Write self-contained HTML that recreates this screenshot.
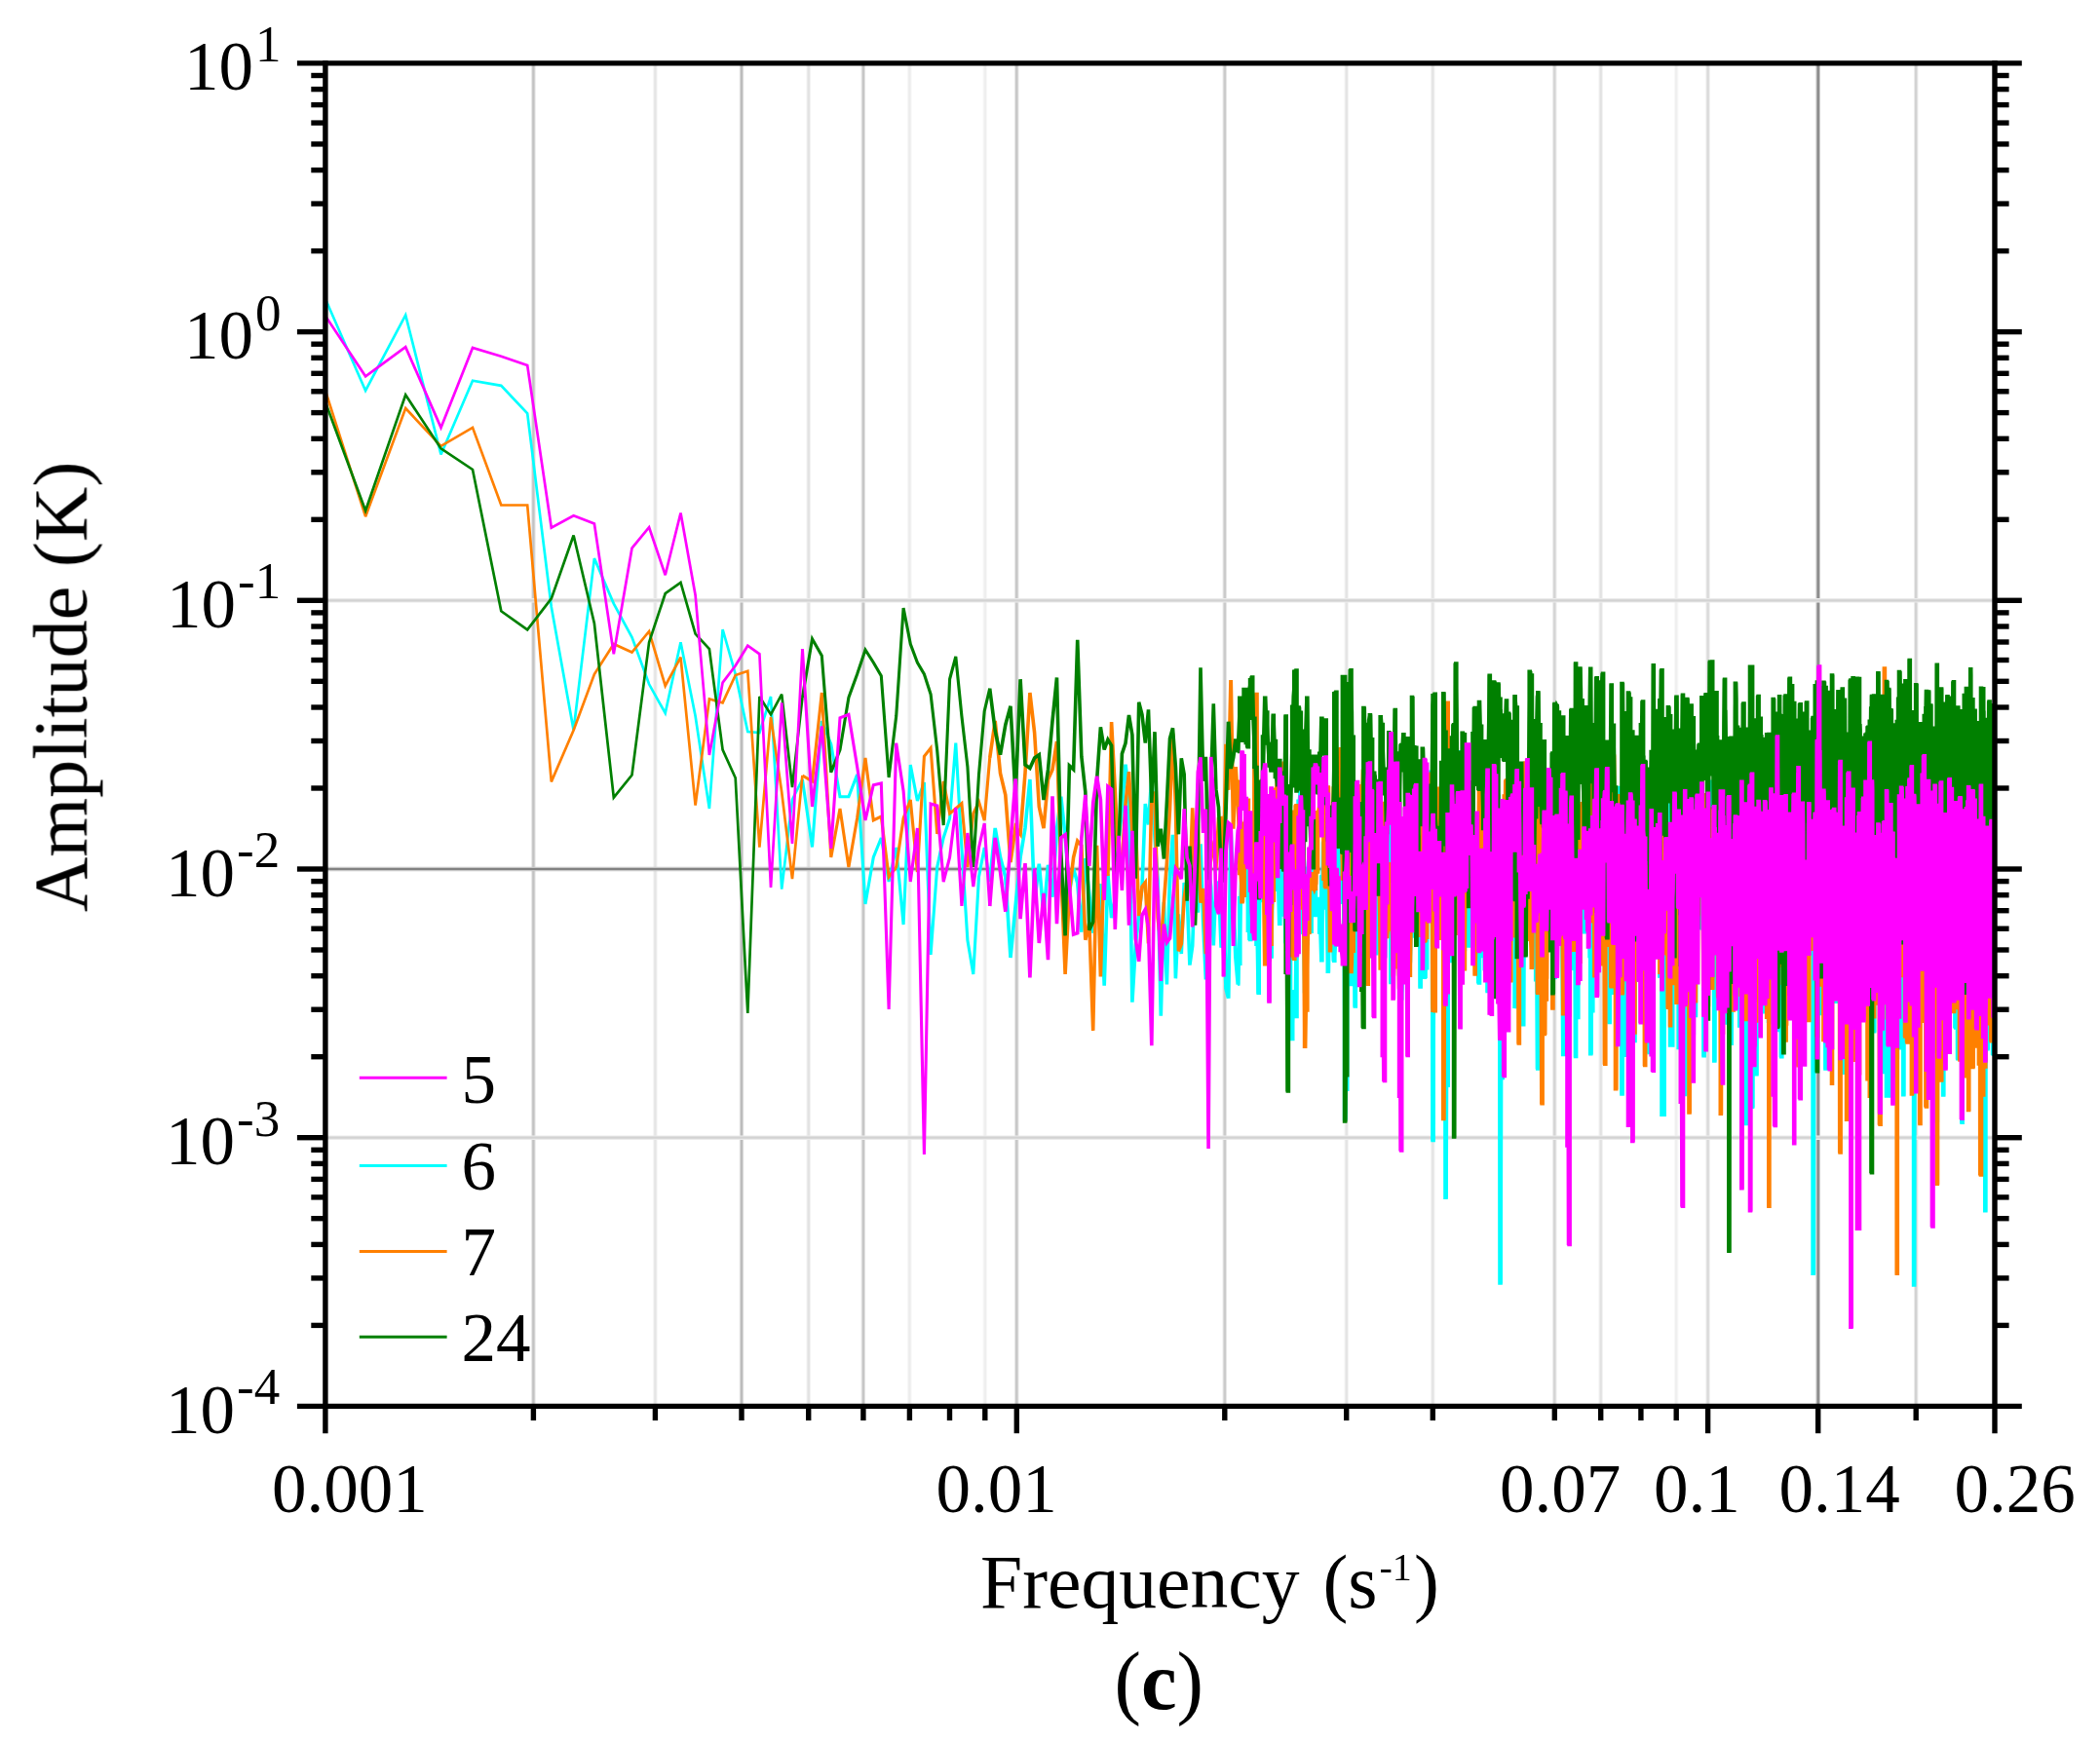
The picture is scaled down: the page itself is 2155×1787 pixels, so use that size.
<!DOCTYPE html>
<html lang="en">
<head>
<meta charset="utf-8">
<title>Amplitude spectrum (c)</title>
<style>
html,body{margin:0;padding:0;background:#ffffff;}
body{width:2155px;height:1787px;overflow:hidden;}
svg{display:block;}
</style>
</head>
<body>
<svg width="2155" height="1787" viewBox="0 0 2155 1787">
<rect x="0" y="0" width="2155" height="1787" fill="#ffffff"/>
<defs><filter id="soft" x="-2%" y="-2%" width="104%" height="104%"><feGaussianBlur stdDeviation="0.75"/></filter><clipPath id="plotclip"><rect x="333.9" y="64.9" width="1713.1" height="1378.5"/></clipPath></defs>
<g filter="url(#soft)">
<g fill="none">
<line x1="547.4" y1="64.9" x2="547.4" y2="1443.4" stroke="#e4e4e4" stroke-width="4.4"/>
<line x1="547.4" y1="64.9" x2="547.4" y2="1443.4" stroke="#c2c2c2" stroke-width="2.3"/>
<line x1="672.4" y1="64.9" x2="672.4" y2="1443.4" stroke="#f3f3f3" stroke-width="4.4"/>
<line x1="672.4" y1="64.9" x2="672.4" y2="1443.4" stroke="#e4e4e4" stroke-width="2.3"/>
<line x1="761.0" y1="64.9" x2="761.0" y2="1443.4" stroke="#e1e1e1" stroke-width="4.4"/>
<line x1="761.0" y1="64.9" x2="761.0" y2="1443.4" stroke="#bcbcbc" stroke-width="2.3"/>
<line x1="829.7" y1="64.9" x2="829.7" y2="1443.4" stroke="#f2f2f2" stroke-width="4.4"/>
<line x1="829.7" y1="64.9" x2="829.7" y2="1443.4" stroke="#e2e2e2" stroke-width="2.3"/>
<line x1="885.9" y1="64.9" x2="885.9" y2="1443.4" stroke="#e5e5e5" stroke-width="4.4"/>
<line x1="885.9" y1="64.9" x2="885.9" y2="1443.4" stroke="#c6c6c6" stroke-width="2.3"/>
<line x1="933.4" y1="64.9" x2="933.4" y2="1443.4" stroke="#f6f6f6" stroke-width="4.4"/>
<line x1="933.4" y1="64.9" x2="933.4" y2="1443.4" stroke="#ececec" stroke-width="2.3"/>
<line x1="1010.8" y1="64.9" x2="1010.8" y2="1443.4" stroke="#f8f8f8" stroke-width="4.4"/>
<line x1="1010.8" y1="64.9" x2="1010.8" y2="1443.4" stroke="#efefef" stroke-width="2.3"/>
<line x1="1043.3" y1="64.9" x2="1043.3" y2="1443.4" stroke="#e5e5e5" stroke-width="4.4"/>
<line x1="1043.3" y1="64.9" x2="1043.3" y2="1443.4" stroke="#c6c6c6" stroke-width="2.3"/>
<line x1="1256.8" y1="64.9" x2="1256.8" y2="1443.4" stroke="#e7e7e7" stroke-width="4.4"/>
<line x1="1256.8" y1="64.9" x2="1256.8" y2="1443.4" stroke="#cacaca" stroke-width="2.3"/>
<line x1="1381.7" y1="64.9" x2="1381.7" y2="1443.4" stroke="#f3f3f3" stroke-width="4.4"/>
<line x1="1381.7" y1="64.9" x2="1381.7" y2="1443.4" stroke="#e4e4e4" stroke-width="2.3"/>
<line x1="1470.3" y1="64.9" x2="1470.3" y2="1443.4" stroke="#f3f3f3" stroke-width="4.4"/>
<line x1="1470.3" y1="64.9" x2="1470.3" y2="1443.4" stroke="#e4e4e4" stroke-width="2.3"/>
<line x1="1595.3" y1="64.9" x2="1595.3" y2="1443.4" stroke="#ececec" stroke-width="4.4"/>
<line x1="1595.3" y1="64.9" x2="1595.3" y2="1443.4" stroke="#d4d4d4" stroke-width="2.3"/>
<line x1="1642.7" y1="64.9" x2="1642.7" y2="1443.4" stroke="#f2f2f2" stroke-width="4.4"/>
<line x1="1642.7" y1="64.9" x2="1642.7" y2="1443.4" stroke="#e2e2e2" stroke-width="2.3"/>
<line x1="1720.2" y1="64.9" x2="1720.2" y2="1443.4" stroke="#f8f8f8" stroke-width="4.4"/>
<line x1="1720.2" y1="64.9" x2="1720.2" y2="1443.4" stroke="#efefef" stroke-width="2.3"/>
<line x1="1752.6" y1="64.9" x2="1752.6" y2="1443.4" stroke="#eeeeee" stroke-width="4.4"/>
<line x1="1752.6" y1="64.9" x2="1752.6" y2="1443.4" stroke="#dadada" stroke-width="2.3"/>
<line x1="1966.2" y1="64.9" x2="1966.2" y2="1443.4" stroke="#ebebeb" stroke-width="4.4"/>
<line x1="1966.2" y1="64.9" x2="1966.2" y2="1443.4" stroke="#d2d2d2" stroke-width="2.3"/>
<line x1="1865.7" y1="64.9" x2="1865.7" y2="1443.4" stroke="#c9c9c9" stroke-width="4.6"/>
<line x1="1865.7" y1="64.9" x2="1865.7" y2="1443.4" stroke="#868686" stroke-width="2.2"/>
<line x1="333.9" y1="616.3" x2="2047.0" y2="616.3" stroke="#ebebeb" stroke-width="4.6"/>
<line x1="333.9" y1="616.3" x2="2047.0" y2="616.3" stroke="#d2d2d2" stroke-width="2.2"/>
<line x1="333.9" y1="892.0" x2="2047.0" y2="892.0" stroke="#c7c7c7" stroke-width="4.6"/>
<line x1="333.9" y1="892.0" x2="2047.0" y2="892.0" stroke="#828282" stroke-width="2.2"/>
<line x1="333.9" y1="1167.7" x2="2047.0" y2="1167.7" stroke="#ebebeb" stroke-width="4.6"/>
<line x1="333.9" y1="1167.7" x2="2047.0" y2="1167.7" stroke="#d2d2d2" stroke-width="2.2"/>
</g>
<g clip-path="url(#plotclip)" stroke-linejoin="miter" stroke-miterlimit="3">
<path stroke="#00ffff" stroke-width="2.7" fill="none" d="M327.6 292.4L375.1 401.0L416.2 323.4L452.5 466.5L485.0 390.7L514.3 395.8L541.2 424.3L565.8 623.0L588.6 749.5L609.9 573.1L629.8 619.6L648.5 654.0L666.1 702.3L682.7 732.0L698.5 659.2L713.6 735.0L727.9 830.0L741.6 646.0L754.7 692.0L767.3 751.0L779.4 752.0L791.0 715.0L802.2 912.6L813.0 821.0L823.4 800.0"/>
<path stroke="#00ffff" stroke-width="3.1" fill="none" d="M823.4 800.0L833.5 869.5L843.3 740.0L852.8 764.0L862.0 817.8L870.9 817.8L879.6 795.0L888.0 928.0L896.3 880.0L904.3 860.0L912.1 905.0L919.7 870.0L927.1 949.0L934.3 785.0L941.4 822.0L948.4 803.0L955.1 980.0L961.7 890.0L968.2 860.0L974.6 840.0L980.8 762.7L986.9 870.0L992.9 965.0L998.8 1000.0L1004.5 900.0L1010.2 870.0L1015.7 905.0"/>
<path stroke="#00ffff" stroke-width="3.6" fill="none" d="M1015.7 905.0L1021.2 850.0L1026.5 880.0L1031.8 900.0L1037.0 983.0L1042.1 930.0L1047.1 880.0L1052.0 850.0L1056.9 800.0L1061.6 925.4L1066.3 886.7L1071.0 938.3L1075.5 887.8L1080.0 920.7L1084.5 851.0L1088.8 817.8L1093.1 857.3L1097.4 915.4L1101.6 891.5L1105.7 906.2L1109.8 956.7L1113.8 881.0L1117.8 917.8L1121.7 957.6L1125.6 919.6L1129.4 907.2L1133.2 1011.8L1136.9 897.2L1140.6 942.1L1144.3 922.2L1147.9 862.7L1151.4 831.2L1155.0 784.7L1158.5 815.2L1161.9 1028.7L1165.3 971.0L1168.7 939.1L1172.0 910.3L1175.3 825.1L1178.5 846.5L1181.8 797.4L1185.0 859.9L1188.1 903.7L1191.3 1042.6L1194.4 925.9L1197.4 1010.5L1200.5 898.3L1203.5 856.8L1206.4 1004.3L1209.4 938.4L1212.3 979.0L1215.2 906.1L1218.1 915.1L1220.9 990.6L1223.7 970.8L1226.5 895.1L1229.3 936.7L1232.0 866.2L1234.7 947.3L1237.4 1005.4L1240.1 887.4L1242.7 910.1L1245.3 970.5L1247.9 905.0L1250.5 909.2L1253.1 972.8L1255.6 927.1"/>
<path stroke="#00ffff" stroke-width="3.9" fill="none" d="M1255.6 927.1L1258.1 1014.5L1260.6 1024.6L1263.1 853.1L1265.6 920.3L1268.0 982.5L1270.4 1010.5L1272.8 935.0L1275.2 862.7L1277.5 868.9L1279.9 899.5L1282.2 965.0L1284.5 920.3L1286.8 853.3L1289.1 885.4L1291.3 1019.7L1293.6 828.2L1295.8 925.1L1298.0 895.7L1300.2 857.0L1302.4 897.8L1304.5 982.5L1306.7 856.2L1308.8 846.8L1310.9 874.9L1313.0 948.9L1315.1 894.8L1317.2 891.2L1319.3 967.4L1321.3 928.7L1323.3 986.6L1325.4 1067.0L1327.4 1017.2L1329.4 1044.1L1331.3 857.3L1333.3 825.2L1335.3 801.0L1337.2 924.3L1339.1 1018.1L1341.1 908.0L1343.0 879.8L1344.9 956.8L1346.8 854.2L1348.6 845.5L1350.5 940.1L1352.3 921.9L1354.2 925.3L1356.0 986.2L1357.8 864.4L1359.6 913.0L1361.4 925.2L1363.2 997.8L1365.0 853.7L1366.8 935.0L1368.5 986.8L1370.3 969.6L1372.0 807.7L1373.7 847.6L1375.4 926.7L1377.1 879.5L1378.8 831.5L1380.5 1149.0L1382.2 1032.8L1383.9 947.7L1385.5 1011.0L1387.2 897.7L1388.8 891.8L1390.5 1033.6L1392.1 900.8L1393.7 968.3L1395.3 889.6L1396.9 824.6L1398.5 802.4L1400.1 876.9L1401.7 933.1L1403.2 964.7L1404.8 907.0L1406.3 898.9L1407.9 874.4L1409.4 877.3L1411.0 866.7L1412.5 979.2L1414.0 924.7L1415.5 953.6L1417.0 942.9L1418.5 849.7L1420.0 929.6L1421.5 982.7L1422.9 841.1L1424.4 871.5L1425.8 828.1L1427.3 1009.0L1428.7 911.5L1430.2 940.5L1431.6 889.7L1433.0 868.6L1434.4 974.7L1435.9 866.8L1437.3 1025.3L1438.7 1013.6L1440.0 890.6L1441.4 892.5L1442.8 829.0L1444.2 858.1L1445.5 934.5L1446.9 986.9L1448.3 947.1L1449.6 948.5L1450.9 905.4L1452.3 807.3L1453.6 891.8L1454.9 936.5L1456.3 886.0L1457.6 1013.5L1458.9 888.4L1460.2 935.1L1461.5 936.0L1462.8 1003.9L1464.1 842.4L1465.3 813.5L1466.6 863.7L1467.9 791.8L1469.2 831.4L1470.4 1171.0L1471.7 944.8L1472.9 985.9L1474.2 881.9L1475.4 857.0L1476.6 887.0L1477.9 877.3L1479.1 867.3L1480.3 914.5L1481.5 994.4L1482.7 865.6L1483.9 1229.8L1485.1 927.6L1486.3 957.6L1487.5 878.0L1488.7 987.1L1489.9 838.3L1491.1 827.5L1492.3 934.8L1493.4 843.7L1494.6 823.9L1495.7 918.5L1496.9 879.4L1498.1 771.2L1499.2 789.1L1500.3 870.0L1501.5 990.2L1502.6 879.6L1503.8 812.7L1504.9 850.4L1506.0 971.5L1507.1 875.6L1508.2 856.8L1509.3 892.7L1510.4 917.0L1511.5 896.8L1512.6 871.1L1513.7 870.2L1514.8 879.7L1515.9 885.6L1517.0 1009.5L1518.1 984.2L1519.2 980.8L1520.2 856.9L1521.3 910.6L1522.4 907.4L1523.4 996.3L1524.5 911.5L1525.5 902.9L1526.6 1018.0L1527.6 921.4L1528.7 930.4L1529.7 877.8L1530.7 930.7L1531.8 1015.7L1532.8 913.9L1533.8 852.4L1534.9 907.1L1535.9 805.8L1536.9 849.9L1537.9 976.8L1538.9 940.6L1539.9 1317.5L1540.9 911.5L1541.9 1017.2L1542.9 875.5L1543.9 965.6L1544.9 986.2L1545.9 960.5L1546.9 886.2L1547.8 951.5L1548.8 920.1L1549.8 928.2L1550.8 875.3L1551.7 874.5L1552.7 810.3L1553.6 872.6L1554.6 955.7L1555.6 1034.0L1556.5 902.0L1557.5 821.3L1558.4 881.3L1559.4 877.1L1560.3 873.3L1561.2 906.3L1562.2 851.5L1563.1 1052.3L1564.0 938.9L1565.0 893.6L1565.9 893.5L1566.8 895.5L1567.7 825.7L1568.6 834.9L1569.5 893.3L1570.5 827.9L1571.4 958.5L1572.3 938.7L1573.2 886.5L1574.1 969.5L1575.0 892.8L1575.9 879.8L1576.8 944.9L1577.6 1097.6L1578.5 970.0L1579.4 944.6L1580.3 864.1L1581.2 895.8L1582.0 854.5L1582.9 911.3L1583.8 926.3L1584.7 889.6L1585.5 977.7L1586.4 902.2L1587.3 915.5L1588.1 933.2L1589.0 934.8L1589.8 873.6L1590.7 849.3L1591.5 904.3L1592.4 859.8L1593.2 877.3L1594.1 1006.2L1594.9 949.6L1595.7 1003.7L1596.6 974.3L1597.4 889.1L1598.2 822.4L1599.1 855.1L1599.9 833.7L1600.7 841.6L1601.5 899.9L1602.4 912.0L1603.2 972.0L1604.0 1083.0L1604.8 1044.4L1605.6 872.3L1606.4 882.6L1607.2 912.7L1608.1 912.6L1608.9 980.1L1609.7 1015.6L1610.5 953.3L1611.3 991.0L1612.0 994.7L1612.8 940.4L1613.6 868.0L1614.4 936.7L1615.2 845.3L1616.0 900.4L1616.8 1085.0L1617.6 933.8L1618.3 1045.0L1619.1 914.7L1619.9 858.1L1620.7 857.4L1621.4 842.0L1622.2 913.8L1623.0 928.1L1623.7 893.2L1624.5 886.2L1625.3 957.3L1626.0 946.4L1626.8 822.3L1627.5 889.3L1628.3 898.3L1629.0 878.9L1629.8 897.9L1630.5 874.9L1631.3 983.2L1632.0 978.0L1632.8 1082.4L1633.5 980.5L1634.3 947.8L1635.0 888.5L1635.7 876.0L1636.5 927.1L1637.2 892.9L1637.9 906.4L1638.7 834.7L1639.4 840.5L1640.1 845.1L1640.8 832.6L1641.6 879.4L1642.3 846.2L1643.0 840.2L1643.7 910.0L1644.4 899.3L1645.1 814.3L1645.9 883.0L1646.6 942.9L1647.3 866.4L1648.0 933.6L1648.7 910.4L1649.4 903.0L1650.1 838.0L1650.8 845.2L1651.5 1050.0L1652.2 907.7L1652.9 928.1L1653.6 965.9L1654.3 1019.9L1655.0 990.6L1655.7 916.3L1656.3 879.3L1657.0 963.1L1657.7 935.8L1658.4 838.3L1659.1 895.4L1659.8 852.1L1660.4 874.4L1661.1 1005.0L1661.8 966.4L1662.5 858.4L1663.1 808.0L1663.8 912.5L1664.5 1123.6L1665.2 1070.3L1665.8 902.6L1666.5 1001.8L1667.2 977.9L1667.8 868.4L1668.5 1083.7L1669.1 897.5L1669.8 796.0L1670.5 822.2L1671.1 840.0L1671.8 936.8L1672.4 929.4L1673.1 895.2L1673.7 856.9L1674.4 892.3L1675.0 968.5L1675.7 972.3L1676.3 1069.0L1677.0 918.4L1677.6 919.8L1678.2 928.7L1678.9 985.0L1679.5 934.2L1680.2 882.5L1680.8 799.1L1681.4 982.4L1682.1 870.4L1682.7 810.8L1683.3 807.9L1684.0 865.3L1684.6 905.7L1685.2 987.5L1685.8 933.4L1686.5 855.4L1687.1 939.8L1687.7 926.0L1688.3 926.0L1688.9 851.3L1689.6 834.3L1690.2 901.0L1690.8 998.3L1691.4 1081.1L1692.0 981.3L1692.6 898.7L1693.2 910.4L1693.9 967.2L1694.5 831.3L1695.1 835.2L1695.7 968.0L1696.3 915.7L1696.9 985.3L1697.5 832.1L1698.1 933.0L1698.7 815.5L1699.3 891.1L1699.9 916.9L1700.5 828.6L1701.1 974.8L1701.7 954.6L1702.3 867.2L1702.9 943.2L1703.4 1002.5L1704.0 906.2L1704.6 939.3L1705.2 961.4L1705.8 1006.9L1706.4 1144.7L1707.0 1049.2L1707.5 866.7L1708.1 887.6L1708.7 908.0L1709.3 841.6L1709.9 841.2L1710.4 867.8L1711.0 997.9L1711.6 922.1L1712.2 871.5L1712.7 822.4L1713.3 837.7L1713.9 831.1L1714.5 890.4L1715.0 1073.5L1715.6 984.6L1716.2 927.5L1716.7 897.2L1717.3 1007.7L1717.9 861.7L1718.4 903.0L1719.0 873.3L1719.5 834.3L1720.1 833.0L1720.7 821.6L1721.2 870.3L1721.8 856.0L1722.3 844.9L1722.9 907.4L1723.4 1076.1L1724.0 911.3L1724.5 902.3L1725.1 925.6L1725.6 922.8L1726.2 904.4L1726.7 972.3L1727.3 1015.6L1727.8 929.8L1728.4 915.9L1728.9 931.7L1729.5 1124.0L1730.0 994.4L1730.5 1031.6L1731.1 966.6L1731.6 876.8L1732.2 878.7L1732.7 967.0L1733.2 1018.4L1733.8 992.1L1734.3 885.7L1734.8 932.4L1735.4 871.0L1735.9 839.4L1736.4 965.6L1737.0 952.1L1737.5 1060.9L1738.0 874.1L1738.5 848.8L1739.1 828.5L1739.6 878.8L1740.1 1043.1L1740.6 942.5L1741.2 902.8L1741.7 888.1L1742.2 844.7L1742.7 859.0L1743.2 843.7L1743.8 925.3L1744.3 937.7L1744.8 876.1L1745.3 847.4L1745.8 953.4L1746.3 930.2L1746.9 859.4L1747.4 954.6L1747.9 940.5L1748.4 1084.3L1748.9 948.1L1749.4 882.0L1749.9 994.1L1750.4 856.1L1750.9 876.9L1751.4 904.9L1751.9 883.2L1752.4 908.1L1752.9 876.8L1753.5 851.1L1754.0 801.7L1754.5 832.4L1755.0 884.5L1755.5 916.3L1755.9 850.0L1756.4 878.4L1756.9 868.7L1757.4 918.0L1757.9 932.3L1758.4 871.7L1758.9 1050.6L1759.4 1089.6L1759.9 970.7L1760.4 877.9L1760.9 942.6L1761.4 930.5L1761.9 891.7L1762.4 871.7L1762.8 901.9L1763.3 883.1L1763.8 938.9L1764.3 977.6L1764.8 1005.7L1765.3 976.9L1765.7 849.4L1766.2 842.8L1766.7 823.7L1767.2 939.1L1767.7 1032.5L1768.1 1010.3L1768.6 883.2L1769.1 880.4L1769.6 895.1L1770.1 966.4L1770.5 1050.6L1771.0 912.5L1771.5 920.7L1772.0 844.2L1772.4 908.2L1772.9 973.0L1773.4 1025.9L1773.8 892.6L1774.3 853.0L1774.8 1002.0L1775.2 876.3L1775.7 887.9L1776.2 897.6L1776.6 1071.8L1777.1 987.5L1777.6 957.5L1778.0 877.1L1778.5 843.8L1779.0 851.2L1779.4 914.3L1779.9 876.5L1780.3 835.1L1780.8 901.7L1781.3 959.4L1781.7 831.5L1782.2 891.3L1782.6 875.6L1783.1 986.0L1783.5 890.2L1784.0 823.2L1784.5 921.8L1784.9 936.3L1785.4 926.8L1785.8 1053.5L1786.3 867.9L1786.7 890.5L1787.2 921.6L1787.6 902.9L1788.1 856.6L1788.5 801.3L1789.0 867.2L1789.4 1078.6L1789.8 933.6L1790.3 916.9L1790.7 958.7L1791.2 937.8L1791.6 943.1L1792.1 912.1L1792.5 1154.0L1793.0 958.9L1793.4 913.1L1793.8 937.9L1794.3 867.7L1794.7 907.3L1795.2 901.2L1795.6 882.3L1796.0 885.8L1796.5 972.0L1796.9 944.6L1797.3 915.9L1797.8 849.2L1798.2 887.4L1798.6 1136.8L1799.1 926.2L1799.5 860.1L1799.9 909.7L1800.4 1000.1L1800.8 931.6L1801.2 990.9L1801.7 976.8L1802.1 937.0L1802.5 1103.4L1802.9 997.6L1803.4 966.2L1803.8 888.8L1804.2 910.2L1804.6 854.8L1805.1 898.8L1805.5 925.4L1805.9 928.6L1806.3 938.7L1806.8 898.4L1807.2 913.6L1807.6 974.3L1808.0 1039.2L1808.4 912.8L1808.9 961.0L1809.3 873.5L1809.7 835.8L1810.1 948.9L1810.5 937.1L1811.0 971.2L1811.4 923.9L1811.8 968.2L1812.2 942.5L1812.6 885.5L1813.0 898.0L1813.4 858.7L1813.9 815.8L1814.3 879.9L1814.7 1050.1L1815.1 951.9L1815.5 987.5L1815.9 948.4L1816.3 889.5L1816.7 922.9L1817.1 887.8L1817.5 877.0L1818.0 868.6L1818.4 829.6L1818.8 940.2L1819.2 944.8L1819.6 841.1L1820.0 851.7L1820.4 904.6L1820.8 846.2L1821.2 860.0L1821.6 921.7L1822.0 978.6L1822.4 896.8L1822.8 875.2L1823.2 870.6L1823.6 911.0L1824.0 1058.1L1824.4 850.5L1824.8 882.6L1825.2 871.1L1825.6 833.4L1826.0 876.6L1826.4 900.4L1826.8 903.5L1827.2 860.1L1827.6 1085.3L1828.0 848.2L1828.4 941.1L1828.7 903.2L1829.1 923.3L1829.5 902.8L1829.9 912.1L1830.3 863.8L1830.7 817.9L1831.1 991.5L1831.5 846.9L1831.9 889.7L1832.3 971.1L1832.7 969.6L1833.0 894.5L1833.4 878.8L1833.8 871.1L1834.2 969.7L1834.6 1042.9L1835.0 850.7L1835.4 913.4L1835.7 864.3L1836.1 856.5L1836.5 816.6L1836.9 801.5L1837.3 881.2L1837.7 992.5L1838.0 852.5L1838.4 859.5L1838.8 1015.9L1839.2 930.4L1839.6 1038.8L1839.9 879.9L1840.3 859.4L1840.7 862.0L1841.1 929.1L1841.5 841.9L1841.8 852.1L1842.2 1009.3L1842.6 834.9L1843.0 832.3L1843.3 923.9L1843.7 880.3L1844.1 807.3L1844.5 833.9L1844.8 850.7L1845.2 888.5L1845.6 974.9L1845.9 933.1L1846.3 857.5L1846.7 859.0L1847.1 911.7L1847.4 856.4L1847.8 978.0L1848.2 889.4L1848.5 876.7L1848.9 1013.7L1849.3 843.6L1849.6 939.7L1850.0 847.4L1850.4 869.7L1850.7 881.0L1851.1 865.4L1851.5 899.2L1851.8 831.1L1852.2 820.9L1852.6 825.4L1852.9 913.4L1853.3 901.3L1853.6 878.1L1854.0 927.1L1854.4 947.4L1854.7 885.5L1855.1 906.4L1855.5 914.5L1855.8 918.7L1856.2 879.7L1856.5 812.2L1856.9 895.2L1857.3 883.2L1857.6 807.9L1858.0 815.3L1858.3 925.6L1858.7 899.9L1859.0 893.4L1859.4 930.7L1859.8 874.1L1860.1 905.3L1860.5 901.5L1860.8 872.1L1861.2 1307.7L1861.5 894.1L1861.9 916.4L1862.2 889.8L1862.6 980.3L1862.9 915.3L1863.3 894.5L1863.6 888.6L1864.0 848.3L1864.3 957.0L1864.7 983.1L1865.0 914.5L1865.4 866.1L1865.7 966.2L1866.1 947.3L1866.4 999.9L1866.8 784.3L1867.1 780.5L1867.5 821.4L1867.8 878.8L1868.2 1041.1L1868.5 886.4L1868.9 822.0L1869.2 882.8L1869.5 933.7L1869.9 844.6L1870.2 847.3L1870.6 916.4L1870.9 923.2L1871.3 855.1L1871.6 988.4L1871.9 927.7L1872.3 932.8L1872.6 972.3L1873.0 945.1L1873.3 1097.5L1873.6 1026.6L1874.0 895.8L1874.3 880.1L1874.7 897.9L1875.0 908.0L1875.3 914.0L1875.7 899.9L1876.0 873.0L1876.4 894.2L1876.7 954.0L1877.0 1021.8L1877.4 1068.8L1877.7 922.4L1878.0 904.1L1878.4 916.9L1878.7 983.4L1879.0 899.3L1879.4 873.3L1879.7 893.8L1880.0 898.9L1880.4 865.8L1880.7 844.9L1881.0 936.1L1881.4 959.2L1881.7 969.8L1882.0 970.3L1882.4 937.6L1882.7 894.5L1883.0 935.0L1883.3 884.0L1883.7 912.3L1884.0 1028.7L1884.3 875.2L1884.7 927.3L1885.0 903.2L1885.3 859.0L1885.6 991.0L1886.0 884.1L1886.3 876.3L1886.6 831.7L1886.9 903.4L1887.3 845.6L1887.6 878.8L1887.9 912.1L1888.2 875.6L1888.6 842.7L1888.9 874.4L1889.2 908.7L1889.5 931.2L1889.9 946.9L1890.2 906.8L1890.5 1101.8L1890.8 904.7L1891.1 918.6L1891.5 953.4L1891.8 904.2L1892.1 959.5L1892.4 842.0L1892.7 948.7L1893.1 918.9L1893.4 900.2L1893.7 959.7L1894.0 893.5L1894.3 950.6L1894.7 900.7L1895.0 902.8L1895.3 941.9L1895.6 897.4L1895.9 898.7L1896.2 898.1L1896.5 823.6L1896.9 829.4L1897.2 982.7L1897.5 842.3L1897.8 837.4L1898.1 895.0L1898.4 869.7L1898.7 913.9L1899.1 911.9L1899.4 906.9L1899.7 865.7L1900.0 869.2L1900.3 961.2L1900.6 943.9L1900.9 869.2L1901.2 892.5L1901.6 914.2L1901.9 856.1L1902.2 1064.7L1902.5 828.6L1902.8 859.4L1903.1 865.5L1903.4 913.6L1903.7 856.1L1904.0 871.9L1904.3 976.7L1904.6 941.2L1904.9 857.7L1905.3 873.6L1905.6 867.8L1905.9 1037.4L1906.2 906.0L1906.5 918.2L1906.8 1015.3L1907.1 1025.8L1907.4 909.0L1907.7 998.2L1908.0 984.5L1908.3 937.1L1908.6 867.6L1908.9 952.6L1909.2 998.0L1909.5 922.0L1909.8 827.5L1910.1 812.8L1910.4 858.9L1910.7 894.6L1911.0 1026.8L1911.3 984.5L1911.6 871.8L1911.9 875.6L1912.2 827.8L1912.5 863.7L1912.8 973.4L1913.1 906.9L1913.4 862.5L1913.7 883.7L1914.0 922.4L1914.3 989.7L1914.6 995.2L1914.9 1005.4L1915.2 955.5L1915.5 907.5L1915.8 956.1L1916.1 815.2L1916.4 821.4L1916.7 1042.5L1917.0 1027.5L1917.3 952.1L1917.6 921.5L1917.9 981.9L1918.2 891.9L1918.5 891.1L1918.7 981.8L1919.0 904.0L1919.3 850.1L1919.6 906.9L1919.9 946.9L1920.2 947.0L1920.5 990.9L1920.8 846.5L1921.1 1026.0L1921.4 852.1L1921.7 854.8L1922.0 878.6L1922.2 904.9L1922.5 832.3L1922.8 937.3L1923.1 885.7L1923.4 1059.4L1923.7 879.5L1924.0 876.8L1924.3 990.7L1924.6 951.5L1924.8 935.3L1925.1 867.8L1925.4 899.6L1925.7 952.7L1926.0 868.0L1926.3 924.1L1926.6 1030.4L1926.9 856.5L1927.1 889.4L1927.4 970.9L1927.7 957.8L1928.0 889.8L1928.3 924.9L1928.6 869.5L1928.8 904.2L1929.1 873.3L1929.4 898.4L1929.7 833.5L1930.0 808.1L1930.3 865.8L1930.5 843.0L1930.8 872.7L1931.1 925.8L1931.4 926.4L1931.7 927.8L1932.0 892.0L1932.2 833.3L1932.5 1049.6L1932.8 872.6L1933.1 894.0L1933.4 946.3L1933.6 842.2L1933.9 833.6L1934.2 862.0L1934.5 947.0L1934.8 1101.0L1935.0 911.7L1935.3 916.6L1935.6 1020.2L1935.9 875.0L1936.1 903.2L1936.4 900.5L1936.7 1056.4L1937.0 1125.5L1937.3 972.7L1937.5 885.8L1937.8 938.4L1938.1 921.4L1938.4 896.0L1938.6 879.2L1938.9 915.0L1939.2 850.0L1939.5 889.4L1939.7 908.7L1940.0 875.8L1940.3 900.5L1940.6 924.7L1940.8 991.3L1941.1 964.5L1941.4 916.0L1941.6 995.2L1941.9 869.8L1942.2 871.3L1942.5 844.0L1942.7 865.4L1943.0 1025.1L1943.3 844.9L1943.5 823.2L1943.8 953.7L1944.1 851.0L1944.4 818.6L1944.6 894.2L1944.9 977.5L1945.2 1104.3L1945.4 986.2L1945.7 1085.9L1946.0 889.8L1946.2 819.0L1946.5 876.3L1946.8 833.1L1947.0 966.3L1947.3 904.1L1947.6 922.8L1947.8 835.6L1948.1 1040.6L1948.4 827.9L1948.6 844.7L1948.9 1076.4L1949.2 1020.6L1949.4 926.5L1949.7 964.2L1950.0 998.6L1950.2 947.9L1950.5 881.1L1950.8 874.0L1951.0 1010.5L1951.3 939.4L1951.6 1014.4L1951.8 898.1L1952.1 1009.9L1952.3 1044.5L1952.6 830.5L1952.9 950.5L1953.1 923.1L1953.4 1124.4L1953.7 848.7L1953.9 923.3L1954.2 1016.4L1954.4 1001.7L1954.7 995.2L1955.0 910.4L1955.2 895.3L1955.5 934.5L1955.8 904.8L1956.0 878.8L1956.3 894.3L1956.5 838.2L1956.8 955.2L1957.0 909.0L1957.3 992.3L1957.6 867.0L1957.8 926.1L1958.1 952.2L1958.3 921.3L1958.6 920.0L1958.9 920.3L1959.1 847.2L1959.4 864.5L1959.6 1040.1L1959.9 957.5L1960.1 815.5L1960.4 791.5L1960.7 812.8L1960.9 868.9L1961.2 851.2L1961.4 884.5L1961.7 839.7L1961.9 895.7L1962.2 837.5L1962.4 907.6L1962.7 957.6L1963.0 825.7L1963.2 932.0L1963.5 943.4L1963.7 1053.4L1964.0 964.9L1964.2 1319.5L1964.5 1017.0L1964.7 924.1L1965.0 887.1L1965.2 943.1L1965.5 947.7L1965.7 850.6L1966.0 868.0L1966.2 960.7L1966.5 885.3L1966.7 910.4L1967.0 804.5L1967.2 835.8L1967.5 973.6L1967.7 879.4L1968.0 913.8L1968.2 895.8L1968.5 885.8L1968.7 887.5L1969.0 996.0L1969.2 1070.4L1969.5 862.5L1969.7 883.6L1970.0 886.1L1970.2 828.9L1970.5 904.0L1970.7 927.0L1971.0 955.9L1971.2 948.0L1971.5 909.8L1971.7 911.8L1972.0 892.8L1972.2 829.6L1972.5 870.0L1972.7 1016.6L1973.0 926.7L1973.2 921.5L1973.4 860.3L1973.7 909.6L1973.9 846.2L1974.2 853.1L1974.4 918.0L1974.7 918.4L1974.9 839.5L1975.2 862.4L1975.4 871.4L1975.6 878.6L1975.9 923.8L1976.1 896.3L1976.4 858.2L1976.6 909.7L1976.9 902.6L1977.1 970.9L1977.4 987.4L1977.6 886.5L1977.8 857.6L1978.1 940.9L1978.3 866.6L1978.6 862.2L1978.8 899.7L1979.0 900.5L1979.3 982.4L1979.5 841.2L1979.8 912.0L1980.0 958.2L1980.2 1017.8L1980.5 934.2L1980.7 899.8L1981.0 879.8L1981.2 922.3L1981.4 871.2L1981.7 920.5L1981.9 1088.0L1982.2 996.5L1982.4 938.3L1982.6 951.1L1982.9 925.9L1983.1 1015.0L1983.4 951.0L1983.6 1079.7L1983.8 911.5L1984.1 893.3L1984.3 898.5L1984.5 845.3L1984.8 999.9L1985.0 923.9L1985.3 879.5L1985.5 944.7L1985.7 928.9L1986.0 938.9L1986.2 918.0L1986.4 911.1L1986.7 1073.9L1986.9 917.6L1987.1 897.0L1987.4 896.0L1987.6 945.4L1987.8 1151.0L1988.1 969.8L1988.3 838.7L1988.5 861.1L1988.8 998.8L1989.0 952.6L1989.2 990.5L1989.5 909.5L1989.7 931.9L1989.9 925.9L1990.2 944.4L1990.4 936.8L1990.6 888.2L1990.9 938.3L1991.1 852.8L1991.3 891.0L1991.6 894.3L1991.8 1082.9L1992.0 878.8L1992.3 1044.0L1992.5 1039.0L1992.7 915.7L1993.0 853.8L1993.2 865.7L1993.4 916.8L1993.7 1020.3L1993.9 902.7L1994.1 916.4L1994.3 1124.6L1994.6 855.2L1994.8 893.8L1995.0 947.9L1995.3 883.7L1995.5 957.7L1995.7 919.7L1995.9 924.3L1996.2 1019.1L1996.4 1078.6L1996.6 977.9L1996.9 876.2L1997.1 1017.1L1997.3 1060.5L1997.5 1008.2L1997.8 1080.8L1998.0 934.5L1998.2 897.1L1998.4 902.2L1998.7 930.6L1998.9 966.3L1999.1 826.3L1999.3 809.3L1999.6 930.9L1999.8 892.0L2000.0 866.6L2000.3 856.8L2000.5 857.3L2000.7 901.3L2000.9 932.6L2001.2 926.2L2001.4 857.7L2001.6 988.0L2001.8 903.8L2002.0 884.9L2002.3 1028.6L2002.5 890.8L2002.7 888.3L2002.9 996.3L2003.2 877.3L2003.4 945.8L2003.6 1037.2L2003.8 988.3L2004.1 1020.8L2004.3 837.2L2004.5 854.7L2004.7 825.9L2004.9 941.8L2005.2 966.2L2005.4 938.8L2005.6 906.4L2005.8 869.3L2006.1 1055.5L2006.3 885.7L2006.5 876.4L2006.7 906.2L2006.9 965.2L2007.2 1028.4L2007.4 874.1L2007.6 843.8L2007.8 866.2L2008.0 881.0L2008.3 958.2L2008.5 965.5L2008.7 1087.4L2008.9 976.5L2009.1 925.4L2009.3 832.5L2009.6 863.4L2009.8 885.9L2010.0 888.1L2010.2 1083.9L2010.4 867.6L2010.7 870.6L2010.9 836.5L2011.1 1004.9L2011.3 901.5L2011.5 1017.5L2011.7 988.8L2012.0 934.8L2012.2 954.3L2012.4 1034.6L2012.6 858.7L2012.8 934.6L2013.0 1152.8L2013.3 896.9L2013.5 905.4L2013.7 879.3L2013.9 878.8L2014.1 1006.8L2014.3 870.4L2014.6 859.1L2014.8 860.2L2015.0 874.2L2015.2 1078.4L2015.4 853.5L2015.6 875.3L2015.8 912.3L2016.1 871.4L2016.3 906.7L2016.5 841.7L2016.7 946.5L2016.9 909.9L2017.1 928.5L2017.3 987.9L2017.5 907.8L2017.8 852.5L2018.0 1033.8L2018.2 885.4L2018.4 852.9L2018.6 844.1L2018.8 1034.2L2019.0 961.6L2019.2 871.9L2019.5 847.1L2019.7 981.8L2019.9 900.2L2020.1 874.2L2020.3 1074.8L2020.5 945.4L2020.7 916.5L2020.9 914.7L2021.1 885.1L2021.4 875.9L2021.6 856.7L2021.8 939.5L2022.0 932.7L2022.2 895.2L2022.4 1010.7L2022.6 1008.9L2022.8 997.4L2023.0 892.1L2023.2 962.0L2023.5 910.0L2023.7 1017.3L2023.9 1020.4L2024.1 956.8L2024.3 990.0L2024.5 882.5L2024.7 1010.2L2024.9 846.3L2025.1 849.6L2025.3 888.7L2025.5 974.2L2025.7 896.0L2025.9 876.0L2026.2 903.2L2026.4 864.0L2026.6 958.9L2026.8 891.4L2027.0 1061.8L2027.2 1006.2L2027.4 864.8L2027.6 930.5L2027.8 1055.8L2028.0 878.7L2028.2 846.5L2028.4 925.3L2028.6 978.5L2028.8 908.5L2029.0 891.1L2029.2 912.9L2029.5 828.0L2029.7 878.6L2029.9 938.0L2030.1 927.4L2030.3 1064.2L2030.5 907.8L2030.7 941.0L2030.9 900.7L2031.1 877.3L2031.3 818.4L2031.5 912.6L2031.7 1027.4L2031.9 875.7L2032.1 827.1L2032.3 876.1L2032.5 921.1L2032.7 868.8L2032.9 863.5L2033.1 945.7L2033.3 927.4L2033.5 838.3L2033.7 876.5L2033.9 860.3L2034.1 889.7L2034.3 870.0L2034.5 1000.7L2034.7 879.9L2034.9 882.7L2035.1 889.2L2035.3 891.2L2035.5 858.5L2035.7 881.3L2035.9 1030.6L2036.1 1069.4L2036.3 945.0L2036.5 953.9L2036.7 928.6L2036.9 976.2L2037.1 942.5L2037.3 1243.4L2037.5 829.5L2037.7 839.0L2037.9 912.6L2038.1 841.4L2038.3 854.2L2038.5 895.7L2038.7 1027.9L2038.9 1001.7L2039.1 968.7L2039.3 846.1L2039.5 903.1L2039.7 862.2L2039.9 928.0L2040.1 1077.2L2040.3 926.0L2040.5 903.6L2040.7 952.1L2040.9 929.8L2041.1 906.5L2041.3 853.7L2041.5 872.4L2041.7 954.4L2041.9 933.3L2042.1 898.3L2042.3 865.1L2042.5 822.6L2042.7 1038.7L2042.9 981.2L2043.1 847.4L2043.3 921.8L2043.5 860.6L2043.7 861.3L2043.9 951.0L2044.1 968.4L2044.2 879.1L2044.4 1023.6L2044.6 843.4L2044.8 1082.9L2045.0 846.8L2045.2 887.0L2045.4 923.3L2045.6 893.0L2045.8 960.6L2046.0 932.7L2046.2 883.8L2046.4 903.4L2046.6 872.4L2046.8 1049.7L2047.0 888.1L2047.2 911.1"/>
<path fill="#00ffff" stroke="none" d="M1270.0 920.0V1011.7H1272.5V920.0ZM1272.2 861.5V991.1H1274.6V861.5ZM1274.3 861.5V923.7H1276.8V861.5ZM1276.5 862.0V898.5H1278.9V862.0ZM1278.6 867.6V956.9H1281.1V867.6ZM1280.8 895.6V966.2H1283.2V895.6ZM1282.9 870.3V966.2H1285.4V870.3ZM1285.1 852.1V931.8H1287.5V852.1ZM1287.2 852.1V970.9H1289.7V852.1ZM1289.4 873.2V1020.9H1291.8V873.2ZM1291.5 827.0V1020.9H1294.0V827.0ZM1293.7 827.0V926.3H1296.2V827.0ZM1295.9 875.0V926.3H1298.3V875.0ZM1298.0 855.8V911.5H1300.5V855.8ZM1300.2 855.8V940.0H1302.6V855.8ZM1302.3 875.0V983.7H1304.8V875.0ZM1304.5 850.4V983.7H1306.9V850.4ZM1306.6 845.6V925.2H1309.1V845.6ZM1308.8 845.6V915.1H1311.2V845.6ZM1310.9 859.2V950.1H1313.4V859.2ZM1313.1 891.5V950.1H1315.6V891.5ZM1315.3 890.0V940.7H1317.7V890.0ZM1317.4 890.0V968.6H1319.9V890.0ZM1319.6 927.5V972.8H1322.0V927.5ZM1321.7 927.5V1052.6H1324.2V927.5ZM1323.9 969.2V1068.2H1326.3V969.2ZM1326.0 1016.0V1068.2H1328.5V1016.0ZM1328.2 854.5V1045.3H1330.6V854.5ZM1330.3 820.5V1045.3H1332.8V820.5ZM1332.5 799.8V857.7H1334.9V799.8ZM1334.7 799.8V959.0H1337.1V799.8ZM1336.8 827.3V1019.3H1339.3V827.3ZM1339.0 889.8V1019.3H1341.4V889.8ZM1341.1 878.6V969.5H1343.6V878.6ZM1343.3 865.5V958.0H1345.7V865.5ZM1345.4 844.3V958.0H1347.9V844.3ZM1347.6 844.3V941.3H1350.0V844.3ZM1349.7 844.7V941.3H1352.2V844.7ZM1351.9 920.7V958.7H1354.3V920.7ZM1354.0 898.3V987.4H1356.5V898.3ZM1356.2 863.2V987.4H1358.7V863.2ZM1358.4 863.2V933.8H1360.8V863.2ZM1360.5 905.8V999.0H1363.0V905.8ZM1362.7 852.5V999.0H1365.1V852.5ZM1364.8 852.5V975.2H1367.3V852.5ZM1367.0 893.3V988.0H1369.4V893.3ZM1369.1 806.5V988.0H1371.6V806.5ZM1371.3 806.5V971.5H1373.7V806.5ZM1373.4 814.6V927.9H1375.9V814.6ZM1375.6 830.3V927.9H1378.0V830.3ZM1377.8 830.3V1150.2H1380.2V830.3ZM1379.9 830.3V1150.2H1382.4V830.3ZM1382.1 946.5V1120.1H1384.5V946.5ZM1384.2 895.5V1012.2H1386.7V895.5ZM1386.4 890.6V1012.2H1388.8V890.6ZM1388.5 890.6V1034.8H1391.0V890.6ZM1390.7 899.6V1034.8H1393.1V899.6ZM1392.8 856.9V969.5H1395.3V856.9ZM1395.0 804.9V960.5H1397.4V804.9ZM1397.1 801.2V889.1H1399.6V801.2ZM1399.3 801.2V952.2H1401.8V801.2ZM1401.5 885.1V965.9H1403.9V885.1ZM1403.6 889.5V965.9H1406.1V889.5ZM1405.8 873.2V913.0H1408.2V873.2ZM1407.9 865.5V892.6H1410.4V865.5ZM1410.1 865.5V980.4H1412.5V865.5ZM1412.2 878.3V980.4H1414.7V878.3ZM1414.4 901.6V954.8H1416.8V901.6ZM1416.5 848.5V954.8H1419.0V848.5ZM1418.7 848.5V983.9H1421.1V848.5ZM1420.8 839.9V983.9H1423.3V839.9ZM1423.0 826.9V940.3H1425.5V826.9ZM1425.2 826.9V1010.2H1427.6V826.9ZM1427.3 873.4V1010.2H1429.8V873.4ZM1429.5 871.8V941.7H1431.9V871.8ZM1431.6 867.4V975.9H1434.1V867.4ZM1433.8 865.6V1001.7H1436.2V865.6ZM1435.9 865.6V1026.5H1438.4V865.6ZM1438.1 889.4V1026.5H1440.5V889.4ZM1440.2 827.8V971.1H1442.7V827.8ZM1442.4 827.8V940.0H1444.9V827.8ZM1444.6 841.6V988.1H1447.0V841.6ZM1446.7 935.8V988.1H1449.2V935.8ZM1448.9 818.3V962.8H1451.3V818.3ZM1451.0 806.1V939.6H1453.5V806.1ZM1453.2 806.1V937.7H1455.6V806.1ZM1455.3 884.8V1014.7H1457.8V884.8ZM1457.5 887.2V1014.7H1459.9V887.2ZM1459.6 887.2V1005.1H1462.1V887.2ZM1461.8 818.9V1005.1H1464.2V818.9ZM1464.0 812.3V995.5H1466.4V812.3ZM1466.1 790.6V888.5H1468.6V790.6ZM1468.3 790.6V1172.2H1470.7V790.6ZM1470.4 874.0V1172.2H1472.9V874.0ZM1472.6 855.8V987.1H1475.0V855.8ZM1474.7 855.8V927.9H1477.2V855.8ZM1476.9 865.0V908.9H1479.3V865.0ZM1479.0 866.1V995.6H1481.5V866.1ZM1481.2 864.4V1231.0H1483.6V864.4ZM1483.3 864.4V1231.0H1485.8V864.4ZM1485.5 876.8V1115.9H1488.0V876.8ZM1487.7 827.8V988.3H1490.1V827.8ZM1489.8 826.3V988.3H1492.3V826.3ZM1492.0 822.7V936.0H1494.4V822.7ZM1494.1 822.7V919.7H1496.6V822.7ZM1496.3 770.0V919.7H1498.7V770.0ZM1498.4 770.0V991.4H1500.9V770.0ZM1500.6 807.9V991.4H1503.0V807.9ZM1502.7 811.5V976.3H1505.2V811.5ZM1504.9 813.0V972.7H1507.3V813.0ZM1507.0 855.6V972.7H1509.5V855.6ZM1509.2 855.6V918.2H1511.7V855.6ZM1511.4 869.0V918.2H1513.8V869.0ZM1513.5 869.0V984.1H1516.0V869.0ZM1515.7 876.2V1010.7H1518.1V876.2ZM1517.8 855.7V1010.7H1520.3V855.7ZM1520.0 855.7V982.9H1522.4V855.7ZM1522.1 896.2V997.5H1524.6V896.2ZM1524.3 901.7V1019.2H1526.7V901.7ZM1526.4 877.0V1019.2H1528.9V877.0ZM1528.6 876.6V1016.9H1531.1V876.6ZM1530.8 851.2V1016.9H1533.2V851.2ZM1532.9 804.6V1013.6H1535.4V804.6ZM1535.1 804.6V978.0H1537.5V804.6ZM1537.2 815.5V1318.7H1539.7V815.5ZM1539.4 910.3V1318.7H1541.8V910.3ZM1541.5 874.3V1108.2H1544.0V874.3ZM1543.7 874.3V987.4H1546.1V874.3ZM1545.8 885.0V987.4H1548.3V885.0ZM1548.0 873.7V952.7H1550.4V873.7ZM1550.2 809.1V929.4H1552.6V809.1ZM1552.3 809.1V1035.0H1554.8V809.1ZM1554.5 820.1V1035.2H1556.9V820.1ZM1556.6 820.1V1035.2H1559.1V820.1ZM1558.8 833.2V907.5H1561.2V833.2ZM1560.9 850.3V1053.5H1563.4V850.3ZM1563.1 850.3V1053.5H1565.5V850.3ZM1565.2 824.5V934.9H1567.7V824.5ZM1567.4 824.5V896.7H1569.8V824.5ZM1569.5 826.7V959.7H1572.0V826.7ZM1571.7 847.3V970.7H1574.2V847.3ZM1573.9 878.6V1007.4H1576.3V878.6ZM1576.0 878.6V1098.8H1578.5V878.6ZM1578.2 862.9V1098.8H1580.6V862.9ZM1580.3 853.3V951.4H1582.8V853.3ZM1582.5 853.3V978.9H1584.9V853.3ZM1584.6 888.4V978.9H1587.1V888.4ZM1586.8 866.3V965.4H1589.2V866.3ZM1588.9 848.1V936.0H1591.4V848.1ZM1591.1 848.1V1007.4H1593.5V848.1ZM1593.2 858.6V1007.4H1595.7V858.6ZM1595.4 821.2V1004.9H1597.9V821.2ZM1597.6 821.2V979.8H1600.0V821.2ZM1599.7 832.5V957.2H1602.2V832.5ZM1601.9 843.4V1084.2H1604.3V843.4ZM1604.0 871.1V1084.2H1606.5V871.1ZM1606.2 871.1V1006.9H1608.6V871.1ZM1608.3 911.1V1016.8H1610.8V911.1ZM1610.5 866.8V1016.8H1612.9V866.8ZM1612.6 844.1V995.9H1615.1V844.1ZM1614.8 844.1V1086.2H1617.3V844.1ZM1617.0 856.6V1086.2H1619.4V856.6ZM1619.1 840.8V1046.2H1621.6V840.8ZM1621.3 840.8V929.3H1623.7V840.8ZM1623.4 837.8V958.5H1625.9V837.8ZM1625.6 821.1V958.5H1628.0V821.1ZM1627.7 821.1V940.9H1630.2V821.1ZM1629.9 873.7V1083.6H1632.3V873.7ZM1632.0 882.2V1083.6H1634.5V882.2ZM1634.2 874.8V1039.4H1636.6V874.8ZM1636.3 833.5V928.3H1638.8V833.5ZM1638.5 831.4V907.6H1641.0V831.4ZM1640.7 831.4V911.2H1643.1V831.4ZM1642.8 813.1V911.2H1645.3V813.1ZM1645.0 813.1V944.1H1647.4V813.1ZM1647.1 836.8V944.1H1649.6V836.8ZM1649.3 836.8V1051.2H1651.7V836.8ZM1651.4 839.3V1051.2H1653.9V839.3ZM1653.6 878.1V1021.1H1656.0V878.1ZM1655.7 837.1V1005.4H1658.2V837.1ZM1657.9 837.1V1006.2H1660.4V837.1ZM1660.1 806.8V1006.2H1662.5V806.8ZM1662.2 806.8V1124.8H1664.7V806.8ZM1664.4 825.2V1124.8H1666.8V825.2ZM1666.5 798.8V1084.9H1669.0V798.8ZM1668.7 794.8V1084.9H1671.1V794.8ZM1670.8 794.8V938.0H1673.3V794.8ZM1673.0 855.7V1059.1H1675.4V855.7ZM1675.1 872.8V1070.2H1677.6V872.8ZM1677.3 829.8V1070.2H1679.8V829.8ZM1679.5 797.9V986.2H1681.9V797.9ZM1681.6 797.9V983.6H1684.1V797.9ZM1683.8 806.7V988.7H1686.2V806.7ZM1685.9 843.8V988.7H1688.4V843.8ZM1688.1 833.1V1071.3H1690.5V833.1ZM1690.2 833.1V1082.3H1692.7V833.1ZM1692.4 830.1V1082.3H1694.8V830.1ZM1694.5 830.1V986.5H1697.0V830.1ZM1696.7 814.3V986.5H1699.1V814.3ZM1698.8 814.3V976.0H1701.3V814.3ZM1701.0 827.4V1003.7H1703.5V827.4ZM1703.2 866.0V1145.9H1705.6V866.0ZM1705.3 865.5V1145.9H1707.8V865.5ZM1707.5 840.0V1145.9H1709.9V840.0ZM1709.6 821.2V999.1H1712.1V821.2ZM1711.8 821.2V1074.7H1714.2V821.2ZM1713.9 823.5V1074.7H1716.4V823.5ZM1716.1 847.0V1074.7H1718.5V847.0ZM1718.2 820.4V1008.9H1720.7V820.4ZM1720.4 820.4V1077.3H1722.8V820.4ZM1722.5 843.7V1077.3H1725.0V843.7ZM1724.7 901.1V1026.8H1727.2V901.1ZM1726.9 903.2V1125.2H1729.3V903.2ZM1729.0 875.6V1125.2H1731.5V875.6ZM1731.2 875.6V1032.8H1733.6V875.6ZM1733.3 838.2V1019.6H1735.8V838.2ZM1735.5 838.2V1062.1H1737.9V838.2ZM1737.6 827.3V1062.1H1740.1V827.3ZM1739.8 827.3V1044.3H1742.2V827.3ZM1741.9 842.5V938.9H1744.4V842.5ZM1744.1 842.5V954.6H1746.6V842.5ZM1746.3 846.2V1085.5H1748.7V846.2ZM1748.4 854.9V1085.5H1750.9V854.9ZM1750.6 813.6V995.3H1753.0V813.6ZM1752.7 800.5V917.5H1755.2V800.5ZM1754.9 800.5V933.5H1757.3V800.5ZM1757.0 848.8V1090.8H1759.5V848.8ZM1759.2 870.5V1090.8H1761.6V870.5ZM1761.3 870.5V996.2H1763.8V870.5ZM1763.5 822.5V1006.9H1765.9V822.5ZM1765.7 822.5V1033.7H1768.1V822.5ZM1767.8 822.5V1051.8H1770.3V822.5ZM1770.0 843.0V1051.8H1772.4V843.0ZM1772.1 843.0V1027.1H1774.6V843.0ZM1774.3 851.8V1073.0H1776.7V851.8ZM1776.4 842.6V1073.0H1778.9V842.6ZM1778.6 830.3V964.5H1781.0V830.3ZM1780.7 823.1V987.2H1783.2V823.1ZM1782.9 822.0V1054.7H1785.3V822.0ZM1785.0 822.0V1054.7H1787.5V822.0ZM1787.2 800.1V1079.8H1789.7V800.1ZM1789.4 800.1V1155.2H1791.8V800.1ZM1791.5 866.5V1155.2H1794.0V866.5ZM1793.7 866.5V1131.7H1796.1V866.5ZM1795.8 848.0V1138.0H1798.3V848.0ZM1798.0 848.0V1138.0H1800.4V848.0ZM1800.1 858.9V1104.6H1802.6V858.9ZM1802.3 853.6V1104.6H1804.7V853.6ZM1804.4 853.6V989.2H1806.9V853.6ZM1806.6 834.6V1040.4H1809.0V834.6ZM1808.8 834.6V1040.4H1811.2V834.6ZM1810.9 814.6V972.4H1813.4V814.6ZM1813.1 814.6V1051.3H1815.5V814.6ZM1815.2 828.4V1051.3H1817.7V828.4ZM1817.4 828.4V946.0H1819.8V828.4ZM1819.5 839.9V979.8H1822.0V839.9ZM1821.7 845.0V1059.3H1824.1V845.0ZM1823.8 832.2V1059.3H1826.3V832.2ZM1826.0 832.2V1086.5H1828.4V832.2ZM1828.1 816.7V1086.5H1830.6V816.7ZM1830.3 816.7V992.7H1832.8V816.7ZM1832.5 845.7V1044.1H1834.9V845.7ZM1834.6 800.3V1044.1H1837.1V800.3ZM1836.8 800.3V1040.0H1839.2V800.3ZM1838.9 840.7V1040.0H1841.4V840.7ZM1841.1 806.1V1010.5H1843.5V806.1ZM1843.2 806.1V1010.5H1845.7V806.1ZM1845.4 820.8V979.2H1847.8V820.8ZM1847.5 842.4V1014.9H1850.0V842.4ZM1849.7 819.7V1014.9H1852.1V819.7ZM1851.8 819.7V948.6H1854.3V819.7ZM1854.0 811.0V948.6H1856.5V811.0ZM1856.2 806.7V931.9H1858.6V806.7ZM1858.3 806.7V1308.9H1860.8V806.7ZM1860.5 870.9V1308.9H1862.9V870.9ZM1862.6 847.1V984.3H1865.1V847.1ZM1864.8 779.3V1001.1H1867.2V779.3ZM1866.9 779.3V1042.3H1869.4V779.3ZM1869.1 820.8V1042.3H1871.5V820.8ZM1871.2 845.4V1098.7H1873.7V845.4ZM1873.4 871.8V1098.7H1875.9V871.8ZM1875.6 871.8V1070.0H1878.0V871.8ZM1877.7 843.7V1070.0H1880.2V843.7ZM1879.9 843.7V971.5H1882.3V843.7ZM1882.0 862.5V1029.9H1884.5V862.5ZM1884.2 830.5V1029.9H1886.6V830.5ZM1886.3 830.5V992.2H1888.8V830.5ZM1888.5 841.5V1103.0H1890.9V841.5ZM1890.6 840.8V1103.0H1893.1V840.8ZM1892.8 840.8V960.9H1895.2V840.8ZM1894.9 822.4V983.9H1897.4V822.4ZM1897.1 822.4V983.9H1899.6V822.4ZM1899.3 827.4V1065.9H1901.7V827.4ZM1901.4 827.4V1065.9H1903.9V827.4ZM1903.6 827.4V1038.6H1906.0V827.4ZM1905.7 856.5V1038.6H1908.2V856.5ZM1907.9 811.6V1028.0H1910.3V811.6ZM1910.0 811.6V1028.0H1912.5V811.6ZM1912.2 826.6V1018.7H1914.6V826.6ZM1914.3 814.0V1043.7H1916.8V814.0ZM1916.5 814.0V1043.7H1919.0V814.0ZM1918.7 845.3V1027.2H1921.1V845.3ZM1920.8 831.1V1060.6H1923.3V831.1ZM1923.0 831.1V1060.6H1925.4V831.1ZM1925.1 855.3V1031.6H1927.6V855.3ZM1927.3 806.9V1031.6H1929.7V806.9ZM1929.4 806.9V1050.8H1931.9V806.9ZM1931.6 832.1V1102.2H1934.0V832.1ZM1933.7 832.4V1126.7H1936.2V832.4ZM1935.9 856.0V1126.7H1938.3V856.0ZM1938.0 848.8V1126.7H1940.5V848.8ZM1940.2 828.6V1026.3H1942.7V828.6ZM1942.4 817.4V1105.5H1944.8V817.4ZM1944.5 817.4V1105.5H1947.0V817.4ZM1946.7 817.8V1087.1H1949.1V817.8ZM1948.8 826.7V1077.6H1951.3V826.7ZM1951.0 829.3V1125.6H1953.4V829.3ZM1953.1 829.3V1125.6H1955.6V829.3ZM1955.3 837.0V1017.3H1957.7V837.0ZM1957.4 790.3V1041.3H1959.9V790.3ZM1959.6 790.3V1041.3H1962.1V790.3ZM1961.8 811.7V1320.7H1964.2V811.7ZM1963.9 803.3V1320.7H1966.4V803.3ZM1966.1 803.3V1071.6H1968.5V803.3ZM1968.2 819.4V1071.6H1970.7V819.4ZM1970.4 827.7V1043.3H1972.8V827.7ZM1972.5 828.4V1017.8H1975.0V828.4ZM1974.7 838.3V988.6H1977.1V838.3ZM1976.8 840.0V988.6H1979.3V840.0ZM1979.0 840.0V1089.2H1981.4V840.0ZM1981.2 870.0V1089.2H1983.6V870.0ZM1983.3 844.1V1080.9H1985.8V844.1ZM1985.5 837.5V1152.2H1987.9V837.5ZM1987.6 837.5V1152.2H1990.1V837.5ZM1989.8 851.6V1084.1H1992.2V851.6ZM1991.9 851.6V1125.8H1994.4V851.6ZM1994.1 853.6V1125.8H1996.5V853.6ZM1996.2 808.1V1082.0H1998.7V808.1ZM1998.4 808.1V1082.0H2000.8V808.1ZM2000.5 855.6V1038.4H2003.0V855.6ZM2002.7 824.7V1038.4H2005.2V824.7ZM2004.9 824.7V1056.7H2007.3V824.7ZM2007.0 831.3V1088.6H2009.5V831.3ZM2009.2 831.3V1088.6H2011.6V831.3ZM2011.3 835.3V1154.0H2013.8V835.3ZM2013.5 840.5V1154.0H2015.9V840.5ZM2015.6 840.5V1079.6H2018.1V840.5ZM2017.8 842.9V1076.0H2020.2V842.9ZM2019.9 845.9V1076.0H2022.4V845.9ZM2022.1 845.1V1021.6H2024.5V845.1ZM2024.2 845.1V1063.0H2026.7V845.1ZM2026.4 826.8V1063.0H2028.9V826.8ZM2028.6 817.2V1065.4H2031.0V817.2ZM2030.7 817.2V1065.4H2033.2V817.2ZM2032.9 825.9V1068.2H2035.3V825.9ZM2035.0 828.3V1244.6H2037.5V828.3ZM2037.2 828.3V1244.6H2039.6V828.3ZM2039.3 821.4V1078.4H2041.8V821.4ZM2041.5 821.4V1039.9H2043.9V821.4ZM2043.6 842.2V1084.1H2046.1V842.2ZM2045.8 845.6V1084.1H2047.3V845.6Z"/>
<path stroke="#ff8000" stroke-width="2.7" fill="none" d="M327.6 381.3L375.1 530.2L416.2 419.1L452.5 457.9L485.0 438.9L514.3 518.5L541.2 518.5L565.8 802.4L588.6 749.5L609.9 692.0L629.8 661.0L648.5 669.6L666.1 648.0L682.7 704.0L698.5 674.7L713.6 826.5L727.9 717.5L741.6 721.3L754.7 693.0L767.3 688.8L779.4 869.6L791.0 736.0L802.2 813.0L813.0 902.0L823.4 796.0"/>
<path stroke="#ff8000" stroke-width="3.1" fill="none" d="M823.4 796.0L833.5 802.0L843.3 711.0L852.8 880.0L862.0 830.0L870.9 890.0L879.6 840.0L888.0 778.0L896.3 842.0L904.3 838.0L912.1 900.0L919.7 890.0L927.1 840.0L934.3 821.0L941.4 895.0L948.4 776.4L955.1 767.8L961.7 856.0L968.2 802.0L974.6 835.0L980.8 830.0L986.9 824.7L992.9 890.0L998.8 835.0L1004.5 823.0L1010.2 842.0L1015.7 778.0"/>
<path stroke="#ff8000" stroke-width="3.6" fill="none" d="M1015.7 778.0L1021.2 740.0L1026.5 793.7L1031.8 816.0L1037.0 885.0L1042.1 848.8L1047.1 856.0L1052.0 793.7L1056.9 711.0L1061.6 752.0L1066.3 828.0L1071.0 850.0L1075.5 800.0L1080.0 790.0L1084.5 761.0L1088.8 892.1L1093.1 1000.0L1097.4 916.2L1101.6 880.1L1105.7 863.3L1109.8 867.8L1113.8 964.8L1117.8 946.8L1121.7 1057.9L1125.6 867.7L1129.4 1002.4L1133.2 877.0L1136.9 899.0L1140.6 741.1L1144.3 811.3L1147.9 888.9L1151.4 883.9L1155.0 825.1L1158.5 792.2L1161.9 855.0L1165.3 842.8L1168.7 940.1L1172.0 910.2L1175.3 905.8L1178.5 968.3L1181.8 811.6L1185.0 815.9L1188.1 942.1L1191.3 968.9L1194.4 926.8L1197.4 885.4L1200.5 830.8L1203.5 752.6L1206.4 827.1L1209.4 976.3L1212.3 968.9L1215.2 921.9L1218.1 902.8L1220.9 910.9L1223.7 829.2L1226.5 905.6L1229.3 846.4L1232.0 926.7L1234.7 911.7L1237.4 979.1L1240.1 927.7L1242.7 862.9L1245.3 876.8L1247.9 891.3L1250.5 840.2L1253.1 839.7L1255.6 898.6"/>
<path stroke="#ff8000" stroke-width="3.9" fill="none" d="M1255.6 898.6L1258.1 763.9L1260.6 810.9L1263.1 698.0L1265.6 850.6L1268.0 787.1L1270.4 825.3L1272.8 890.2L1275.2 926.4L1277.5 844.8L1279.9 820.8L1282.2 867.8L1284.5 913.7L1286.8 875.5L1289.1 712.0L1291.3 873.3L1293.6 872.3L1295.8 835.7L1298.0 990.2L1300.2 857.7L1302.4 985.7L1304.5 951.1L1306.7 894.1L1308.8 818.5L1310.9 800.8L1313.0 799.4L1315.1 798.8L1317.2 782.8L1319.3 824.5L1321.3 938.8L1323.3 888.9L1325.4 956.8L1327.4 984.8L1329.4 826.2L1331.3 840.1L1333.3 928.6L1335.3 844.7L1337.2 853.7L1339.1 1074.7L1341.1 992.5L1343.0 932.7L1344.9 896.1L1346.8 908.9L1348.6 913.0L1350.5 906.9L1352.3 836.9L1354.2 826.2L1356.0 790.9L1357.8 824.1L1359.6 911.2L1361.4 842.7L1363.2 807.5L1365.0 976.3L1366.8 908.6L1368.5 807.4L1370.3 831.1L1372.0 839.2L1373.7 808.7L1375.4 768.1L1377.1 870.1L1378.8 902.6L1380.5 860.0L1382.2 836.5L1383.9 820.1L1385.5 998.0L1387.2 989.4L1388.8 903.9L1390.5 939.6L1392.1 820.3L1393.7 837.7L1395.3 850.5L1396.9 864.5L1398.5 794.6L1400.1 796.4L1401.7 847.7L1403.2 1010.8L1404.8 807.6L1406.3 903.3L1407.9 820.4L1409.4 803.5L1411.0 809.9L1412.5 885.1L1414.0 870.5L1415.5 919.2L1417.0 994.5L1418.5 824.0L1420.0 867.9L1421.5 962.6L1422.9 960.8L1424.4 952.0L1425.8 886.2L1427.3 934.6L1428.7 960.2L1430.2 1001.6L1431.6 968.0L1433.0 921.2L1434.4 938.0L1435.9 1014.0L1437.3 969.5L1438.7 848.5L1440.0 864.0L1441.4 869.0L1442.8 850.5L1444.2 826.6L1445.5 884.4L1446.9 1001.7L1448.3 917.7L1449.6 925.7L1450.9 831.3L1452.3 943.1L1453.6 930.8L1454.9 960.8L1456.3 858.6L1457.6 947.3L1458.9 896.3L1460.2 842.5L1461.5 849.4L1462.8 966.6L1464.1 900.6L1465.3 890.9L1466.6 805.0L1467.9 793.7L1469.2 879.2L1470.4 1034.1L1471.7 1038.3L1472.9 903.5L1474.2 901.5L1475.4 953.1L1476.6 963.9L1477.9 808.7L1479.1 830.7L1480.3 802.5L1481.5 1149.0L1482.7 935.0L1483.9 754.9L1485.1 720.8L1486.3 805.6L1487.5 915.7L1488.7 924.7L1489.9 912.9L1491.1 941.6L1492.3 864.3L1493.4 958.7L1494.6 837.3L1495.7 865.0L1496.9 848.6L1498.1 860.0L1499.2 871.2L1500.3 850.4L1501.5 995.9L1502.6 990.9L1503.8 896.1L1504.9 919.5L1506.0 881.2L1507.1 874.2L1508.2 890.2L1509.3 853.0L1510.4 872.9L1511.5 856.4L1512.6 881.1L1513.7 1000.6L1514.8 959.4L1515.9 884.5L1517.0 902.6L1518.1 805.9L1519.2 841.0L1520.2 855.1L1521.3 820.6L1522.4 850.3L1523.4 919.1L1524.5 893.3L1525.5 825.0L1526.6 787.1L1527.6 838.4L1528.7 819.3L1529.7 792.8L1530.7 869.5L1531.8 875.0L1532.8 986.1L1533.8 862.9L1534.9 834.9L1535.9 814.6L1536.9 879.9L1537.9 890.1L1538.9 895.6L1539.9 924.5L1540.9 859.4L1541.9 879.3L1542.9 963.1L1543.9 954.7L1544.9 800.4L1545.9 824.1L1546.9 957.2L1547.8 879.1L1548.8 905.0L1549.8 1007.2L1550.8 872.0L1551.7 961.3L1552.7 922.4L1553.6 882.6L1554.6 923.5L1555.6 841.3L1556.5 944.2L1557.5 884.5L1558.4 1071.5L1559.4 888.1L1560.3 907.8L1561.2 959.2L1562.2 873.0L1563.1 891.7L1564.0 802.9L1565.0 782.4L1565.9 808.3L1566.8 909.6L1567.7 958.4L1568.6 911.8L1569.5 925.9L1570.5 962.9L1571.4 972.2L1572.3 993.7L1573.2 894.9L1574.1 838.9L1575.0 837.1L1575.9 801.1L1576.8 828.3L1577.6 1019.9L1578.5 930.0L1579.4 811.1L1580.3 924.7L1581.2 936.8L1582.0 1133.3L1582.9 963.4L1583.8 911.6L1584.7 923.4L1585.5 1062.1L1586.4 862.6L1587.3 1004.8L1588.1 893.9L1589.0 901.5L1589.8 900.4L1590.7 922.1L1591.5 793.3L1592.4 877.2L1593.2 1035.6L1594.1 839.6L1594.9 825.8L1595.7 983.2L1596.6 831.8L1597.4 782.4L1598.2 855.3L1599.1 778.8L1599.9 772.2L1600.7 870.5L1601.5 903.8L1602.4 889.6L1603.2 910.9L1604.0 1041.2L1604.8 867.4L1605.6 952.4L1606.4 898.4L1607.2 961.3L1608.1 1064.7L1608.9 1081.3L1609.7 1023.0L1610.5 901.4L1611.3 835.2L1612.0 873.4L1612.8 832.8L1613.6 923.3L1614.4 975.8L1615.2 768.6L1616.0 761.6L1616.8 790.8L1617.6 803.9L1618.3 848.7L1619.1 850.9L1619.9 945.6L1620.7 987.9L1621.4 868.5L1622.2 826.6L1623.0 847.7L1623.7 826.3L1624.5 824.3L1625.3 865.6L1626.0 807.8L1626.8 870.6L1627.5 889.2L1628.3 819.7L1629.0 874.7L1629.8 826.1L1630.5 912.2L1631.3 942.4L1632.0 937.1L1632.8 946.3L1633.5 893.8L1634.3 793.1L1635.0 790.0L1635.7 922.0L1636.5 1002.2L1637.2 929.9L1637.9 887.5L1638.7 850.1L1639.4 927.4L1640.1 946.7L1640.8 983.4L1641.6 826.1L1642.3 836.7L1643.0 876.9L1643.7 860.4L1644.4 990.3L1645.1 881.8L1645.9 844.1L1646.6 1092.7L1647.3 839.8L1648.0 797.0L1648.7 844.1L1649.4 836.0L1650.1 923.9L1650.8 970.8L1651.5 835.2L1652.2 843.2L1652.9 1013.4L1653.6 842.9L1654.3 893.6L1655.0 871.1L1655.7 793.4L1656.3 775.3L1657.0 873.3L1657.7 856.7L1658.4 1118.2L1659.1 845.9L1659.8 823.0L1660.4 816.2L1661.1 818.1L1661.8 853.1L1662.5 925.7L1663.1 1011.6L1663.8 895.7L1664.5 897.8L1665.2 1020.4L1665.8 917.1L1666.5 900.1L1667.2 836.2L1667.8 843.7L1668.5 905.0L1669.1 889.3L1669.8 892.6L1670.5 826.0L1671.1 793.7L1671.8 877.2L1672.4 1047.7L1673.1 965.5L1673.7 866.5L1674.4 897.8L1675.0 922.7L1675.7 931.3L1676.3 871.8L1677.0 1060.6L1677.6 900.0L1678.2 808.9L1678.9 826.6L1679.5 837.3L1680.2 843.8L1680.8 770.3L1681.4 854.5L1682.1 851.6L1682.7 928.7L1683.3 942.6L1684.0 926.2L1684.6 876.5L1685.2 834.5L1685.8 935.3L1686.5 845.3L1687.1 905.2L1687.7 1094.0L1688.3 868.0L1688.9 862.7L1689.6 913.5L1690.2 841.3L1690.8 829.7L1691.4 832.9L1692.0 882.1L1692.6 872.7L1693.2 910.4L1693.9 864.5L1694.5 920.4L1695.1 840.6L1695.7 868.0L1696.3 942.7L1696.9 897.5L1697.5 890.4L1698.1 914.0L1698.7 894.4L1699.3 934.7L1699.9 914.9L1700.5 909.0L1701.1 930.4L1701.7 890.4L1702.3 899.1L1702.9 863.8L1703.4 998.8L1704.0 885.8L1704.6 889.9L1705.2 919.3L1705.8 903.1L1706.4 970.7L1707.0 979.4L1707.5 920.1L1708.1 837.3L1708.7 842.5L1709.3 824.5L1709.9 860.7L1710.4 972.5L1711.0 956.4L1711.6 1034.7L1712.2 957.2L1712.7 869.5L1713.3 927.4L1713.9 1053.2L1714.5 911.1L1715.0 901.5L1715.6 946.9L1716.2 941.2L1716.7 932.2L1717.3 1010.0L1717.9 841.0L1718.4 920.9L1719.0 904.2L1719.5 904.9L1720.1 890.3L1720.7 892.9L1721.2 1029.7L1721.8 876.0L1722.3 862.4L1722.9 786.4L1723.4 850.0L1724.0 896.9L1724.5 957.0L1725.1 958.8L1725.6 821.7L1726.2 917.4L1726.7 1034.3L1727.3 901.0L1727.8 966.0L1728.4 871.7L1728.9 861.2L1729.5 1032.1L1730.0 891.3L1730.5 807.7L1731.1 891.3L1731.6 891.6L1732.2 879.1L1732.7 855.1L1733.2 818.1L1733.8 1142.5L1734.3 914.0L1734.8 940.8L1735.4 908.4L1735.9 945.3L1736.4 973.9L1737.0 892.2L1737.5 775.3L1738.0 933.3L1738.5 882.5L1739.1 887.7L1739.6 1028.3L1740.1 872.4L1740.6 840.7L1741.2 858.4L1741.7 878.5L1742.2 919.7L1742.7 939.4L1743.2 872.3L1743.8 895.8L1744.3 910.3L1744.8 867.2L1745.3 809.0L1745.8 795.3L1746.3 856.8L1746.9 838.4L1747.4 915.0L1747.9 1012.5L1748.4 825.0L1748.9 924.2L1749.4 959.0L1749.9 815.1L1750.4 861.9L1750.9 905.3L1751.4 864.8L1751.9 857.5L1752.4 922.3L1752.9 1032.1L1753.5 987.2L1754.0 888.6L1754.5 898.9L1755.0 935.3L1755.5 829.8L1755.9 1014.8L1756.4 861.4L1756.9 993.0L1757.4 950.1L1757.9 855.9L1758.4 854.4L1758.9 861.6L1759.4 848.5L1759.9 905.0L1760.4 916.4L1760.9 836.4L1761.4 839.6L1761.9 936.3L1762.4 880.1L1762.8 1023.6L1763.3 874.1L1763.8 849.2L1764.3 854.7L1764.8 1000.1L1765.3 903.5L1765.7 1037.2L1766.2 1143.7L1766.7 828.3L1767.2 824.5L1767.7 1060.6L1768.1 839.5L1768.6 886.6L1769.1 807.6L1769.6 815.7L1770.1 829.6L1770.5 1036.4L1771.0 947.1L1771.5 1001.0L1772.0 988.0L1772.4 915.6L1772.9 984.8L1773.4 819.4L1773.8 796.1L1774.3 856.4L1774.8 952.1L1775.2 946.5L1775.7 996.3L1776.2 924.0L1776.6 972.9L1777.1 867.7L1777.6 977.7L1778.0 849.7L1778.5 896.3L1779.0 847.9L1779.4 1037.5L1779.9 890.5L1780.3 1031.6L1780.8 815.3L1781.3 844.7L1781.7 990.0L1782.2 834.1L1782.6 1004.7L1783.1 875.8L1783.5 968.2L1784.0 956.9L1784.5 864.7L1784.9 1004.5L1785.4 858.9L1785.8 897.6L1786.3 1023.0L1786.7 977.9L1787.2 899.3L1787.6 837.5L1788.1 898.9L1788.5 836.6L1789.0 947.7L1789.4 783.4L1789.8 821.4L1790.3 931.6L1790.7 888.5L1791.2 844.9L1791.6 835.9L1792.1 1047.1L1792.5 854.9L1793.0 951.0L1793.4 951.8L1793.8 927.3L1794.3 934.3L1794.7 927.4L1795.2 941.2L1795.6 863.5L1796.0 775.6L1796.5 791.3L1796.9 820.3L1797.3 806.0L1797.8 884.0L1798.2 861.8L1798.6 824.6L1799.1 884.5L1799.5 853.9L1799.9 967.1L1800.4 989.9L1800.8 901.3L1801.2 984.8L1801.7 1048.6L1802.1 935.5L1802.5 979.2L1802.9 860.0L1803.4 861.1L1803.8 859.9L1804.2 931.6L1804.6 860.6L1805.1 875.9L1805.5 836.3L1805.9 934.8L1806.3 955.0L1806.8 926.6L1807.2 988.3L1807.6 854.7L1808.0 867.1L1808.4 916.7L1808.9 905.2L1809.3 910.0L1809.7 1010.9L1810.1 972.8L1810.5 865.7L1811.0 1024.9L1811.4 946.5L1811.8 887.8L1812.2 876.3L1812.6 932.1L1813.0 935.5L1813.4 957.0L1813.9 1044.8L1814.3 828.1L1814.7 847.4L1815.1 1238.8L1815.5 846.5L1815.9 927.4L1816.3 937.4L1816.7 859.4L1817.1 918.9L1817.5 934.3L1818.0 913.4L1818.4 938.1L1818.8 846.6L1819.2 898.0L1819.6 852.1L1820.0 922.8L1820.4 863.8L1820.8 878.9L1821.2 939.6L1821.6 823.7L1822.0 828.1L1822.4 1033.9L1822.8 921.1L1823.2 893.4L1823.6 962.6L1824.0 943.0L1824.4 890.0L1824.8 895.7L1825.2 984.0L1825.6 943.2L1826.0 942.4L1826.4 847.5L1826.8 836.4L1827.2 804.6L1827.6 807.3L1828.0 822.0L1828.4 892.6L1828.7 991.5L1829.1 892.4L1829.5 1010.9L1829.9 999.9L1830.3 927.6L1830.7 898.9L1831.1 913.7L1831.5 882.2L1831.9 822.6L1832.3 810.3L1832.7 1068.6L1833.0 908.6L1833.4 1052.7L1833.8 996.3L1834.2 932.2L1834.6 864.1L1835.0 857.1L1835.4 916.4L1835.7 824.2L1836.1 815.8L1836.5 910.4L1836.9 1000.9L1837.3 973.7L1837.7 886.1L1838.0 881.5L1838.4 912.1L1838.8 916.7L1839.2 834.2L1839.6 824.4L1839.9 834.1L1840.3 848.1L1840.7 810.6L1841.1 856.2L1841.5 863.6L1841.8 820.0L1842.2 804.4L1842.6 986.1L1843.0 913.5L1843.3 1091.4L1843.7 1026.7L1844.1 1049.2L1844.5 1094.3L1844.8 880.8L1845.2 888.3L1845.6 977.6L1845.9 1022.0L1846.3 851.7L1846.7 844.7L1847.1 870.3L1847.4 968.0L1847.8 849.3L1848.2 937.1L1848.5 933.2L1848.9 819.9L1849.3 872.2L1849.6 883.1L1850.0 1031.3L1850.4 894.5L1850.7 983.8L1851.1 909.8L1851.5 844.9L1851.8 940.5L1852.2 957.0L1852.6 888.7L1852.9 825.9L1853.3 813.5L1853.6 854.9L1854.0 939.6L1854.4 852.8L1854.7 834.2L1855.1 945.9L1855.5 1048.0L1855.8 935.8L1856.2 871.1L1856.5 805.2L1856.9 838.3L1857.3 974.9L1857.6 888.4L1858.0 861.6L1858.3 835.6L1858.7 860.5L1859.0 952.3L1859.4 857.0L1859.8 816.1L1860.1 833.7L1860.5 882.2L1860.8 885.3L1861.2 868.1L1861.5 861.5L1861.9 799.5L1862.2 832.4L1862.6 931.2L1862.9 899.6L1863.3 888.5L1863.6 919.0L1864.0 912.2L1864.3 1064.0L1864.7 894.4L1865.0 877.6L1865.4 824.9L1865.7 877.1L1866.1 826.9L1866.4 827.0L1866.8 800.3L1867.1 903.5L1867.5 918.4L1867.8 920.2L1868.2 962.8L1868.5 816.7L1868.9 949.6L1869.2 1011.5L1869.5 833.8L1869.9 882.3L1870.2 951.6L1870.6 882.5L1870.9 879.3L1871.3 871.4L1871.6 981.8L1871.9 1068.0L1872.3 941.2L1872.6 857.6L1873.0 915.0L1873.3 1060.2L1873.6 862.9L1874.0 988.0L1874.3 891.4L1874.7 884.0L1875.0 1040.5L1875.3 814.0L1875.7 845.6L1876.0 915.9L1876.4 880.4L1876.7 1067.0L1877.0 947.2L1877.4 912.7L1877.7 942.2L1878.0 861.4L1878.4 864.5L1878.7 895.3L1879.0 801.3L1879.4 873.1L1879.7 980.8L1880.0 1112.7L1880.4 891.7L1880.7 884.1L1881.0 929.4L1881.4 943.4L1881.7 953.9L1882.0 868.8L1882.4 882.4L1882.7 860.3L1883.0 898.3L1883.3 995.8L1883.7 949.9L1884.0 959.0L1884.3 1015.8L1884.7 832.2L1885.0 907.2L1885.3 904.9L1885.6 839.5L1886.0 870.5L1886.3 904.7L1886.6 864.1L1886.9 870.4L1887.3 901.0L1887.6 905.9L1887.9 1183.6L1888.2 918.4L1888.6 834.8L1888.9 811.4L1889.2 871.3L1889.5 1085.1L1889.9 845.2L1890.2 881.1L1890.5 843.5L1890.8 832.8L1891.1 1010.0L1891.5 891.6L1891.8 914.8L1892.1 869.4L1892.4 860.1L1892.7 829.4L1893.1 830.9L1893.4 861.8L1893.7 1051.3L1894.0 925.9L1894.3 914.8L1894.7 1033.1L1895.0 953.5L1895.3 1149.7L1895.6 955.8L1895.9 867.6L1896.2 839.7L1896.5 858.6L1896.9 920.0L1897.2 1044.6L1897.5 893.0L1897.8 896.9L1898.1 825.5L1898.4 841.2L1898.7 825.1L1899.1 856.5L1899.4 900.2L1899.7 922.6L1900.0 920.9L1900.3 934.5L1900.6 836.5L1900.9 923.2L1901.2 943.1L1901.6 931.3L1901.9 939.2L1902.2 859.5L1902.5 932.6L1902.8 901.9L1903.1 914.7L1903.4 1088.8L1903.7 906.2L1904.0 924.7L1904.3 958.8L1904.6 841.8L1904.9 880.1L1905.3 940.0L1905.6 914.0L1905.9 939.9L1906.2 869.9L1906.5 914.8L1906.8 950.4L1907.1 1056.6L1907.4 1102.4L1907.7 1011.8L1908.0 1027.6L1908.3 874.7L1908.6 876.1L1908.9 867.1L1909.2 934.0L1909.5 895.7L1909.8 910.2L1910.1 947.0L1910.4 939.8L1910.7 952.2L1911.0 871.4L1911.3 880.8L1911.6 842.8L1911.9 880.7L1912.2 874.8L1912.5 814.1L1912.8 932.8L1913.1 885.5L1913.4 913.4L1913.7 892.4L1914.0 946.6L1914.3 913.0L1914.6 879.3L1914.9 837.7L1915.2 891.1L1915.5 877.3L1915.8 857.5L1916.1 905.0L1916.4 893.3L1916.7 1108.3L1917.0 805.4L1917.3 789.8L1917.6 870.7L1917.9 875.8L1918.2 1035.4L1918.5 923.0L1918.7 954.5L1919.0 1125.9L1919.3 982.1L1919.6 911.9L1919.9 950.0L1920.2 934.8L1920.5 880.4L1920.8 889.6L1921.1 925.7L1921.4 900.4L1921.7 907.4L1922.0 1044.3L1922.2 986.0L1922.5 998.9L1922.8 1031.3L1923.1 871.3L1923.4 841.1L1923.7 960.2L1924.0 993.5L1924.3 935.4L1924.6 879.9L1924.8 849.4L1925.1 1015.1L1925.4 806.2L1925.7 818.4L1926.0 908.6L1926.3 825.4L1926.6 1030.5L1926.9 873.3L1927.1 859.2L1927.4 900.3L1927.7 1003.8L1928.0 881.0L1928.3 883.5L1928.6 1154.7L1928.8 932.2L1929.1 915.5L1929.4 1062.5L1929.7 865.6L1930.0 807.5L1930.3 850.0L1930.5 868.5L1930.8 923.5L1931.1 981.6L1931.4 938.1L1931.7 930.5L1932.0 937.7L1932.2 949.4L1932.5 1046.4L1932.8 900.4L1933.1 938.4L1933.4 819.9L1933.6 847.3L1933.9 685.5L1934.2 915.3L1934.5 823.0L1934.8 843.6L1935.0 938.7L1935.3 956.3L1935.6 851.5L1935.9 922.0L1936.1 896.0L1936.4 942.2L1936.7 852.4L1937.0 864.0L1937.3 846.9L1937.5 891.9L1937.8 919.5L1938.1 874.4L1938.4 818.8L1938.6 836.1L1938.9 942.5L1939.2 885.8L1939.5 872.8L1939.7 864.4L1940.0 1067.1L1940.3 866.8L1940.6 845.1L1940.8 944.9L1941.1 893.4L1941.4 954.1L1941.6 876.1L1941.9 995.9L1942.2 929.3L1942.5 960.1L1942.7 883.9L1943.0 854.2L1943.3 827.9L1943.5 928.8L1943.8 898.0L1944.1 861.8L1944.4 920.2L1944.6 802.3L1944.9 811.7L1945.2 863.5L1945.4 1023.4L1945.7 899.3L1946.0 955.3L1946.2 897.7L1946.5 806.2L1946.8 1307.7L1947.0 1025.3L1947.3 942.4L1947.6 967.2L1947.8 969.9L1948.1 898.6L1948.4 967.4L1948.6 905.5L1948.9 883.3L1949.2 948.2L1949.4 881.5L1949.7 835.6L1950.0 936.5L1950.2 870.7L1950.5 854.3L1950.8 870.9L1951.0 1002.1L1951.3 898.2L1951.6 990.6L1951.8 840.2L1952.1 868.0L1952.3 881.8L1952.6 872.2L1952.9 977.4L1953.1 963.9L1953.4 886.0L1953.7 882.3L1953.9 866.1L1954.2 817.5L1954.4 884.7L1954.7 1064.6L1955.0 921.6L1955.2 883.9L1955.5 852.6L1955.8 844.6L1956.0 875.7L1956.3 884.9L1956.5 1058.2L1956.8 1070.5L1957.0 1008.9L1957.3 1045.3L1957.6 816.9L1957.8 888.5L1958.1 879.0L1958.3 807.5L1958.6 864.4L1958.9 859.0L1959.1 993.1L1959.4 885.6L1959.6 880.2L1959.9 811.8L1960.1 898.2L1960.4 1019.3L1960.7 899.6L1960.9 935.1L1961.2 1037.3L1961.4 864.6L1961.7 955.9L1961.9 778.5L1962.2 838.4L1962.4 1123.5L1962.7 978.5L1963.0 931.4L1963.2 800.6L1963.5 869.8L1963.7 873.4L1964.0 870.0L1964.2 971.6L1964.5 973.0L1964.7 969.7L1965.0 991.5L1965.2 968.7L1965.5 1026.5L1965.7 965.5L1966.0 996.9L1966.2 899.5L1966.5 1022.4L1966.7 960.0L1967.0 931.7L1967.2 872.6L1967.5 834.6L1967.7 834.3L1968.0 868.9L1968.2 954.9L1968.5 865.9L1968.7 824.6L1969.0 851.7L1969.2 860.9L1969.5 861.5L1969.7 898.5L1970.0 1154.1L1970.2 872.9L1970.5 813.9L1970.7 958.0L1971.0 850.6L1971.2 950.8L1971.5 971.4L1971.7 1023.7L1972.0 930.7L1972.2 841.6L1972.5 928.5L1972.7 1018.2L1973.0 971.6L1973.2 1048.8L1973.4 923.7L1973.7 887.9L1973.9 862.3L1974.2 937.1L1974.4 851.2L1974.7 832.7L1974.9 901.6L1975.2 837.1L1975.4 808.9L1975.6 836.7L1975.9 944.2L1976.1 1136.6L1976.4 905.4L1976.6 985.1L1976.9 904.9L1977.1 883.9L1977.4 858.6L1977.6 1038.2L1977.8 811.6L1978.1 769.7L1978.3 847.6L1978.6 901.7L1978.8 856.3L1979.0 985.7L1979.3 909.4L1979.5 896.6L1979.8 908.2L1980.0 865.5L1980.2 861.9L1980.5 958.9L1980.7 943.7L1981.0 950.5L1981.2 868.2L1981.4 843.2L1981.7 930.3L1981.9 1060.9L1982.2 937.0L1982.4 856.6L1982.6 869.4L1982.9 895.0L1983.1 858.2L1983.4 984.1L1983.6 815.3L1983.8 889.3L1984.1 1036.4L1984.3 860.9L1984.5 876.1L1984.8 931.0L1985.0 955.0L1985.3 964.1L1985.5 840.0L1985.7 832.5L1986.0 999.3L1986.2 884.3L1986.4 938.6L1986.7 881.7L1986.9 906.7L1987.1 884.8L1987.4 942.1L1987.6 911.2L1987.8 910.6L1988.1 881.5L1988.3 1215.8L1988.5 831.3L1988.8 935.2L1989.0 861.4L1989.2 858.9L1989.5 908.1L1989.7 830.9L1989.9 911.6L1990.2 967.5L1990.4 862.8L1990.6 878.8L1990.9 904.1L1991.1 836.1L1991.3 818.9L1991.6 884.9L1991.8 915.8L1992.0 987.0L1992.3 1109.6L1992.5 900.3L1992.7 929.5L1993.0 881.9L1993.2 912.2L1993.4 877.8L1993.7 849.9L1993.9 947.1L1994.1 889.2L1994.3 898.3L1994.6 894.8L1994.8 828.7L1995.0 916.9L1995.3 1019.0L1995.5 886.2L1995.7 968.4L1995.9 887.4L1996.2 1011.8L1996.4 886.4L1996.6 848.0L1996.9 829.9L1997.1 843.0L1997.3 988.8L1997.5 875.8L1997.8 960.4L1998.0 797.6L1998.2 802.4L1998.4 1051.3L1998.7 895.8L1998.9 875.9L1999.1 885.9L1999.3 897.7L1999.6 933.8L1999.8 842.7L2000.0 855.9L2000.3 925.0L2000.5 1023.8L2000.7 917.8L2000.9 856.7L2001.2 890.5L2001.4 855.4L2001.6 848.8L2001.8 923.5L2002.0 1015.3L2002.3 971.5L2002.5 912.8L2002.7 944.4L2002.9 964.2L2003.2 880.7L2003.4 883.8L2003.6 818.3L2003.8 845.5L2004.1 859.4L2004.3 956.4L2004.5 831.7L2004.7 1002.2L2004.9 946.2L2005.2 1039.1L2005.4 872.1L2005.6 903.5L2005.8 947.8L2006.1 958.0L2006.3 932.0L2006.5 858.4L2006.7 1035.0L2006.9 872.2L2007.2 854.2L2007.4 919.5L2007.6 961.5L2007.8 819.5L2008.0 816.4L2008.3 910.5L2008.5 798.3L2008.7 879.2L2008.9 820.4L2009.1 772.9L2009.3 818.4L2009.6 837.5L2009.8 995.5L2010.0 911.1L2010.2 919.6L2010.4 941.6L2010.7 1088.5L2010.9 967.6L2011.1 939.2L2011.3 830.5L2011.5 852.2L2011.7 1011.6L2012.0 983.8L2012.2 899.5L2012.4 950.5L2012.6 911.5L2012.8 882.4L2013.0 959.2L2013.3 1004.1L2013.5 921.4L2013.7 909.0L2013.9 832.6L2014.1 877.1L2014.3 817.0L2014.6 846.4L2014.8 927.6L2015.0 836.7L2015.2 1051.5L2015.4 888.8L2015.6 1105.4L2015.8 948.0L2016.1 911.6L2016.3 816.9L2016.5 800.4L2016.7 1006.7L2016.9 902.8L2017.1 899.4L2017.3 827.1L2017.5 819.5L2017.8 841.0L2018.0 927.3L2018.2 909.0L2018.4 888.6L2018.6 860.8L2018.8 809.1L2019.0 868.9L2019.2 931.6L2019.5 906.6L2019.7 897.8L2019.9 883.8L2020.1 861.1L2020.3 1140.1L2020.5 804.3L2020.7 882.9L2020.9 979.0L2021.1 953.2L2021.4 802.9L2021.6 904.5L2021.8 927.4L2022.0 865.3L2022.2 833.6L2022.4 807.8L2022.6 907.7L2022.8 880.2L2023.0 849.9L2023.2 899.8L2023.5 913.6L2023.7 878.0L2023.9 913.1L2024.1 907.8L2024.3 854.8L2024.5 837.1L2024.7 871.4L2024.9 1096.1L2025.1 908.0L2025.3 892.3L2025.5 961.4L2025.7 848.5L2025.9 918.2L2026.2 994.0L2026.4 862.7L2026.6 819.5L2026.8 913.9L2027.0 943.1L2027.2 969.9L2027.4 852.2L2027.6 1018.2L2027.8 823.1L2028.0 856.2L2028.2 1037.8L2028.4 907.1L2028.6 828.5L2028.8 825.9L2029.0 1065.2L2029.2 915.2L2029.5 975.6L2029.7 1074.6L2029.9 916.3L2030.1 999.7L2030.3 882.0L2030.5 881.6L2030.7 1000.1L2030.9 1026.6L2031.1 1063.5L2031.3 949.8L2031.5 1054.1L2031.7 930.9L2031.9 1206.6L2032.1 788.2L2032.3 844.8L2032.5 805.2L2032.7 1008.3L2032.9 892.8L2033.1 959.3L2033.3 974.9L2033.5 888.7L2033.7 877.9L2033.9 1028.4L2034.1 857.3L2034.3 1124.5L2034.5 924.1L2034.7 1063.0L2034.9 924.0L2035.1 1001.1L2035.3 1001.7L2035.5 839.8L2035.7 855.2L2035.9 1006.1L2036.1 1095.6L2036.3 962.7L2036.5 997.4L2036.7 832.1L2036.9 840.0L2037.1 851.8L2037.3 874.0L2037.5 959.9L2037.7 929.4L2037.9 879.8L2038.1 856.0L2038.3 861.9L2038.5 858.8L2038.7 949.3L2038.9 1021.0L2039.1 869.9L2039.3 805.4L2039.5 797.5L2039.7 940.2L2039.9 997.8L2040.1 901.4L2040.3 899.1L2040.5 901.3L2040.7 935.2L2040.9 802.5L2041.1 897.8L2041.3 1051.2L2041.5 882.9L2041.7 807.0L2041.9 808.3L2042.1 924.6L2042.3 929.4L2042.5 924.6L2042.7 1043.8L2042.9 1069.2L2043.1 826.1L2043.3 785.0L2043.5 883.2L2043.7 943.4L2043.9 932.2L2044.1 986.7L2044.2 925.4L2044.4 861.9L2044.6 864.2L2044.8 861.3L2045.0 1015.9L2045.2 818.7L2045.4 954.2L2045.6 848.8L2045.8 913.2L2046.0 942.2L2046.2 921.6L2046.4 909.9L2046.6 877.3L2046.8 911.5L2047.0 824.8L2047.2 917.1"/>
<path fill="#ff8000" stroke="none" d="M1270.0 800.4V898.3H1272.5V800.4ZM1272.2 841.7V927.6H1274.6V841.7ZM1274.3 843.4V927.6H1276.8V843.4ZM1276.5 821.3V921.1H1278.9V821.3ZM1278.6 819.6V862.3H1281.1V819.6ZM1280.8 819.6V905.3H1283.2V819.6ZM1282.9 859.0V914.9H1285.4V859.0ZM1285.1 764.0V914.9H1287.5V764.0ZM1287.2 710.8V887.8H1289.7V710.8ZM1289.4 710.8V874.5H1291.8V710.8ZM1291.5 808.8V874.5H1294.0V808.8ZM1293.7 834.5V918.0H1296.2V834.5ZM1295.9 834.5V991.4H1298.3V834.5ZM1298.0 856.5V991.4H1300.5V856.5ZM1300.2 856.5V986.9H1302.6V856.5ZM1302.3 916.6V986.9H1304.8V916.6ZM1304.5 855.8V970.9H1306.9V855.8ZM1306.6 808.4V925.9H1309.1V808.4ZM1308.8 798.9V859.8H1311.2V798.9ZM1310.9 797.9V811.2H1313.4V797.9ZM1313.1 788.2V801.3H1315.6V788.2ZM1315.3 781.6V810.5H1317.7V781.6ZM1317.4 781.6V903.9H1319.9V781.6ZM1319.6 807.2V940.0H1322.0V807.2ZM1321.7 887.7V944.9H1324.2V887.7ZM1323.9 887.7V982.6H1326.3V887.7ZM1326.0 831.4V986.0H1328.5V831.4ZM1328.2 825.0V986.0H1330.6V825.0ZM1330.3 825.0V929.8H1332.8V825.0ZM1332.5 841.0V929.8H1334.9V841.0ZM1334.7 843.5V933.8H1337.1V843.5ZM1336.8 845.5V1075.9H1339.3V845.5ZM1339.0 926.2V1075.9H1341.4V926.2ZM1341.1 904.6V1038.7H1343.6V904.6ZM1343.3 894.9V959.1H1345.7V894.9ZM1345.4 894.9V914.2H1347.9V894.9ZM1347.6 892.6V914.2H1350.0V892.6ZM1349.7 831.9V914.1H1352.2V831.9ZM1351.9 806.3V896.7H1354.3V806.3ZM1354.0 789.7V834.6H1356.5V789.7ZM1356.2 789.7V903.9H1358.7V789.7ZM1358.4 812.5V912.4H1360.8V812.5ZM1360.5 806.3V912.4H1363.0V806.3ZM1362.7 806.3V977.5H1365.1V806.3ZM1364.8 831.2V977.5H1367.3V831.2ZM1367.0 806.2V943.5H1369.4V806.2ZM1369.1 806.2V840.4H1371.6V806.2ZM1371.3 788.0V840.4H1373.7V788.0ZM1373.4 766.9V844.8H1375.9V766.9ZM1375.6 766.9V903.8H1378.0V766.9ZM1377.8 839.7V903.8H1380.2V839.7ZM1379.9 825.9V903.8H1382.4V825.9ZM1382.1 818.9V975.7H1384.5V818.9ZM1384.2 818.9V999.2H1386.7V818.9ZM1386.4 902.7V999.2H1388.8V902.7ZM1388.5 841.8V978.1H1391.0V841.8ZM1390.7 819.1V940.8H1393.1V819.1ZM1392.8 819.1V858.5H1395.3V819.1ZM1395.0 804.9V865.7H1397.4V804.9ZM1397.1 793.4V865.7H1399.6V793.4ZM1399.3 793.4V941.2H1401.8V793.4ZM1401.5 803.8V1012.0H1403.9V803.8ZM1403.6 806.4V1012.0H1406.1V806.4ZM1405.8 806.4V904.5H1408.2V806.4ZM1407.9 802.3V879.1H1410.4V802.3ZM1410.1 802.3V886.3H1412.5V802.3ZM1412.2 817.2V920.0H1414.7V817.2ZM1414.4 869.3V995.7H1416.8V869.3ZM1416.5 822.8V995.7H1419.0V822.8ZM1418.7 822.8V963.8H1421.1V822.8ZM1420.8 860.1V963.8H1423.3V860.1ZM1423.0 885.0V963.2H1425.5V885.0ZM1425.2 885.0V955.7H1427.6V885.0ZM1427.3 897.5V1002.8H1429.8V897.5ZM1429.5 929.9V1002.8H1431.9V929.9ZM1431.6 920.0V994.5H1434.1V920.0ZM1433.8 920.0V1015.2H1436.2V920.0ZM1435.9 847.3V1015.2H1438.4V847.3ZM1438.1 847.3V979.1H1440.5V847.3ZM1440.2 837.2V870.2H1442.7V837.2ZM1442.4 825.4V895.2H1444.9V825.4ZM1444.6 825.4V1002.9H1447.0V825.4ZM1446.7 888.9V1002.9H1449.2V888.9ZM1448.9 830.1V949.5H1451.3V830.1ZM1451.0 830.1V947.0H1453.5V830.1ZM1453.2 857.4V962.0H1455.6V857.4ZM1455.3 857.4V962.0H1457.8V857.4ZM1457.5 841.3V948.5H1459.9V841.3ZM1459.6 841.3V967.8H1462.1V841.3ZM1461.8 844.0V967.8H1464.2V844.0ZM1464.0 798.6V963.9H1466.4V798.6ZM1466.1 792.5V906.0H1468.6V792.5ZM1468.3 792.5V1039.0H1470.7V792.5ZM1470.4 898.0V1039.5H1472.9V898.0ZM1472.6 900.3V1039.5H1475.0V900.3ZM1474.7 807.5V965.1H1477.2V807.5ZM1476.9 805.3V965.1H1479.3V805.3ZM1479.0 801.3V1150.2H1481.5V801.3ZM1481.2 739.4V1150.2H1483.6V739.4ZM1483.3 719.6V1023.2H1485.8V719.6ZM1485.5 719.6V925.9H1488.0V719.6ZM1487.7 824.2V938.7H1490.1V824.2ZM1489.8 863.1V942.8H1492.3V863.1ZM1492.0 836.1V959.9H1494.4V836.1ZM1494.1 836.1V959.9H1496.6V836.1ZM1496.3 847.4V872.4H1498.7V847.4ZM1498.4 849.2V997.1H1500.9V849.2ZM1500.6 849.2V997.1H1503.0V849.2ZM1502.7 880.2V996.5H1505.2V880.2ZM1504.9 873.0V920.7H1507.3V873.0ZM1507.0 851.8V891.4H1509.5V851.8ZM1509.2 851.8V891.4H1511.7V851.8ZM1511.4 855.2V1001.8H1513.8V855.2ZM1513.5 874.7V1001.8H1516.0V874.7ZM1515.7 804.7V970.5H1518.1V804.7ZM1517.8 804.7V903.8H1520.3V804.7ZM1520.0 819.4V908.2H1522.4V819.4ZM1522.1 819.4V920.3H1524.6V819.4ZM1524.3 785.9V920.3H1526.7V785.9ZM1526.4 785.9V839.6H1528.9V785.9ZM1528.6 791.6V884.7H1531.1V791.6ZM1530.8 791.6V987.3H1533.2V791.6ZM1532.9 813.4V987.3H1535.4V813.4ZM1535.1 813.4V893.6H1537.5V813.4ZM1537.2 829.5V925.7H1539.7V829.5ZM1539.4 858.2V941.0H1541.8V858.2ZM1541.5 815.2V964.3H1544.0V815.2ZM1543.7 799.2V964.3H1546.1V799.2ZM1545.8 799.2V958.4H1548.3V799.2ZM1548.0 870.8V1008.4H1550.4V870.8ZM1550.2 870.8V1008.4H1552.6V870.8ZM1552.3 840.3V962.5H1554.8V840.3ZM1554.5 840.1V945.4H1556.9V840.1ZM1556.6 840.1V1072.7H1559.1V840.1ZM1558.8 884.9V1072.7H1561.2V884.9ZM1560.9 798.4V960.4H1563.4V798.4ZM1563.1 781.2V892.9H1565.5V781.2ZM1565.2 781.2V959.6H1567.7V781.2ZM1567.4 852.3V966.0H1569.8V852.3ZM1569.5 910.6V994.9H1572.0V910.6ZM1571.7 835.9V994.9H1574.2V835.9ZM1573.9 799.9V941.7H1576.3V799.9ZM1576.0 799.9V1021.1H1578.5V799.9ZM1578.2 809.9V1021.1H1580.6V809.9ZM1580.3 809.9V1134.5H1582.8V809.9ZM1582.5 910.4V1134.5H1584.9V910.4ZM1584.6 861.4V1063.3H1587.1V861.4ZM1586.8 861.4V1027.7H1589.2V861.4ZM1588.9 792.1V930.8H1591.4V792.1ZM1591.1 792.1V1036.8H1593.5V792.1ZM1593.2 824.6V1036.8H1595.7V824.6ZM1595.4 781.2V984.4H1597.9V781.2ZM1597.6 771.0V875.3H1600.0V771.0ZM1599.7 771.0V906.4H1602.2V771.0ZM1601.9 866.2V1042.4H1604.3V866.2ZM1604.0 866.2V1042.4H1606.5V866.2ZM1606.2 893.7V1082.5H1608.6V893.7ZM1608.3 834.0V1082.5H1610.8V834.0ZM1610.5 831.6V1043.7H1612.9V831.6ZM1612.6 761.2V977.0H1615.1V761.2ZM1614.8 760.4V977.0H1617.3V760.4ZM1617.0 760.4V964.4H1619.4V760.4ZM1619.1 825.4V989.1H1621.6V825.4ZM1621.3 823.1V989.1H1623.7V823.1ZM1623.4 806.6V866.8H1625.9V806.6ZM1625.6 806.6V890.4H1628.0V806.6ZM1627.7 818.5V931.4H1630.2V818.5ZM1629.9 824.9V947.5H1632.3V824.9ZM1632.0 788.8V947.5H1634.5V788.8ZM1634.2 788.8V1003.4H1636.6V788.8ZM1636.3 835.0V1003.4H1638.8V835.0ZM1638.5 824.9V984.6H1641.0V824.9ZM1640.7 824.9V984.6H1643.1V824.9ZM1642.8 827.2V991.5H1645.3V827.2ZM1645.0 795.8V1093.9H1647.4V795.8ZM1647.1 795.8V1093.9H1649.6V795.8ZM1649.3 809.1V972.0H1651.7V809.1ZM1651.4 834.0V1014.6H1653.9V834.0ZM1653.6 774.1V1014.6H1656.0V774.1ZM1655.7 774.1V1119.4H1658.2V774.1ZM1657.9 815.0V1119.4H1660.4V815.0ZM1660.1 815.0V1012.8H1662.5V815.0ZM1662.2 816.9V1021.6H1664.7V816.9ZM1664.4 835.0V1021.6H1666.8V835.0ZM1666.5 835.0V981.1H1669.0V835.0ZM1668.7 792.5V920.4H1671.1V792.5ZM1670.8 792.5V1048.9H1673.3V792.5ZM1673.0 865.3V1048.9H1675.4V865.3ZM1675.1 807.7V1061.8H1677.6V807.7ZM1677.3 797.2V1061.8H1679.8V797.2ZM1679.5 769.1V930.1H1681.9V769.1ZM1681.6 769.1V943.8H1684.1V769.1ZM1683.8 833.3V943.8H1686.2V833.3ZM1685.9 833.3V1095.2H1688.4V833.3ZM1688.1 828.5V1095.2H1690.5V828.5ZM1690.2 828.5V914.7H1692.7V828.5ZM1692.4 831.0V921.6H1694.8V831.0ZM1694.5 839.4V943.9H1697.0V839.4ZM1696.7 863.0V943.9H1699.1V863.0ZM1698.8 889.2V935.9H1701.3V889.2ZM1701.0 862.6V1000.0H1703.5V862.6ZM1703.2 862.6V1000.0H1705.6V862.6ZM1705.3 836.1V980.6H1707.8V836.1ZM1707.5 823.3V980.6H1709.9V823.3ZM1709.6 823.3V1035.9H1712.1V823.3ZM1711.8 868.3V1054.4H1714.2V868.3ZM1713.9 877.0V1054.4H1716.4V877.0ZM1716.1 839.8V1011.2H1718.5V839.8ZM1718.2 839.8V1030.9H1720.7V839.8ZM1720.4 785.2V1030.9H1722.8V785.2ZM1722.5 785.2V966.1H1725.0V785.2ZM1724.7 820.5V1035.5H1727.2V820.5ZM1726.9 841.4V1035.5H1729.3V841.4ZM1729.0 806.5V1033.3H1731.5V806.5ZM1731.2 806.5V1143.7H1733.6V806.5ZM1733.3 816.9V1143.7H1735.8V816.9ZM1735.5 774.1V975.1H1737.9V774.1ZM1737.6 774.1V1029.5H1740.1V774.1ZM1739.8 839.5V1029.5H1742.2V839.5ZM1741.9 821.0V940.6H1744.4V821.0ZM1744.1 794.1V913.9H1746.6V794.1ZM1746.3 794.1V1013.7H1748.7V794.1ZM1748.4 813.9V1013.7H1750.9V813.9ZM1750.6 813.9V1033.3H1753.0V813.9ZM1752.7 828.6V1033.3H1755.2V828.6ZM1754.9 828.6V1016.0H1757.3V828.6ZM1757.0 847.3V1016.0H1759.5V847.3ZM1759.2 835.2V937.5H1761.6V835.2ZM1761.3 835.2V1024.8H1763.8V835.2ZM1763.5 826.8V1144.9H1765.9V826.8ZM1765.7 823.3V1144.9H1768.1V823.3ZM1767.8 806.4V1061.8H1770.3V806.4ZM1770.0 806.4V1037.6H1772.4V806.4ZM1772.1 794.9V1002.2H1774.6V794.9ZM1774.3 794.9V997.5H1776.7V794.9ZM1776.4 846.7V1038.7H1778.9V846.7ZM1778.6 814.1V1038.7H1781.0V814.1ZM1780.7 814.1V1032.8H1783.2V814.1ZM1782.9 832.9V1005.9H1785.3V832.9ZM1785.0 836.3V1024.2H1787.5V836.3ZM1787.2 782.2V1024.2H1789.7V782.2ZM1789.4 782.2V1048.3H1791.8V782.2ZM1791.5 834.7V1048.3H1794.0V834.7ZM1793.7 774.4V953.0H1796.1V774.4ZM1795.8 774.4V942.4H1798.3V774.4ZM1798.0 804.8V991.1H1800.4V804.8ZM1800.1 852.7V1049.8H1802.6V852.7ZM1802.3 835.1V1049.8H1804.7V835.1ZM1804.4 835.1V989.5H1806.9V835.1ZM1806.6 835.2V1012.1H1809.0V835.2ZM1808.8 854.8V1026.1H1811.2V854.8ZM1810.9 864.5V1046.0H1813.4V864.5ZM1813.1 826.9V1240.0H1815.5V826.9ZM1815.2 826.9V1240.0H1817.7V826.9ZM1817.4 845.4V939.3H1819.8V845.4ZM1819.5 822.5V1035.1H1822.0V822.5ZM1821.7 822.5V1035.1H1824.1V822.5ZM1823.8 810.1V985.2H1826.3V810.1ZM1826.0 803.4V992.7H1828.4V803.4ZM1828.1 803.4V1012.1H1830.6V803.4ZM1830.3 809.1V1069.8H1832.8V809.1ZM1832.5 809.1V1069.8H1834.9V809.1ZM1834.6 814.6V1042.0H1837.1V814.6ZM1836.8 814.6V1002.1H1839.2V814.6ZM1838.9 804.4V917.9H1841.4V804.4ZM1841.1 803.2V1092.6H1843.5V803.2ZM1843.2 803.2V1095.5H1845.7V803.2ZM1845.4 843.5V1095.5H1847.8V843.5ZM1847.5 818.7V1032.5H1850.0V818.7ZM1849.7 818.7V1032.5H1852.1V818.7ZM1851.8 812.3V982.2H1854.3V812.3ZM1854.0 804.0V1049.2H1856.5V804.0ZM1856.2 804.0V1049.2H1858.6V804.0ZM1858.3 814.9V976.1H1860.8V814.9ZM1860.5 798.3V932.4H1862.9V798.3ZM1862.6 798.3V1065.2H1865.1V798.3ZM1864.8 799.1V1065.2H1867.2V799.1ZM1866.9 799.1V1012.7H1869.4V799.1ZM1869.1 815.5V1069.2H1871.5V815.5ZM1871.2 856.4V1069.2H1873.7V856.4ZM1873.4 812.8V1061.4H1875.9V812.8ZM1875.6 812.8V1068.2H1878.0V812.8ZM1877.7 800.1V1113.9H1880.2V800.1ZM1879.9 800.1V1113.9H1882.3V800.1ZM1882.0 831.0V1017.0H1884.5V831.0ZM1884.2 831.0V1017.0H1886.6V831.0ZM1886.3 810.2V1184.8H1888.8V810.2ZM1888.5 810.2V1184.8H1890.9V810.2ZM1890.6 828.2V1080.5H1893.1V828.2ZM1892.8 828.2V1150.9H1895.2V828.2ZM1894.9 824.3V1150.9H1897.4V824.3ZM1897.1 823.9V1045.8H1899.6V823.9ZM1899.3 823.9V944.3H1901.7V823.9ZM1901.4 835.3V1090.0H1903.9V835.3ZM1903.6 840.6V1090.0H1906.0V840.6ZM1905.7 840.6V1103.6H1908.2V840.6ZM1907.9 865.9V1103.6H1910.3V865.9ZM1910.0 812.9V953.4H1912.5V812.9ZM1912.2 812.9V947.8H1914.6V812.9ZM1914.3 788.6V1109.5H1916.8V788.6ZM1916.5 788.6V1127.1H1919.0V788.6ZM1918.7 864.8V1127.1H1921.1V864.8ZM1920.8 839.9V1045.5H1923.3V839.9ZM1923.0 805.0V1045.5H1925.4V805.0ZM1925.1 805.0V1031.7H1927.6V805.0ZM1927.3 806.3V1155.9H1929.7V806.3ZM1929.4 806.3V1155.9H1931.9V806.3ZM1931.6 684.3V1047.6H1934.0V684.3ZM1933.7 684.3V984.7H1936.2V684.3ZM1935.9 817.6V957.5H1938.3V817.6ZM1938.0 817.6V1068.3H1940.5V817.6ZM1940.2 826.7V1068.3H1942.7V826.7ZM1942.4 801.1V1024.6H1944.8V801.1ZM1944.5 801.1V1308.9H1947.0V801.1ZM1946.7 805.0V1308.9H1949.1V805.0ZM1948.8 834.4V1003.3H1951.3V834.4ZM1951.0 816.3V1003.3H1953.4V816.3ZM1953.1 816.3V1065.8H1955.6V816.3ZM1955.3 806.3V1071.7H1957.7V806.3ZM1957.4 806.3V1071.7H1959.9V806.3ZM1959.6 777.3V1124.7H1962.1V777.3ZM1961.8 777.3V1124.7H1964.2V777.3ZM1963.9 799.4V1027.7H1966.4V799.4ZM1966.1 823.4V1027.7H1968.5V823.4ZM1968.2 812.7V1155.3H1970.7V812.7ZM1970.4 812.7V1155.3H1972.8V812.7ZM1972.5 807.7V1050.0H1975.0V807.7ZM1974.7 792.5V1137.8H1977.1V792.5ZM1976.8 768.5V1137.8H1979.3V768.5ZM1979.0 768.5V1062.1H1981.4V768.5ZM1981.2 814.1V1062.1H1983.6V814.1ZM1983.3 814.1V1037.6H1985.8V814.1ZM1985.5 830.1V1217.0H1987.9V830.1ZM1987.6 829.7V1217.0H1990.1V829.7ZM1989.8 817.7V1110.8H1992.2V817.7ZM1991.9 817.7V1110.8H1994.4V817.7ZM1994.1 827.5V1020.2H1996.5V827.5ZM1996.2 796.4V1052.5H1998.7V796.4ZM1998.4 796.4V1052.5H2000.8V796.4ZM2000.5 817.1V1025.0H2003.0V817.1ZM2002.7 817.1V1040.3H2005.2V817.1ZM2004.9 815.2V1040.3H2007.3V815.2ZM2007.0 771.7V1036.2H2009.5V771.7ZM2009.2 771.7V1089.7H2011.6V771.7ZM2011.3 815.8V1089.7H2013.8V815.8ZM2013.5 799.2V1106.6H2015.9V799.2ZM2015.6 799.2V1106.6H2018.1V799.2ZM2017.8 803.1V1141.3H2020.2V803.1ZM2019.9 801.7V1141.3H2022.4V801.7ZM2022.1 801.7V1097.3H2024.5V801.7ZM2024.2 818.3V1097.3H2026.7V818.3ZM2026.4 818.3V1075.8H2028.9V818.3ZM2028.6 821.9V1093.8H2031.0V821.9ZM2030.7 787.0V1207.8H2033.2V787.0ZM2032.9 787.0V1207.8H2035.3V787.0ZM2035.0 830.9V1125.7H2037.5V830.9ZM2037.2 796.3V1096.8H2039.6V796.3ZM2039.3 796.3V1052.4H2041.8V796.3ZM2041.5 783.8V1070.4H2043.9V783.8ZM2043.6 783.8V1070.4H2046.1V783.8ZM2045.8 817.5V1017.1H2047.3V817.5Z"/>
<path stroke="#008000" stroke-width="2.7" fill="none" d="M327.6 395.7L375.1 524.2L416.2 405.3L452.5 460.4L485.0 482.0L514.3 627.3L541.2 646.3L565.8 614.4L588.6 549.5L609.9 640.0L629.8 818.7L648.5 795.5L666.1 659.2L682.7 609.2L698.5 598.0L713.6 650.6L727.9 666.1L741.6 769.6L754.7 798.5L767.3 1040.0L779.4 715.0L791.0 733.4L802.2 712.7L813.0 808.0L823.4 716.0"/>
<path stroke="#008000" stroke-width="3.1" fill="none" d="M823.4 716.0L833.5 655.8L843.3 673.0L852.8 792.8L862.0 769.6L870.9 716.0L879.6 692.0L888.0 667.0L896.3 680.0L904.3 693.7L912.1 798.0L919.7 735.0L927.1 624.0L934.3 661.0L941.4 680.0L948.4 692.0L955.1 712.7L961.7 770.0L968.2 847.0L974.6 697.0L980.8 674.0L986.9 735.0L992.9 787.0L998.8 890.0L1004.5 795.0L1010.2 730.0L1015.7 706.7"/>
<path stroke="#008000" stroke-width="3.6" fill="none" d="M1015.7 706.7L1021.2 750.0L1026.5 774.7L1031.8 744.0L1037.0 724.8L1042.1 817.8L1047.1 697.2L1052.0 785.0L1056.9 788.5L1061.6 778.0L1066.3 774.7L1071.0 821.0L1075.5 790.0L1080.0 740.0L1084.5 695.5L1088.8 875.4L1093.1 960.4L1097.4 785.9L1101.6 789.7L1105.7 656.8L1109.8 776.2L1113.8 812.9L1117.8 954.7L1121.7 946.4L1125.6 801.2L1129.4 746.3L1133.2 769.5L1136.9 759.2L1140.6 765.2L1144.3 902.6L1147.9 871.8L1151.4 773.6L1155.0 762.8L1158.5 734.0L1161.9 754.3L1165.3 901.7L1168.7 720.7L1172.0 733.5L1175.3 762.6L1178.5 728.4L1181.8 824.0L1185.0 751.2L1188.1 868.7L1191.3 850.8L1194.4 881.5L1197.4 823.0L1200.5 758.0L1203.5 747.3L1206.4 787.3L1209.4 856.3L1212.3 778.3L1215.2 795.0L1218.1 924.6L1220.9 868.7L1223.7 919.4L1226.5 949.7L1229.3 862.5L1232.0 685.2L1234.7 801.8L1237.4 776.7L1240.1 903.1L1242.7 803.4L1245.3 722.4L1247.9 810.4L1250.5 828.5L1253.1 896.9L1255.6 905.4"/>
<path stroke="#008000" stroke-width="3.9" fill="none" d="M1255.6 905.4L1258.1 827.8L1260.6 740.7L1263.1 788.8L1265.6 777.3L1268.0 758.5L1270.4 772.1L1272.8 715.6L1275.2 760.8L1277.5 707.0L1279.9 767.3L1282.2 707.6L1284.5 694.4L1286.8 754.0L1289.1 804.2L1291.3 922.3L1293.6 804.8L1295.8 799.2L1298.0 715.7L1300.2 746.0L1302.4 781.9L1304.5 791.6L1306.7 733.8L1308.8 789.6L1310.9 806.3L1313.0 780.0L1315.1 886.9L1317.2 893.5L1319.3 734.4L1321.3 1120.6L1323.3 852.9L1325.4 795.0L1327.4 715.2L1329.4 687.5L1331.3 812.5L1333.3 725.5L1335.3 768.2L1337.2 904.3L1339.1 780.8L1341.1 715.6L1343.0 810.3L1344.9 860.1L1346.8 891.3L1348.6 775.6L1350.5 792.1L1352.3 813.5L1354.2 813.1L1356.0 736.6L1357.8 743.6L1359.6 738.5L1361.4 823.2L1363.2 841.8L1365.0 908.4L1366.8 869.5L1368.5 814.0L1370.3 709.6L1372.0 807.0L1373.7 869.8L1375.4 838.3L1377.1 875.9L1378.8 694.0L1380.5 1151.6L1382.2 969.4L1383.9 794.0L1385.5 687.1L1387.2 730.6L1388.8 904.0L1390.5 955.0L1392.1 901.6L1393.7 861.7L1395.3 848.6L1396.9 824.1L1398.5 1055.0L1400.1 726.0L1401.7 837.0L1403.2 813.6L1404.8 738.9L1406.3 733.2L1407.9 815.1L1409.4 792.6L1411.0 796.9L1412.5 832.9L1414.0 918.6L1415.5 901.8L1417.0 735.3L1418.5 754.5L1420.0 794.7L1421.5 795.1L1422.9 855.0L1424.4 839.0L1425.8 751.3L1427.3 769.5L1428.7 776.8L1430.2 791.6L1431.6 728.0L1433.0 816.2L1434.4 870.4L1435.9 818.9L1437.3 763.9L1438.7 776.9L1440.0 753.1L1441.4 793.8L1442.8 908.5L1444.2 757.1L1445.5 806.4L1446.9 845.4L1448.3 847.4L1449.6 715.0L1450.9 934.5L1452.3 766.6L1453.6 970.9L1454.9 780.4L1456.3 845.6L1457.6 835.8L1458.9 847.0L1460.2 767.7L1461.5 808.9L1462.8 826.1L1464.1 824.2L1465.3 878.0L1466.6 902.4L1467.9 807.4L1469.2 821.7L1470.4 724.0L1471.7 711.6L1472.9 837.4L1474.2 857.7L1475.4 897.0L1476.6 917.6L1477.9 907.7L1479.1 781.9L1480.3 844.4L1481.5 711.1L1482.7 777.8L1483.9 834.5L1485.1 913.1L1486.3 809.6L1487.5 769.5L1488.7 931.9L1489.9 834.7L1491.1 743.3L1492.3 1167.6L1493.4 680.5L1494.6 727.2L1495.7 815.3L1496.9 780.7L1498.1 837.8L1499.2 827.5L1500.3 849.3L1501.5 751.8L1502.6 762.2L1503.8 776.4L1504.9 767.4L1506.0 815.6L1507.1 931.0L1508.2 895.4L1509.3 802.1L1510.4 884.8L1511.5 878.8L1512.6 725.9L1513.7 790.3L1514.8 766.7L1515.9 787.0L1517.0 810.8L1518.1 720.0L1519.2 753.2L1520.2 806.8L1521.3 808.0L1522.4 851.1L1523.4 760.3L1524.5 851.1L1525.5 825.3L1526.6 912.0L1527.6 760.0L1528.7 692.7L1529.7 789.2L1530.7 917.6L1531.8 906.3L1532.8 890.2L1533.8 699.4L1534.9 743.4L1535.9 1024.0L1536.9 824.1L1537.9 701.5L1538.9 741.9L1539.9 728.0L1540.9 749.5L1541.9 765.6L1542.9 780.9L1543.9 733.4L1544.9 740.0L1545.9 718.5L1546.9 756.1L1547.8 921.4L1548.8 731.8L1549.8 764.9L1550.8 786.6L1551.7 811.4L1552.7 824.1L1553.6 924.1L1554.6 714.2L1555.6 725.9L1556.5 784.9L1557.5 983.0L1558.4 806.0L1559.4 829.9L1560.3 813.9L1561.2 782.7L1562.2 876.5L1563.1 840.1L1564.0 854.1L1565.0 844.3L1565.9 981.4L1566.8 847.4L1567.7 795.1L1568.6 804.1L1569.5 743.6L1570.5 688.7L1571.4 712.1L1572.3 913.6L1573.2 796.6L1574.1 903.5L1575.0 834.9L1575.9 747.0L1576.8 755.2L1577.6 715.2L1578.5 710.2L1579.4 752.3L1580.3 806.3L1581.2 819.6L1582.0 845.0L1582.9 817.4L1583.8 849.4L1584.7 760.2L1585.5 847.0L1586.4 824.7L1587.3 856.4L1588.1 835.8L1589.0 853.4L1589.8 910.3L1590.7 952.6L1591.5 976.2L1592.4 772.4L1593.2 954.3L1594.1 1020.3L1594.9 722.0L1595.7 729.6L1596.6 727.2L1597.4 724.0L1598.2 725.5L1599.1 810.8L1599.9 730.4L1600.7 876.1L1601.5 823.1L1602.4 901.2L1603.2 839.0L1604.0 735.4L1604.8 880.1L1605.6 765.4L1606.4 880.8L1607.2 783.5L1608.1 756.2L1608.9 898.2L1609.7 830.9L1610.5 884.2L1611.3 794.3L1612.0 728.0L1612.8 742.0L1613.6 732.6L1614.4 741.8L1615.2 751.6L1616.0 956.0L1616.8 680.4L1617.6 740.0L1618.3 765.2L1619.1 860.7L1619.9 706.9L1620.7 780.8L1621.4 685.4L1622.2 706.3L1623.0 783.5L1623.7 746.6L1624.5 803.3L1625.3 820.3L1626.0 831.6L1626.8 903.0L1627.5 786.3L1628.3 725.2L1629.0 830.6L1629.8 903.7L1630.5 784.3L1631.3 732.5L1632.0 685.8L1632.8 758.5L1633.5 794.6L1634.3 743.1L1635.0 764.9L1635.7 857.6L1636.5 796.7L1637.2 784.2L1637.9 695.1L1638.7 759.7L1639.4 935.7L1640.1 716.6L1640.8 749.3L1641.6 843.5L1642.3 857.7L1643.0 936.9L1643.7 702.8L1644.4 690.8L1645.1 837.2L1645.9 847.3L1646.6 798.8L1647.3 855.6L1648.0 884.4L1648.7 963.2L1649.4 760.8L1650.1 825.4L1650.8 763.8L1651.5 808.8L1652.2 860.4L1652.9 747.6L1653.6 702.4L1654.3 778.3L1655.0 763.5L1655.7 743.7L1656.3 779.9L1657.0 821.6L1657.7 918.8L1658.4 829.3L1659.1 840.4L1659.8 850.7L1660.4 889.7L1661.1 953.1L1661.8 934.7L1662.5 838.2L1663.1 899.2L1663.8 881.4L1664.5 916.7L1665.2 701.0L1665.8 778.1L1666.5 742.2L1667.2 774.9L1667.8 778.2L1668.5 857.5L1669.1 801.0L1669.8 816.9L1670.5 788.2L1671.1 746.0L1671.8 710.5L1672.4 744.4L1673.1 782.6L1673.7 931.0L1674.4 750.5L1675.0 816.2L1675.7 851.4L1676.3 911.4L1677.0 799.4L1677.6 826.9L1678.2 965.3L1678.9 821.3L1679.5 775.9L1680.2 755.9L1680.8 821.1L1681.4 764.0L1682.1 829.4L1682.7 803.7L1683.3 770.3L1684.0 831.9L1684.6 762.2L1685.2 719.4L1685.8 855.4L1686.5 775.5L1687.1 846.0L1687.7 826.5L1688.3 864.4L1688.9 781.0L1689.6 819.8L1690.2 815.7L1690.8 788.7L1691.4 888.2L1692.0 828.6L1692.6 847.5L1693.2 932.5L1693.9 794.1L1694.5 790.8L1695.1 770.9L1695.7 874.1L1696.3 781.2L1696.9 682.3L1697.5 802.2L1698.1 784.5L1698.7 907.4L1699.3 830.9L1699.9 729.0L1700.5 750.5L1701.1 740.1L1701.7 975.5L1702.3 813.4L1702.9 933.0L1703.4 808.6L1704.0 737.1L1704.6 687.2L1705.2 753.8L1705.8 739.7L1706.4 737.1L1707.0 833.1L1707.5 856.5L1708.1 740.8L1708.7 807.9L1709.3 907.9L1709.9 766.9L1710.4 820.7L1711.0 823.4L1711.6 777.3L1712.2 822.8L1712.7 725.3L1713.3 784.0L1713.9 767.6L1714.5 810.9L1715.0 779.8L1715.6 855.6L1716.2 758.3L1716.7 767.2L1717.3 982.3L1717.9 785.4L1718.4 795.2L1719.0 749.8L1719.5 765.4L1720.1 714.7L1720.7 764.9L1721.2 851.8L1721.8 796.1L1722.3 829.6L1722.9 828.1L1723.4 822.8L1724.0 939.3L1724.5 748.7L1725.1 756.2L1725.6 990.9L1726.2 749.9L1726.7 712.7L1727.3 730.8L1727.8 776.5L1728.4 793.0L1728.9 798.5L1729.5 891.8L1730.0 875.0L1730.5 798.5L1731.1 810.8L1731.6 717.0L1732.2 733.8L1732.7 767.3L1733.2 852.9L1733.8 748.0L1734.3 733.5L1734.8 738.0L1735.4 723.5L1735.9 856.7L1736.4 752.1L1737.0 736.1L1737.5 740.8L1738.0 759.9L1738.5 776.7L1739.1 775.4L1739.6 856.3L1740.1 903.7L1740.6 872.3L1741.2 854.7L1741.7 821.7L1742.2 953.1L1742.7 781.4L1743.2 763.6L1743.8 803.1L1744.3 777.2L1744.8 826.7L1745.3 853.7L1745.8 872.4L1746.3 715.1L1746.9 753.6L1747.4 793.5L1747.9 783.4L1748.4 754.2L1748.9 762.2L1749.4 740.7L1749.9 746.8L1750.4 712.1L1750.9 731.4L1751.4 754.0L1751.9 855.4L1752.4 980.1L1752.9 1046.6L1753.5 792.0L1754.0 736.0L1754.5 678.8L1755.0 760.7L1755.5 769.4L1755.9 754.6L1756.4 678.4L1756.9 778.0L1757.4 795.4L1757.9 766.3L1758.4 830.7L1758.9 732.7L1759.4 718.1L1759.9 776.8L1760.4 828.6L1760.9 710.2L1761.4 825.0L1761.9 805.2L1762.4 755.1L1762.8 905.4L1763.3 875.5L1763.8 815.1L1764.3 892.5L1764.8 760.4L1765.3 1025.4L1765.7 781.3L1766.2 851.6L1766.7 820.0L1767.2 852.9L1767.7 786.9L1768.1 767.6L1768.6 847.4L1769.1 742.1L1769.6 696.6L1770.1 761.9L1770.5 728.9L1771.0 756.0L1771.5 806.4L1772.0 789.6L1772.4 926.2L1772.9 837.1L1773.4 875.7L1773.8 824.7L1774.3 1284.7L1774.8 776.4L1775.2 825.5L1775.7 876.1L1776.2 826.5L1776.6 781.8L1777.1 756.7L1777.6 1008.9L1778.0 802.5L1778.5 852.8L1779.0 871.0L1779.4 804.2L1779.9 787.7L1780.3 824.5L1780.8 729.8L1781.3 700.6L1781.7 716.5L1782.2 898.8L1782.6 814.4L1783.1 809.3L1783.5 924.1L1784.0 908.1L1784.5 854.8L1784.9 770.5L1785.4 901.6L1785.8 824.4L1786.3 963.7L1786.7 748.6L1787.2 748.6L1787.6 751.9L1788.1 915.6L1788.5 721.4L1789.0 722.6L1789.4 879.7L1789.8 748.5L1790.3 958.4L1790.7 747.7L1791.2 899.4L1791.6 842.1L1792.1 937.9L1792.5 829.9L1793.0 794.2L1793.4 801.5L1793.8 892.7L1794.3 789.4L1794.7 881.5L1795.2 811.2L1795.6 771.9L1796.0 720.5L1796.5 726.0L1796.9 683.8L1797.3 757.5L1797.8 786.5L1798.2 1018.1L1798.6 779.3L1799.1 742.9L1799.5 738.6L1799.9 770.7L1800.4 835.5L1800.8 738.5L1801.2 759.1L1801.7 841.8L1802.1 851.4L1802.5 800.7L1802.9 819.2L1803.4 849.8L1803.8 713.9L1804.2 752.1L1804.6 881.7L1805.1 767.3L1805.5 760.4L1805.9 736.7L1806.3 857.5L1806.8 843.9L1807.2 818.2L1807.6 753.9L1808.0 793.3L1808.4 774.6L1808.9 760.6L1809.3 1012.9L1809.7 858.6L1810.1 838.6L1810.5 777.0L1811.0 823.3L1811.4 820.0L1811.8 805.8L1812.2 831.6L1812.6 778.6L1813.0 854.5L1813.4 753.1L1813.9 801.4L1814.3 752.9L1814.7 804.4L1815.1 881.8L1815.5 828.4L1815.9 841.2L1816.3 787.9L1816.7 789.5L1817.1 786.5L1817.5 858.8L1818.0 795.5L1818.4 957.8L1818.8 839.0L1819.2 868.4L1819.6 848.3L1820.0 781.1L1820.4 717.0L1820.8 811.6L1821.2 870.7L1821.6 843.9L1822.0 785.4L1822.4 731.7L1822.8 744.7L1823.2 752.5L1823.6 771.9L1824.0 739.9L1824.4 869.2L1824.8 1054.7L1825.2 780.9L1825.6 881.5L1826.0 714.2L1826.4 764.0L1826.8 732.5L1827.2 759.2L1827.6 777.5L1828.0 765.0L1828.4 815.6L1828.7 840.3L1829.1 798.6L1829.5 1013.0L1829.9 1081.4L1830.3 895.5L1830.7 773.6L1831.1 806.5L1831.5 713.5L1831.9 876.8L1832.3 893.5L1832.7 982.6L1833.0 794.8L1833.4 780.9L1833.8 937.9L1834.2 1010.8L1834.6 766.4L1835.0 818.3L1835.4 849.2L1835.7 746.4L1836.1 695.6L1836.5 699.9L1836.9 785.0L1837.3 786.2L1837.7 773.4L1838.0 703.3L1838.4 704.6L1838.8 771.4L1839.2 872.9L1839.6 748.3L1839.9 720.0L1840.3 730.4L1840.7 769.1L1841.1 818.7L1841.5 790.4L1841.8 768.1L1842.2 845.8L1842.6 842.5L1843.0 813.4L1843.3 964.9L1843.7 844.9L1844.1 856.8L1844.5 847.2L1844.8 894.1L1845.2 824.7L1845.6 753.8L1845.9 755.7L1846.3 752.7L1846.7 722.1L1847.1 811.4L1847.4 801.9L1847.8 805.0L1848.2 736.1L1848.5 762.2L1848.9 874.4L1849.3 731.6L1849.6 790.2L1850.0 791.3L1850.4 870.0L1850.7 787.1L1851.1 946.8L1851.5 879.6L1851.8 888.2L1852.2 805.8L1852.6 791.4L1852.9 782.1L1853.3 858.9L1853.6 720.4L1854.0 963.4L1854.4 887.6L1854.7 892.7L1855.1 918.4L1855.5 884.3L1855.8 852.0L1856.2 797.6L1856.5 931.8L1856.9 750.7L1857.3 770.1L1857.6 848.2L1858.0 886.9L1858.3 822.0L1858.7 759.5L1859.0 869.3L1859.4 849.1L1859.8 737.1L1860.1 820.0L1860.5 736.0L1860.8 752.8L1861.2 786.8L1861.5 762.1L1861.9 911.1L1862.2 897.5L1862.6 783.4L1862.9 877.7L1863.3 762.5L1863.6 703.1L1864.0 710.1L1864.3 836.3L1864.7 1100.3L1865.0 716.1L1865.4 707.7L1865.7 699.4L1866.1 719.9L1866.4 781.7L1866.8 844.7L1867.1 859.0L1867.5 812.0L1867.8 855.7L1868.2 778.2L1868.5 1003.2L1868.9 884.4L1869.2 787.8L1869.5 786.1L1869.9 766.4L1870.2 777.4L1870.6 868.0L1870.9 830.2L1871.3 836.2L1871.6 741.4L1871.9 773.2L1872.3 699.6L1872.6 808.5L1873.0 797.3L1873.3 884.4L1873.6 884.4L1874.0 849.2L1874.3 822.3L1874.7 790.0L1875.0 729.0L1875.3 767.3L1875.7 722.9L1876.0 826.6L1876.4 908.3L1876.7 881.4L1877.0 743.2L1877.4 858.8L1877.7 832.5L1878.0 786.4L1878.4 710.0L1878.7 799.4L1879.0 775.7L1879.4 949.0L1879.7 1001.9L1880.0 725.6L1880.4 692.4L1880.7 811.3L1881.0 776.4L1881.4 747.3L1881.7 729.2L1882.0 751.9L1882.4 772.3L1882.7 732.3L1883.0 750.3L1883.3 862.8L1883.7 838.8L1884.0 746.8L1884.3 766.5L1884.7 760.6L1885.0 788.9L1885.3 760.8L1885.6 766.5L1886.0 801.3L1886.3 719.2L1886.6 709.2L1886.9 837.3L1887.3 820.2L1887.6 924.6L1887.9 792.0L1888.2 736.1L1888.6 809.8L1888.9 746.5L1889.2 710.7L1889.5 840.9L1889.9 731.1L1890.2 742.1L1890.5 709.9L1890.8 706.5L1891.1 861.5L1891.5 751.4L1891.8 718.5L1892.1 809.5L1892.4 794.0L1892.7 724.5L1893.1 717.6L1893.4 765.7L1893.7 889.7L1894.0 752.7L1894.3 811.3L1894.7 804.7L1895.0 885.4L1895.3 963.2L1895.6 777.3L1895.9 779.8L1896.2 759.5L1896.5 860.0L1896.9 871.9L1897.2 759.6L1897.5 754.4L1897.8 787.7L1898.1 843.7L1898.4 697.4L1898.7 708.1L1899.1 807.2L1899.4 744.4L1899.7 760.8L1900.0 803.1L1900.3 871.0L1900.6 821.5L1900.9 764.4L1901.2 771.7L1901.6 713.0L1901.9 695.2L1902.2 728.4L1902.5 794.0L1902.8 898.8L1903.1 796.5L1903.4 742.7L1903.7 712.7L1904.0 732.8L1904.3 730.0L1904.6 835.0L1904.9 697.6L1905.3 695.8L1905.6 714.8L1905.9 909.5L1906.2 844.8L1906.5 832.5L1906.8 696.0L1907.1 737.5L1907.4 769.0L1907.7 750.4L1908.0 765.8L1908.3 879.5L1908.6 743.0L1908.9 749.4L1909.2 842.3L1909.5 807.9L1909.8 881.9L1910.1 883.0L1910.4 807.7L1910.7 822.9L1911.0 978.0L1911.3 756.6L1911.6 820.8L1911.9 864.7L1912.2 759.4L1912.5 977.8L1912.8 880.2L1913.1 791.0L1913.4 874.4L1913.7 856.9L1914.0 969.6L1914.3 880.4L1914.6 817.1L1914.9 753.6L1915.2 943.8L1915.5 751.5L1915.8 767.9L1916.1 861.3L1916.4 797.9L1916.7 789.0L1917.0 746.5L1917.3 746.5L1917.6 909.2L1917.9 811.0L1918.2 796.6L1918.5 917.0L1918.7 891.7L1919.0 796.7L1919.3 807.5L1919.6 751.1L1919.9 725.2L1920.2 1204.3L1920.5 773.2L1920.8 713.9L1921.1 998.5L1921.4 866.1L1921.7 734.8L1922.0 713.5L1922.2 714.0L1922.5 754.1L1922.8 784.9L1923.1 859.3L1923.4 778.3L1923.7 778.5L1924.0 912.7L1924.3 771.5L1924.6 745.4L1924.8 754.7L1925.1 798.1L1925.4 900.8L1925.7 892.9L1926.0 761.5L1926.3 986.2L1926.6 814.0L1926.9 780.0L1927.1 764.1L1927.4 690.3L1927.7 745.3L1928.0 835.3L1928.3 754.9L1928.6 883.6L1928.8 761.6L1929.1 780.6L1929.4 799.6L1929.7 880.9L1930.0 883.7L1930.3 760.4L1930.5 713.9L1930.8 860.7L1931.1 791.3L1931.4 956.4L1931.7 974.6L1932.0 795.6L1932.2 782.3L1932.5 795.4L1932.8 747.8L1933.1 767.6L1933.4 804.3L1933.6 887.3L1933.9 771.7L1934.2 772.0L1934.5 778.7L1934.8 750.5L1935.0 747.2L1935.3 781.6L1935.6 769.2L1935.9 786.7L1936.1 871.3L1936.4 851.0L1936.7 698.9L1937.0 723.0L1937.3 957.0L1937.5 807.3L1937.8 757.2L1938.1 710.2L1938.4 734.8L1938.6 706.9L1938.9 723.3L1939.2 989.1L1939.5 795.1L1939.7 827.0L1940.0 734.4L1940.3 828.5L1940.6 849.1L1940.8 757.7L1941.1 728.2L1941.4 782.9L1941.6 753.5L1941.9 782.9L1942.2 938.9L1942.5 921.9L1942.7 778.6L1943.0 775.0L1943.3 787.2L1943.5 807.6L1943.8 856.3L1944.1 882.7L1944.4 948.3L1944.6 832.4L1944.9 811.3L1945.2 743.5L1945.4 760.2L1945.7 965.3L1946.0 843.4L1946.2 876.2L1946.5 882.8L1946.8 848.4L1947.0 786.1L1947.3 829.6L1947.6 804.1L1947.8 715.4L1948.1 730.6L1948.4 837.4L1948.6 819.9L1948.9 816.8L1949.2 765.1L1949.4 748.3L1949.7 689.0L1950.0 710.0L1950.2 746.1L1950.5 890.7L1950.8 903.0L1951.0 782.9L1951.3 968.3L1951.6 872.8L1951.8 798.4L1952.1 791.3L1952.3 769.4L1952.6 721.9L1952.9 829.2L1953.1 908.6L1953.4 909.5L1953.7 794.1L1953.9 729.6L1954.2 742.9L1954.4 743.7L1954.7 724.2L1955.0 772.0L1955.2 825.6L1955.5 730.8L1955.8 702.5L1956.0 698.2L1956.3 707.4L1956.5 753.9L1956.8 821.9L1957.0 839.0L1957.3 909.6L1957.6 741.9L1957.8 707.2L1958.1 906.5L1958.3 861.8L1958.6 823.1L1958.9 808.5L1959.1 826.5L1959.4 737.1L1959.6 676.9L1959.9 700.9L1960.1 794.3L1960.4 797.8L1960.7 959.8L1960.9 935.9L1961.2 768.5L1961.4 739.3L1961.7 857.3L1961.9 947.5L1962.2 867.9L1962.4 770.3L1962.7 730.3L1963.0 899.0L1963.2 779.3L1963.5 891.2L1963.7 901.8L1964.0 909.9L1964.2 962.1L1964.5 806.6L1964.7 782.6L1965.0 806.4L1965.2 795.9L1965.5 920.3L1965.7 817.7L1966.0 802.2L1966.2 901.2L1966.5 784.7L1966.7 702.1L1967.0 773.8L1967.2 810.9L1967.5 939.2L1967.7 816.2L1968.0 767.4L1968.2 808.6L1968.5 859.5L1968.7 753.1L1969.0 771.5L1969.2 838.4L1969.5 944.6L1969.7 799.5L1970.0 931.3L1970.2 796.7L1970.5 742.1L1970.7 878.4L1971.0 794.5L1971.2 781.6L1971.5 820.1L1971.7 743.1L1972.0 918.1L1972.2 967.4L1972.5 813.4L1972.7 788.9L1973.0 830.4L1973.2 838.7L1973.4 745.1L1973.7 815.5L1973.9 821.4L1974.2 776.5L1974.4 750.8L1974.7 784.2L1974.9 826.7L1975.2 798.6L1975.4 734.0L1975.6 741.2L1975.9 825.9L1976.1 725.1L1976.4 744.9L1976.6 722.9L1976.9 709.0L1977.1 750.4L1977.4 812.1L1977.6 893.3L1977.8 776.1L1978.1 778.2L1978.3 859.4L1978.6 788.5L1978.8 741.0L1979.0 764.3L1979.3 709.4L1979.5 754.3L1979.8 883.1L1980.0 745.3L1980.2 875.0L1980.5 1059.4L1980.7 855.2L1981.0 864.6L1981.2 794.8L1981.4 723.4L1981.7 863.0L1981.9 841.2L1982.2 902.7L1982.4 746.8L1982.6 840.1L1982.9 954.9L1983.1 806.8L1983.4 848.2L1983.6 893.9L1983.8 885.3L1984.1 833.9L1984.3 776.0L1984.5 878.6L1984.8 926.8L1985.0 963.4L1985.3 840.2L1985.5 890.6L1985.7 891.7L1986.0 839.8L1986.2 843.2L1986.4 855.6L1986.7 776.6L1986.9 778.5L1987.1 754.7L1987.4 984.5L1987.6 748.2L1987.8 681.6L1988.1 772.0L1988.3 838.1L1988.5 841.2L1988.8 764.9L1989.0 795.2L1989.2 848.1L1989.5 833.2L1989.7 799.3L1989.9 727.1L1990.2 740.4L1990.4 880.2L1990.6 782.7L1990.9 747.0L1991.1 931.2L1991.3 883.8L1991.6 790.7L1991.8 786.8L1992.0 770.4L1992.3 706.5L1992.5 945.7L1992.7 735.5L1993.0 722.8L1993.2 810.6L1993.4 828.8L1993.7 743.4L1993.9 806.2L1994.1 866.6L1994.3 785.5L1994.6 740.1L1994.8 750.5L1995.0 841.2L1995.3 944.3L1995.5 806.4L1995.7 878.9L1995.9 756.6L1996.2 778.6L1996.4 768.3L1996.6 763.3L1996.9 781.4L1997.1 766.0L1997.3 721.6L1997.5 793.5L1997.8 786.2L1998.0 752.0L1998.2 714.1L1998.4 766.0L1998.7 1046.0L1998.9 787.8L1999.1 805.9L1999.3 774.2L1999.6 854.5L1999.8 845.3L2000.0 784.5L2000.3 876.1L2000.5 801.1L2000.7 1020.5L2000.9 867.6L2001.2 716.9L2001.4 715.7L2001.6 748.8L2001.8 820.2L2002.0 805.5L2002.3 785.2L2002.5 789.2L2002.7 775.0L2002.9 829.3L2003.2 805.5L2003.4 787.9L2003.6 730.4L2003.8 755.5L2004.1 699.3L2004.3 767.3L2004.5 879.3L2004.7 813.0L2004.9 868.1L2005.2 935.5L2005.4 813.0L2005.6 783.6L2005.8 826.6L2006.1 743.5L2006.3 733.1L2006.5 842.2L2006.7 823.5L2006.9 820.7L2007.2 956.4L2007.4 742.4L2007.6 893.5L2007.8 896.8L2008.0 767.7L2008.3 769.0L2008.5 725.4L2008.7 733.1L2008.9 778.3L2009.1 777.6L2009.3 859.8L2009.6 776.1L2009.8 765.5L2010.0 807.0L2010.2 881.9L2010.4 793.1L2010.7 902.1L2010.9 835.1L2011.1 790.2L2011.3 811.6L2011.5 848.9L2011.7 823.4L2012.0 778.0L2012.2 931.0L2012.4 781.3L2012.6 766.6L2012.8 762.8L2013.0 790.3L2013.3 788.2L2013.5 830.4L2013.7 811.7L2013.9 820.8L2014.1 862.1L2014.3 729.1L2014.6 732.4L2014.8 922.9L2015.0 775.1L2015.2 1019.9L2015.4 813.5L2015.6 813.7L2015.8 759.8L2016.1 743.4L2016.3 890.1L2016.5 865.5L2016.7 713.0L2016.9 738.9L2017.1 875.9L2017.3 746.3L2017.5 770.0L2017.8 871.5L2018.0 773.0L2018.2 706.0L2018.4 742.2L2018.6 874.2L2018.8 738.0L2019.0 751.3L2019.2 860.7L2019.5 781.4L2019.7 866.2L2019.9 778.5L2020.1 788.4L2020.3 903.7L2020.5 878.0L2020.7 886.6L2020.9 806.5L2021.1 855.7L2021.4 795.1L2021.6 787.9L2021.8 723.9L2022.0 686.3L2022.2 692.7L2022.4 816.3L2022.6 783.5L2022.8 739.4L2023.0 725.6L2023.2 740.5L2023.5 805.8L2023.7 832.5L2023.9 717.3L2024.1 892.3L2024.3 818.4L2024.5 787.9L2024.7 772.1L2024.9 848.3L2025.1 837.2L2025.3 868.4L2025.5 939.2L2025.7 863.3L2025.9 794.9L2026.2 767.4L2026.4 728.8L2026.6 795.2L2026.8 919.0L2027.0 809.9L2027.2 781.0L2027.4 747.8L2027.6 821.1L2027.8 826.9L2028.0 818.9L2028.2 960.0L2028.4 764.8L2028.6 827.3L2028.8 896.5L2029.0 796.5L2029.2 778.0L2029.5 793.8L2029.7 763.5L2029.9 795.1L2030.1 767.4L2030.3 771.2L2030.5 860.3L2030.7 762.8L2030.9 741.1L2031.1 802.8L2031.3 802.8L2031.5 927.7L2031.7 821.1L2031.9 916.4L2032.1 873.8L2032.3 783.0L2032.5 830.3L2032.7 868.1L2032.9 848.1L2033.1 786.5L2033.3 820.0L2033.5 824.4L2033.7 741.3L2033.9 705.7L2034.1 921.8L2034.3 1041.1L2034.5 799.5L2034.7 885.6L2034.9 861.9L2035.1 955.3L2035.3 738.3L2035.5 729.5L2035.7 824.4L2035.9 817.2L2036.1 784.8L2036.3 930.4L2036.5 812.3L2036.7 819.9L2036.9 889.2L2037.1 754.0L2037.3 767.1L2037.5 855.0L2037.7 802.0L2037.9 865.0L2038.1 864.1L2038.3 738.0L2038.5 930.4L2038.7 773.4L2038.9 809.5L2039.1 768.2L2039.3 794.7L2039.5 829.3L2039.7 821.1L2039.9 749.4L2040.1 934.3L2040.3 781.8L2040.5 793.4L2040.7 753.5L2040.9 719.4L2041.1 757.7L2041.3 828.3L2041.5 898.6L2041.7 816.0L2041.9 780.4L2042.1 750.0L2042.3 989.7L2042.5 760.1L2042.7 755.6L2042.9 888.5L2043.1 987.7L2043.3 844.9L2043.5 723.1L2043.7 772.3L2043.9 753.2L2044.1 838.1L2044.2 767.2L2044.4 838.6L2044.6 734.7L2044.8 852.8L2045.0 984.5L2045.2 905.8L2045.4 769.0L2045.6 803.4L2045.8 812.0L2046.0 745.7L2046.2 749.9L2046.4 754.7L2046.6 805.6L2046.8 836.7L2047.0 786.8L2047.2 771.4"/>
<path fill="#008000" stroke="none" d="M1270.0 714.4V773.3H1272.5V714.4ZM1272.2 714.4V762.0H1274.6V714.4ZM1274.3 705.8V762.0H1276.8V705.8ZM1276.5 705.8V764.3H1278.9V705.8ZM1278.6 705.8V768.5H1281.1V705.8ZM1280.8 696.0V768.5H1283.2V696.0ZM1282.9 693.2V739.0H1285.4V693.2ZM1285.1 693.2V789.1H1287.5V693.2ZM1287.2 735.5V879.5H1289.7V735.5ZM1289.4 785.7V923.5H1291.8V785.7ZM1291.5 800.5V923.5H1294.0V800.5ZM1293.7 754.2V857.0H1296.2V754.2ZM1295.9 714.5V803.1H1298.3V714.5ZM1298.0 714.5V764.8H1300.5V714.5ZM1300.2 729.2V787.8H1302.6V729.2ZM1302.3 761.7V792.8H1304.8V761.7ZM1304.5 732.6V792.8H1306.9V732.6ZM1306.6 732.6V799.3H1309.1V732.6ZM1308.8 758.8V807.5H1311.2V758.8ZM1310.9 778.8V840.5H1313.4V778.8ZM1313.1 778.8V892.0H1315.6V778.8ZM1315.3 791.4V894.7H1317.7V791.4ZM1317.4 733.2V999.9H1319.9V733.2ZM1319.6 733.2V1121.8H1322.0V733.2ZM1321.7 804.9V1121.8H1324.2V804.9ZM1323.9 723.6V929.1H1326.3V723.6ZM1326.0 687.4V808.6H1328.5V687.4ZM1328.2 686.3V813.7H1330.6V686.3ZM1330.3 686.3V813.7H1332.8V686.3ZM1332.5 724.3V811.6H1334.9V724.3ZM1334.7 729.4V905.5H1337.1V729.4ZM1336.8 748.6V905.5H1339.3V748.6ZM1339.0 714.4V864.3H1341.4V714.4ZM1341.1 714.4V848.2H1343.6V714.4ZM1343.3 769.2V888.7H1345.7V769.2ZM1345.4 774.4V892.5H1347.9V774.4ZM1347.6 774.4V892.5H1350.0V774.4ZM1349.7 774.5V814.7H1352.2V774.5ZM1351.9 771.5V814.7H1354.3V771.5ZM1354.0 735.4V814.6H1356.5V735.4ZM1356.2 735.4V775.7H1358.7V735.4ZM1358.4 737.3V826.3H1360.8V737.3ZM1360.5 737.3V863.7H1363.0V737.3ZM1362.7 823.4V909.6H1365.1V823.4ZM1364.8 826.6V909.6H1367.3V826.6ZM1367.0 709.9V890.1H1369.4V709.9ZM1369.1 708.4V830.4H1371.6V708.4ZM1371.3 708.4V871.0H1373.7V708.4ZM1373.4 818.5V871.0H1375.9V818.5ZM1375.6 692.8V877.1H1378.0V692.8ZM1377.8 692.8V1152.8H1380.2V692.8ZM1379.9 692.8V1152.8H1382.4V692.8ZM1382.1 700.1V1105.6H1384.5V700.1ZM1384.2 685.9V874.9H1386.7V685.9ZM1386.4 685.9V930.0H1388.8V685.9ZM1388.5 754.6V956.2H1391.0V754.6ZM1390.7 858.6V956.2H1393.1V858.6ZM1392.8 835.6V914.4H1395.3V835.6ZM1395.0 822.9V1018.1H1397.4V822.9ZM1397.1 724.8V1056.2H1399.6V724.8ZM1399.3 724.8V1056.2H1401.8V724.8ZM1401.5 741.8V838.2H1403.9V741.8ZM1403.6 732.0V825.6H1406.1V732.0ZM1405.8 732.0V816.3H1408.2V732.0ZM1407.9 757.0V816.3H1410.4V757.0ZM1410.1 791.4V882.3H1412.5V791.4ZM1412.2 799.7V919.8H1414.7V799.7ZM1414.4 734.1V919.8H1416.8V734.1ZM1416.5 734.1V903.6H1419.0V734.1ZM1418.7 741.8V816.6H1421.1V741.8ZM1420.8 787.4V856.2H1423.3V787.4ZM1423.0 750.1V856.2H1425.5V750.1ZM1425.2 750.1V843.7H1427.6V750.1ZM1427.3 754.8V792.8H1429.8V754.8ZM1429.5 726.8V798.9H1431.9V726.8ZM1431.6 726.8V871.6H1434.1V726.8ZM1433.8 771.3V871.6H1436.2V771.3ZM1435.9 762.7V857.2H1438.4V762.7ZM1438.1 751.9V792.6H1440.5V751.9ZM1440.2 751.9V909.7H1442.7V751.9ZM1442.4 755.9V909.7H1444.9V755.9ZM1444.6 755.9V847.9H1447.0V755.9ZM1446.7 713.8V848.6H1449.2V713.8ZM1448.9 713.8V935.7H1451.3V713.8ZM1451.0 765.1V972.1H1453.5V765.1ZM1453.2 765.4V972.1H1455.6V765.4ZM1455.3 779.2V883.8H1457.8V779.2ZM1457.5 766.5V848.2H1459.9V766.5ZM1459.6 766.5V848.2H1462.1V766.5ZM1461.8 782.7V867.0H1464.2V782.7ZM1464.0 823.0V903.6H1466.4V823.0ZM1466.1 804.4V903.6H1468.6V804.4ZM1468.3 711.9V862.9H1470.7V711.9ZM1470.4 710.4V850.9H1472.9V710.4ZM1472.6 710.4V905.3H1475.0V710.4ZM1474.7 847.8V918.8H1477.2V847.8ZM1476.9 780.7V918.8H1479.3V780.7ZM1479.0 709.9V901.8H1481.5V709.9ZM1481.2 709.9V868.6H1483.6V709.9ZM1483.3 749.5V914.3H1485.8V749.5ZM1485.5 768.3V933.1H1488.0V768.3ZM1487.7 755.3V933.1H1490.1V755.3ZM1489.8 742.1V1168.8H1492.3V742.1ZM1492.0 679.3V1168.8H1494.4V679.3ZM1494.1 679.3V849.4H1496.6V679.3ZM1496.3 770.6V839.0H1498.7V770.6ZM1498.4 750.6V850.5H1500.9V750.6ZM1500.6 750.6V850.5H1503.0V750.6ZM1502.7 752.0V816.6H1505.2V752.0ZM1504.9 766.2V932.2H1507.3V766.2ZM1507.0 800.9V932.2H1509.5V800.9ZM1509.2 750.9V900.7H1511.7V750.9ZM1511.4 724.7V886.0H1513.8V724.7ZM1513.5 724.7V806.9H1516.0V724.7ZM1515.7 718.8V812.0H1518.1V718.8ZM1517.8 718.8V812.0H1520.3V718.8ZM1520.0 743.5V852.3H1522.4V743.5ZM1522.1 759.1V852.3H1524.6V759.1ZM1524.3 759.1V913.2H1526.7V759.1ZM1526.4 691.5V913.2H1528.9V691.5ZM1528.6 691.5V918.8H1531.1V691.5ZM1530.8 698.2V918.8H1533.2V698.2ZM1532.9 698.2V1025.2H1535.4V698.2ZM1535.1 700.3V1025.2H1537.5V700.3ZM1537.2 700.3V976.0H1539.7V700.3ZM1539.4 715.4V777.9H1541.8V715.4ZM1541.5 732.2V782.1H1544.0V732.2ZM1543.7 717.3V782.1H1546.1V717.3ZM1545.8 717.3V922.6H1548.3V717.3ZM1548.0 730.6V922.6H1550.4V730.6ZM1550.2 738.7V899.9H1552.6V738.7ZM1552.3 713.0V925.3H1554.8V713.0ZM1554.5 713.0V984.2H1556.9V713.0ZM1556.6 724.2V984.2H1559.1V724.2ZM1558.8 781.5V945.6H1561.2V781.5ZM1560.9 781.5V877.7H1563.4V781.5ZM1563.1 838.9V982.6H1565.5V838.9ZM1565.2 793.9V982.6H1567.7V793.9ZM1567.4 687.5V922.8H1569.8V687.5ZM1569.5 687.5V914.8H1572.0V687.5ZM1571.7 691.2V914.8H1574.2V691.2ZM1573.9 737.9V904.7H1576.3V737.9ZM1576.0 709.0V840.5H1578.5V709.0ZM1578.2 709.0V828.0H1580.6V709.0ZM1580.3 741.9V846.2H1582.8V741.9ZM1582.5 759.0V850.6H1584.9V759.0ZM1584.6 759.0V857.6H1587.1V759.0ZM1586.8 823.5V922.1H1589.2V823.5ZM1588.9 815.0V977.4H1591.4V815.0ZM1591.1 771.2V1021.5H1593.5V771.2ZM1593.2 720.8V1021.5H1595.7V720.8ZM1595.4 720.8V936.5H1597.9V720.8ZM1597.6 722.8V877.3H1600.0V722.8ZM1599.7 729.2V902.4H1602.2V729.2ZM1601.9 734.2V902.4H1604.3V734.2ZM1604.0 734.2V882.0H1606.5V734.2ZM1606.2 755.0V899.4H1608.6V755.0ZM1608.3 755.0V899.4H1610.8V755.0ZM1610.5 726.8V885.4H1612.9V726.8ZM1612.6 726.8V932.9H1615.1V726.8ZM1614.8 679.2V957.2H1617.3V679.2ZM1617.0 679.2V957.2H1619.4V679.2ZM1619.1 684.2V861.9H1621.6V684.2ZM1621.3 684.2V805.0H1623.7V684.2ZM1623.4 717.0V894.6H1625.9V717.0ZM1625.6 724.0V904.2H1628.0V724.0ZM1627.7 724.0V904.9H1630.2V724.0ZM1629.9 684.6V904.9H1632.3V684.6ZM1632.0 684.6V804.2H1634.5V684.6ZM1634.2 741.9V858.8H1636.6V741.9ZM1636.3 693.9V936.9H1638.8V693.9ZM1638.5 693.9V936.9H1641.0V693.9ZM1640.7 698.2V938.1H1643.1V698.2ZM1642.8 689.6V938.1H1645.3V689.6ZM1645.0 689.6V912.8H1647.4V689.6ZM1647.1 759.6V964.4H1649.6V759.6ZM1649.3 759.6V964.4H1651.7V759.6ZM1651.4 701.2V861.6H1653.9V701.2ZM1653.6 701.2V813.3H1656.0V701.2ZM1655.7 742.5V920.0H1658.2V742.5ZM1657.9 806.3V954.3H1660.4V806.3ZM1660.1 837.0V954.3H1662.5V837.0ZM1662.2 699.8V954.3H1664.7V699.8ZM1664.4 699.8V917.9H1666.8V699.8ZM1666.5 730.0V858.7H1669.0V730.0ZM1668.7 709.3V858.7H1671.1V709.3ZM1670.8 709.3V932.2H1673.3V709.3ZM1673.0 715.3V932.2H1675.4V715.3ZM1675.1 749.3V966.5H1677.6V749.3ZM1677.3 754.7V966.5H1679.8V754.7ZM1679.5 754.7V942.1H1681.9V754.7ZM1681.6 741.9V833.1H1684.1V741.9ZM1683.8 718.2V856.6H1686.2V718.2ZM1685.9 718.2V865.6H1688.4V718.2ZM1688.1 779.8V876.2H1690.5V779.8ZM1690.2 787.5V933.7H1692.7V787.5ZM1692.4 769.7V933.7H1694.8V769.7ZM1694.5 681.1V889.9H1697.0V681.1ZM1696.7 681.1V908.6H1699.1V681.1ZM1698.8 727.8V976.7H1701.3V727.8ZM1701.0 717.0V976.7H1703.5V717.0ZM1703.2 686.0V934.2H1705.6V686.0ZM1705.3 686.0V857.7H1707.8V686.0ZM1707.5 735.9V909.1H1709.9V735.9ZM1709.6 724.1V909.1H1712.1V724.1ZM1711.8 724.1V824.6H1714.2V724.1ZM1713.9 733.0V943.3H1716.4V733.0ZM1716.1 748.6V983.5H1718.5V748.6ZM1718.2 713.5V983.5H1720.7V713.5ZM1720.4 713.5V869.2H1722.8V713.5ZM1722.5 747.5V992.1H1725.0V747.5ZM1724.7 711.5V992.1H1727.2V711.5ZM1726.9 711.5V939.4H1729.3V711.5ZM1729.0 715.8V893.0H1731.5V715.8ZM1731.2 715.8V866.6H1733.6V715.8ZM1733.3 722.3V857.9H1735.8V722.3ZM1735.5 722.3V857.9H1737.9V722.3ZM1737.6 734.9V904.9H1740.1V734.9ZM1739.8 769.4V954.3H1742.2V769.4ZM1741.9 762.4V954.3H1744.4V762.4ZM1744.1 713.9V873.6H1746.6V713.9ZM1746.3 713.9V873.6H1748.7V713.9ZM1748.4 710.9V800.9H1750.9V710.9ZM1750.6 710.9V1047.8H1753.0V710.9ZM1752.7 677.6V1047.8H1755.2V677.6ZM1754.9 677.2V796.6H1757.3V677.2ZM1757.0 677.2V831.9H1759.5V677.2ZM1759.2 709.0V831.9H1761.6V709.0ZM1761.3 709.0V906.6H1763.8V709.0ZM1763.5 759.2V1026.6H1765.9V759.2ZM1765.7 759.2V1026.6H1768.1V759.2ZM1767.8 695.4V854.1H1770.3V695.4ZM1770.0 695.4V927.4H1772.4V695.4ZM1772.1 756.0V1285.9H1774.6V756.0ZM1774.3 755.5V1285.9H1776.7V755.5ZM1776.4 755.5V1010.1H1778.9V755.5ZM1778.6 699.4V1010.1H1781.0V699.4ZM1780.7 699.4V925.3H1783.2V699.4ZM1782.9 744.4V929.2H1785.3V744.4ZM1785.0 747.4V964.9H1787.5V747.4ZM1787.2 720.2V964.9H1789.7V720.2ZM1789.4 720.2V959.6H1791.8V720.2ZM1791.5 746.5V939.1H1794.0V746.5ZM1793.7 682.6V893.9H1796.1V682.6ZM1795.8 682.6V1019.3H1798.3V682.6ZM1798.0 682.6V1019.3H1800.4V682.6ZM1800.1 737.3V852.6H1802.6V737.3ZM1802.3 712.7V882.9H1804.7V712.7ZM1804.4 712.7V882.9H1806.9V712.7ZM1806.6 735.5V1014.1H1809.0V735.5ZM1808.8 756.8V1014.1H1811.2V756.8ZM1810.9 751.9V855.7H1813.4V751.9ZM1813.1 751.7V883.0H1815.5V751.7ZM1815.2 751.7V959.0H1817.7V751.7ZM1817.4 715.8V959.0H1819.8V715.8ZM1819.5 715.8V939.6H1822.0V715.8ZM1821.7 730.5V1055.9H1824.1V730.5ZM1823.8 713.0V1055.9H1826.3V713.0ZM1826.0 713.0V989.7H1828.4V713.0ZM1828.1 733.1V1082.6H1830.6V733.1ZM1830.3 712.3V1082.6H1832.8V712.3ZM1832.5 712.3V1012.0H1834.9V712.3ZM1834.6 694.4V1012.0H1837.1V694.4ZM1836.8 694.4V874.1H1839.2V694.4ZM1838.9 702.1V874.1H1841.4V702.1ZM1841.1 719.8V966.1H1843.5V719.8ZM1843.2 737.4V966.1H1845.7V737.4ZM1845.4 720.9V895.3H1847.8V720.9ZM1847.5 720.9V875.6H1850.0V720.9ZM1849.7 730.4V948.0H1852.1V730.4ZM1851.8 719.2V964.6H1854.3V719.2ZM1854.0 719.2V964.6H1856.5V719.2ZM1856.2 749.5V933.0H1858.6V749.5ZM1858.3 734.8V888.1H1860.8V734.8ZM1860.5 701.9V912.3H1862.9V701.9ZM1862.6 698.2V1101.5H1865.1V698.2ZM1864.8 698.2V1101.5H1867.2V698.2ZM1866.9 704.3V1004.4H1869.4V704.3ZM1869.1 698.4V1004.4H1871.5V698.4ZM1871.2 698.4V885.6H1873.7V698.4ZM1873.4 703.7V909.5H1875.9V703.7ZM1875.6 708.8V909.5H1878.0V708.8ZM1877.7 691.2V1003.1H1880.2V691.2ZM1879.9 691.2V1003.1H1882.3V691.2ZM1882.0 728.0V864.0H1884.5V728.0ZM1884.2 708.0V874.2H1886.6V708.0ZM1886.3 708.0V925.8H1888.8V708.0ZM1888.5 705.3V925.8H1890.9V705.3ZM1890.6 705.3V890.9H1893.1V705.3ZM1892.8 716.4V964.4H1895.2V716.4ZM1894.9 751.5V964.4H1897.4V751.5ZM1897.1 696.2V873.1H1899.6V696.2ZM1899.3 694.0V872.2H1901.7V694.0ZM1901.4 694.0V900.0H1903.9V694.0ZM1903.6 694.6V910.7H1906.0V694.6ZM1905.7 694.6V910.7H1908.2V694.6ZM1907.9 694.8V979.2H1910.3V694.8ZM1910.0 755.4V979.2H1912.5V755.4ZM1912.2 752.4V979.0H1914.6V752.4ZM1914.3 745.3V970.8H1916.8V745.3ZM1916.5 738.5V918.2H1919.0V738.5ZM1918.7 712.7V1205.5H1921.1V712.7ZM1920.8 712.3V1205.5H1923.3V712.3ZM1923.0 712.3V937.4H1925.4V712.3ZM1925.1 689.1V987.4H1927.6V689.1ZM1927.3 689.1V987.4H1929.7V689.1ZM1929.4 712.7V975.8H1931.9V712.7ZM1931.6 712.7V975.8H1934.0V712.7ZM1933.7 697.7V888.5H1936.2V697.7ZM1935.9 697.7V960.8H1938.3V697.7ZM1938.0 705.7V990.3H1940.5V705.7ZM1940.2 727.0V990.3H1942.7V727.0ZM1942.4 742.3V949.5H1944.8V742.3ZM1944.5 738.7V966.5H1947.0V738.7ZM1946.7 687.8V966.5H1949.1V687.8ZM1948.8 687.8V969.5H1951.3V687.8ZM1951.0 701.5V969.5H1953.4V701.5ZM1953.1 697.0V910.7H1955.6V697.0ZM1955.3 697.0V910.8H1957.7V697.0ZM1957.4 675.7V961.0H1959.9V675.7ZM1959.6 675.7V961.0H1962.1V675.7ZM1961.8 729.1V963.3H1964.2V729.1ZM1963.9 700.9V963.3H1966.4V700.9ZM1966.1 700.9V940.4H1968.5V700.9ZM1968.2 740.9V945.8H1970.7V740.9ZM1970.4 740.9V968.6H1972.8V740.9ZM1972.5 732.8V968.6H1975.0V732.8ZM1974.7 707.8V894.5H1977.1V707.8ZM1976.8 707.8V894.5H1979.3V707.8ZM1979.0 708.2V1060.6H1981.4V708.2ZM1981.2 722.2V1060.6H1983.6V722.2ZM1983.3 745.6V964.6H1985.8V745.6ZM1985.5 680.4V985.7H1987.9V680.4ZM1987.6 680.4V985.7H1990.1V680.4ZM1989.8 705.3V946.9H1992.2V705.3ZM1991.9 705.3V946.9H1994.4V705.3ZM1994.1 720.4V945.5H1996.5V720.4ZM1996.2 712.9V1047.2H1998.7V712.9ZM1998.4 712.9V1047.2H2000.8V712.9ZM2000.5 714.5V1021.7H2003.0V714.5ZM2002.7 698.1V936.7H2005.2V698.1ZM2004.9 698.1V957.6H2007.3V698.1ZM2007.0 724.2V957.6H2009.5V724.2ZM2009.2 724.2V932.2H2011.6V724.2ZM2011.3 727.9V932.2H2013.8V727.9ZM2013.5 711.8V1021.1H2015.9V711.8ZM2015.6 704.8V1021.1H2018.1V704.8ZM2017.8 704.8V904.9H2020.2V704.8ZM2019.9 685.1V904.9H2022.4V685.1ZM2022.1 685.1V893.5H2024.5V685.1ZM2024.2 716.1V940.4H2026.7V716.1ZM2026.4 727.6V961.2H2028.9V727.6ZM2028.6 739.9V961.2H2031.0V739.9ZM2030.7 704.5V928.9H2033.2V704.5ZM2032.9 704.5V1042.3H2035.3V704.5ZM2035.0 705.0V1042.3H2037.5V705.0ZM2037.2 736.8V935.5H2039.6V736.8ZM2039.3 718.2V990.9H2041.8V718.2ZM2041.5 718.2V990.9H2043.9V718.2ZM2043.6 721.9V988.9H2046.1V721.9ZM2045.8 744.5V985.7H2047.3V744.5Z"/>
<path stroke="#ff00ff" stroke-width="2.7" fill="none" d="M327.6 314.8L375.1 386.3L416.2 356.2L452.5 438.9L485.0 357.0L514.3 365.7L541.2 375.1L565.8 541.7L588.6 529.2L609.9 537.5L629.8 671.3L648.5 562.7L666.1 541.2L682.7 590.3L698.5 526.5L713.6 611.0L727.9 775.0L741.6 700.6L754.7 683.3L767.3 662.7L779.4 671.3L791.0 911.0L802.2 721.4L813.0 866.0L823.4 666.0"/>
<path stroke="#ff00ff" stroke-width="3.1" fill="none" d="M823.4 666.0L833.5 828.0L843.3 745.4L852.8 871.0L862.0 736.8L870.9 733.4L879.6 786.8L888.0 842.0L896.3 805.7L904.3 804.0L912.1 1036.0L919.7 762.7L927.1 812.0L934.3 905.0L941.4 850.0L948.4 1185.0L955.1 825.0L961.7 827.0L968.2 905.0L974.6 880.0L980.8 829.0L986.9 930.0L992.9 855.0L998.8 910.0L1004.5 870.0L1010.2 845.0L1015.7 930.0"/>
<path stroke="#ff00ff" stroke-width="3.6" fill="none" d="M1015.7 930.0L1021.2 860.0L1026.5 895.1L1031.8 935.7L1037.0 865.1L1042.1 799.4L1047.1 943.2L1052.0 886.2L1056.9 1003.5L1061.6 891.4L1066.3 968.0L1071.0 916.9L1075.5 985.2L1080.0 817.4L1084.5 948.2L1088.8 859.9L1093.1 856.8L1097.4 908.5L1101.6 959.1L1105.7 957.7L1109.8 860.3L1113.8 815.9L1117.8 888.8L1121.7 824.3L1125.6 796.7L1129.4 820.7L1133.2 923.9L1136.9 807.4L1140.6 810.2L1144.3 954.0L1147.9 857.8L1151.4 914.0L1155.0 826.8L1158.5 949.8L1161.9 852.8L1165.3 963.7L1168.7 986.8L1172.0 939.4L1175.3 933.5L1178.5 951.9L1181.8 1073.3L1185.0 870.1L1188.1 921.2L1191.3 1007.0L1194.4 948.5L1197.4 967.3L1200.5 963.1L1203.5 925.7L1206.4 891.6L1209.4 896.0L1212.3 902.3L1215.2 830.2L1218.1 880.4L1220.9 888.5L1223.7 951.5L1226.5 884.8L1229.3 792.1L1232.0 777.4L1234.7 854.9L1237.4 830.5L1240.1 1179.0L1242.7 776.9L1245.3 818.4L1247.9 930.3L1250.5 938.3L1253.1 870.5L1255.6 1002.4"/>
<path stroke="#ff00ff" stroke-width="3.9" fill="none" d="M1255.6 1002.4L1258.1 873.4L1260.6 844.7L1263.1 846.9L1265.6 970.9L1268.0 887.2L1270.4 852.3L1272.8 843.2L1275.2 771.4L1277.5 819.4L1279.9 891.1L1282.2 833.5L1284.5 936.3L1286.8 964.3L1289.1 865.5L1291.3 877.7L1293.6 921.4L1295.8 799.7L1298.0 784.4L1300.2 850.3L1302.4 1028.5L1304.5 808.5L1306.7 816.7L1308.8 825.7L1310.9 900.0L1313.0 788.7L1315.1 804.5L1317.2 825.9L1319.3 817.8L1321.3 999.2L1323.3 909.6L1325.4 867.6L1327.4 898.1L1329.4 912.8L1331.3 981.4L1333.3 842.0L1335.3 817.5L1337.2 884.2L1339.1 959.8L1341.1 924.5L1343.0 881.4L1344.9 867.0L1346.8 835.0L1348.6 788.8L1350.5 784.4L1352.3 804.4L1354.2 794.2L1356.0 858.3L1357.8 790.4L1359.6 776.5L1361.4 808.6L1363.2 887.3L1365.0 840.2L1366.8 934.1L1368.5 824.1L1370.3 970.3L1372.0 891.9L1373.7 934.7L1375.4 967.9L1377.1 979.0L1378.8 990.4L1380.5 904.5L1382.2 874.0L1383.9 921.7L1385.5 916.2L1387.2 946.1L1388.8 943.8L1390.5 888.7L1392.1 802.0L1393.7 817.0L1395.3 1012.1L1396.9 892.7L1398.5 889.4L1400.1 894.3L1401.7 932.8L1403.2 803.0L1404.8 782.4L1406.3 812.1L1407.9 811.9L1409.4 1044.0L1411.0 870.1L1412.5 856.2L1414.0 885.0L1415.5 803.1L1417.0 817.8L1418.5 895.5L1420.0 1110.0L1421.5 953.6L1422.9 868.7L1424.4 839.0L1425.8 806.9L1427.3 752.2L1428.7 793.4L1430.2 1025.5L1431.6 829.2L1433.0 782.6L1434.4 906.4L1435.9 824.1L1437.3 1181.5L1438.7 844.8L1440.0 1009.3L1441.4 828.6L1442.8 833.8L1444.2 1084.0L1445.5 815.0L1446.9 859.0L1448.3 956.0L1449.6 915.5L1450.9 849.2L1452.3 805.3L1453.6 918.9L1454.9 912.8L1456.3 935.0L1457.6 874.9L1458.9 894.9L1460.2 994.8L1461.5 867.2L1462.8 778.9L1464.1 860.9L1465.3 926.1L1466.6 946.4L1467.9 865.7L1469.2 858.3L1470.4 836.0L1471.7 854.9L1472.9 876.2L1474.2 972.3L1475.4 878.0L1476.6 864.3L1477.9 919.2L1479.1 910.6L1480.3 907.3L1481.5 875.9L1482.7 1031.5L1483.9 980.6L1485.1 1019.3L1486.3 835.1L1487.5 841.1L1488.7 980.0L1489.9 806.4L1491.1 830.8L1492.3 919.2L1493.4 850.3L1494.6 856.2L1495.7 813.3L1496.9 823.3L1498.1 1055.4L1499.2 881.0L1500.3 1009.5L1501.5 812.4L1502.6 837.3L1503.8 915.0L1504.9 808.1L1506.0 763.4L1507.1 808.8L1508.2 876.8L1509.3 847.4L1510.4 875.4L1511.5 990.1L1512.6 916.8L1513.7 858.2L1514.8 888.2L1515.9 833.7L1517.0 977.0L1518.1 941.1L1519.2 871.9L1520.2 975.4L1521.3 898.9L1522.4 966.9L1523.4 872.8L1524.5 1007.3L1525.5 815.2L1526.6 789.8L1527.6 887.3L1528.7 888.2L1529.7 1041.8L1530.7 912.5L1531.8 964.3L1532.8 862.7L1533.8 785.3L1534.9 862.5L1535.9 882.3L1536.9 830.7L1537.9 1002.4L1538.9 1066.7L1539.9 1036.5L1540.9 893.5L1541.9 821.1L1542.9 1105.0L1543.9 987.9L1544.9 1051.8L1545.9 828.4L1546.9 822.2L1547.8 1058.3L1548.8 983.2L1549.8 906.4L1550.8 822.8L1551.7 815.5L1552.7 822.4L1553.6 873.6L1554.6 806.2L1555.6 817.2L1556.5 790.1L1557.5 815.4L1558.4 802.9L1559.4 846.4L1560.3 933.9L1561.2 991.9L1562.2 896.9L1563.1 879.6L1564.0 930.5L1565.0 809.9L1565.9 877.7L1566.8 779.2L1567.7 816.5L1568.6 874.8L1569.5 896.7L1570.5 913.8L1571.4 809.5L1572.3 869.6L1573.2 868.3L1574.1 956.3L1575.0 887.9L1575.9 916.4L1576.8 945.9L1577.6 917.6L1578.5 893.6L1579.4 888.0L1580.3 877.8L1581.2 883.7L1582.0 981.4L1582.9 918.3L1583.8 862.6L1584.7 832.8L1585.5 901.8L1586.4 871.6L1587.3 954.5L1588.1 896.0L1589.0 932.6L1589.8 789.1L1590.7 839.3L1591.5 869.8L1592.4 892.4L1593.2 838.2L1594.1 964.1L1594.9 918.0L1595.7 845.9L1596.6 883.1L1597.4 836.6L1598.2 1002.7L1599.1 928.5L1599.9 864.0L1600.7 961.6L1601.5 917.4L1602.4 853.8L1603.2 794.1L1604.0 953.8L1604.8 952.2L1605.6 846.1L1606.4 812.7L1607.2 957.5L1608.1 1083.9L1608.9 911.7L1609.7 1278.0L1610.5 880.2L1611.3 863.6L1612.0 823.4L1612.8 817.8L1613.6 884.9L1614.4 934.2L1615.2 964.7L1616.0 946.9L1616.8 960.6L1617.6 881.9L1618.3 891.1L1619.1 936.8L1619.9 1010.0L1620.7 998.1L1621.4 919.8L1622.2 872.9L1623.0 924.1L1623.7 932.6L1624.5 904.8L1625.3 849.5L1626.0 923.1L1626.8 904.0L1627.5 854.0L1628.3 908.0L1629.0 956.1L1629.8 916.3L1630.5 972.6L1631.3 908.8L1632.0 895.5L1632.8 851.5L1633.5 930.2L1634.3 838.2L1635.0 909.8L1635.7 887.0L1636.5 820.9L1637.2 846.8L1637.9 789.4L1638.7 974.0L1639.4 1022.8L1640.1 917.2L1640.8 851.4L1641.6 878.3L1642.3 894.3L1643.0 924.2L1643.7 948.0L1644.4 842.1L1645.1 959.5L1645.9 824.1L1646.6 812.2L1647.3 850.9L1648.0 840.5L1648.7 788.3L1649.4 790.2L1650.1 841.6L1650.8 946.3L1651.5 927.9L1652.2 942.0L1652.9 923.5L1653.6 824.7L1654.3 823.3L1655.0 968.7L1655.7 869.8L1656.3 843.6L1657.0 948.5L1657.7 850.7L1658.4 853.7L1659.1 825.4L1659.8 985.9L1660.4 1073.1L1661.1 1000.7L1661.8 930.7L1662.5 916.2L1663.1 982.0L1663.8 837.7L1664.5 827.0L1665.2 847.3L1665.8 872.1L1666.5 982.9L1667.2 866.9L1667.8 869.8L1668.5 867.2L1669.1 1006.1L1669.8 894.7L1670.5 841.2L1671.1 822.6L1671.8 1155.9L1672.4 826.8L1673.1 899.5L1673.7 814.5L1674.4 831.3L1675.0 1023.1L1675.7 1172.0L1676.3 841.8L1677.0 955.1L1677.6 868.6L1678.2 959.6L1678.9 957.2L1679.5 853.3L1680.2 867.3L1680.8 848.6L1681.4 1006.7L1682.1 1004.0L1682.7 856.0L1683.3 1050.2L1684.0 936.7L1684.6 861.8L1685.2 785.3L1685.8 856.9L1686.5 855.8L1687.1 860.4L1687.7 951.5L1688.3 884.0L1688.9 951.7L1689.6 1069.4L1690.2 955.9L1690.8 934.1L1691.4 914.0L1692.0 977.0L1692.6 919.3L1693.2 930.9L1693.9 923.9L1694.5 869.1L1695.1 831.3L1695.7 1099.9L1696.3 895.9L1696.9 934.8L1697.5 976.3L1698.1 863.4L1698.7 936.0L1699.3 918.0L1699.9 850.1L1700.5 859.5L1701.1 983.5L1701.7 846.1L1702.3 885.6L1702.9 835.1L1703.4 891.9L1704.0 911.2L1704.6 884.3L1705.2 892.6L1705.8 1016.3L1706.4 955.5L1707.0 928.3L1707.5 936.0L1708.1 913.5L1708.7 890.6L1709.3 860.1L1709.9 933.6L1710.4 893.5L1711.0 886.4L1711.6 931.4L1712.2 890.8L1712.7 860.2L1713.3 1003.2L1713.9 905.2L1714.5 844.9L1715.0 880.3L1715.6 990.1L1716.2 921.3L1716.7 915.1L1717.3 883.5L1717.9 820.0L1718.4 858.5L1719.0 813.7L1719.5 895.5L1720.1 852.9L1720.7 839.9L1721.2 831.7L1721.8 931.8L1722.3 831.7L1722.9 909.9L1723.4 846.3L1724.0 880.9L1724.5 916.1L1725.1 1013.9L1725.6 1085.6L1726.2 1238.8L1726.7 837.6L1727.3 868.8L1727.8 887.2L1728.4 969.6L1728.9 811.2L1729.5 859.7L1730.0 1031.6L1730.5 916.0L1731.1 821.2L1731.6 1016.1L1732.2 929.8L1732.7 978.5L1733.2 864.4L1733.8 836.2L1734.3 917.4L1734.8 843.8L1735.4 838.6L1735.9 1043.8L1736.4 819.5L1737.0 883.4L1737.5 965.1L1738.0 1110.5L1738.5 993.3L1739.1 957.6L1739.6 864.7L1740.1 837.1L1740.6 854.8L1741.2 815.6L1741.7 830.7L1742.2 1009.4L1742.7 851.6L1743.2 869.3L1743.8 853.7L1744.3 823.5L1744.8 900.6L1745.3 820.4L1745.8 847.6L1746.3 803.5L1746.9 826.6L1747.4 923.0L1747.9 975.5L1748.4 1042.8L1748.9 899.7L1749.4 830.8L1749.9 835.0L1750.4 1078.3L1750.9 915.5L1751.4 928.0L1751.9 1020.9L1752.4 927.3L1752.9 813.6L1753.5 873.7L1754.0 956.9L1754.5 900.4L1755.0 895.4L1755.5 946.5L1755.9 861.4L1756.4 1001.9L1756.9 956.7L1757.4 961.1L1757.9 899.2L1758.4 827.1L1758.9 836.9L1759.4 881.9L1759.9 848.9L1760.4 934.0L1760.9 979.3L1761.4 962.8L1761.9 882.2L1762.4 859.5L1762.8 855.9L1763.3 893.7L1763.8 1013.2L1764.3 1036.1L1764.8 998.9L1765.3 831.6L1765.7 881.8L1766.2 843.8L1766.7 811.5L1767.2 1086.5L1767.7 1112.6L1768.1 913.5L1768.6 837.1L1769.1 859.9L1769.6 1039.0L1770.1 901.2L1770.5 1025.3L1771.0 904.8L1771.5 1033.2L1772.0 911.1L1772.4 976.2L1772.9 956.1L1773.4 817.3L1773.8 836.3L1774.3 996.4L1774.8 929.8L1775.2 938.6L1775.7 958.6L1776.2 920.5L1776.6 947.4L1777.1 863.4L1777.6 887.4L1778.0 970.1L1778.5 945.3L1779.0 948.1L1779.4 884.4L1779.9 845.3L1780.3 1022.3L1780.8 837.4L1781.3 843.5L1781.7 1036.2L1782.2 888.9L1782.6 858.0L1783.1 910.7L1783.5 838.1L1784.0 855.8L1784.5 1009.8L1784.9 879.8L1785.4 879.7L1785.8 918.2L1786.3 887.4L1786.7 956.6L1787.2 801.6L1787.6 1220.4L1788.1 895.7L1788.5 865.7L1789.0 878.2L1789.4 998.7L1789.8 973.5L1790.3 861.5L1790.7 851.0L1791.2 931.8L1791.6 824.4L1792.1 909.1L1792.5 1019.3L1793.0 920.7L1793.4 900.5L1793.8 864.8L1794.3 990.6L1794.7 834.0L1795.2 805.7L1795.6 942.5L1796.0 840.7L1796.5 1243.4L1796.9 889.5L1797.3 793.6L1797.8 942.2L1798.2 1008.9L1798.6 942.9L1799.1 1094.0L1799.5 875.9L1799.9 919.7L1800.4 891.1L1800.8 1074.5L1801.2 925.6L1801.7 829.0L1802.1 885.3L1802.5 874.9L1802.9 983.1L1803.4 893.2L1803.8 950.4L1804.2 931.3L1804.6 849.6L1805.1 822.0L1805.5 833.9L1805.9 901.3L1806.3 940.8L1806.8 1064.2L1807.2 903.6L1807.6 915.1L1808.0 920.0L1808.4 916.4L1808.9 896.7L1809.3 926.5L1809.7 972.5L1810.1 926.2L1810.5 851.4L1811.0 912.6L1811.4 1031.1L1811.8 822.3L1812.2 845.6L1812.6 866.9L1813.0 1023.9L1813.4 980.3L1813.9 908.7L1814.3 850.4L1814.7 974.3L1815.1 872.5L1815.5 940.2L1815.9 1004.3L1816.3 904.2L1816.7 871.8L1817.1 809.4L1817.5 836.0L1818.0 839.7L1818.4 840.4L1818.8 824.7L1819.2 889.1L1819.6 909.5L1820.0 815.5L1820.4 1077.8L1820.8 1156.1L1821.2 1012.3L1821.6 854.0L1822.0 858.3L1822.4 871.5L1822.8 886.5L1823.2 825.1L1823.6 755.4L1824.0 769.1L1824.4 831.0L1824.8 842.8L1825.2 894.5L1825.6 899.6L1826.0 974.6L1826.4 873.2L1826.8 926.4L1827.2 893.8L1827.6 879.8L1828.0 817.3L1828.4 976.6L1828.7 842.2L1829.1 880.2L1829.5 860.7L1829.9 931.9L1830.3 841.0L1830.7 894.6L1831.1 907.6L1831.5 816.2L1831.9 848.2L1832.3 957.5L1832.7 902.9L1833.0 975.1L1833.4 865.4L1833.8 863.5L1834.2 881.7L1834.6 890.6L1835.0 885.9L1835.4 877.8L1835.7 860.1L1836.1 1046.3L1836.5 841.3L1836.9 880.6L1837.3 890.4L1837.7 834.6L1838.0 1034.4L1838.4 881.9L1838.8 1016.2L1839.2 912.3L1839.6 859.5L1839.9 855.6L1840.3 814.7L1840.7 829.0L1841.1 1174.4L1841.5 837.0L1841.8 830.7L1842.2 917.6L1842.6 1065.6L1843.0 840.3L1843.3 848.0L1843.7 904.7L1844.1 856.0L1844.5 864.7L1844.8 820.5L1845.2 793.1L1845.6 817.6L1845.9 787.2L1846.3 889.2L1846.7 1128.2L1847.1 1008.8L1847.4 911.4L1847.8 920.5L1848.2 910.2L1848.5 840.9L1848.9 862.7L1849.3 983.2L1849.6 890.5L1850.0 823.8L1850.4 846.6L1850.7 914.1L1851.1 995.9L1851.5 1093.6L1851.8 956.5L1852.2 901.0L1852.6 889.1L1852.9 954.3L1853.3 936.5L1853.6 950.8L1854.0 957.8L1854.4 888.3L1854.7 883.6L1855.1 979.7L1855.5 944.5L1855.8 845.2L1856.2 844.2L1856.5 824.3L1856.9 919.8L1857.3 961.0L1857.6 959.2L1858.0 856.4L1858.3 915.7L1858.7 905.7L1859.0 894.4L1859.4 911.2L1859.8 850.5L1860.1 939.2L1860.5 858.0L1860.8 859.5L1861.2 841.9L1861.5 893.4L1861.9 904.7L1862.2 890.7L1862.6 834.6L1862.9 892.3L1863.3 1005.3L1863.6 918.4L1864.0 839.0L1864.3 839.4L1864.7 760.0L1865.0 1086.3L1865.4 952.9L1865.7 939.4L1866.1 683.5L1866.4 877.0L1866.8 844.7L1867.1 855.8L1867.5 770.0L1867.8 825.5L1868.2 953.0L1868.5 987.6L1868.9 871.6L1869.2 888.5L1869.5 894.2L1869.9 821.2L1870.2 810.6L1870.6 826.0L1870.9 872.8L1871.3 878.5L1871.6 811.7L1871.9 827.7L1872.3 822.3L1872.6 916.0L1873.0 1069.2L1873.3 911.6L1873.6 877.6L1874.0 998.1L1874.3 882.6L1874.7 963.7L1875.0 857.4L1875.3 879.4L1875.7 822.4L1876.0 832.2L1876.4 845.3L1876.7 1098.2L1877.0 883.1L1877.4 899.8L1877.7 891.2L1878.0 843.9L1878.4 832.1L1878.7 953.9L1879.0 1000.1L1879.4 892.1L1879.7 1076.0L1880.0 897.8L1880.4 866.1L1880.7 1007.6L1881.0 849.7L1881.4 830.0L1881.7 864.2L1882.0 831.7L1882.4 833.7L1882.7 897.5L1883.0 999.2L1883.3 861.4L1883.7 850.3L1884.0 895.8L1884.3 1026.4L1884.7 913.2L1885.0 975.3L1885.3 835.8L1885.6 835.8L1886.0 873.0L1886.3 848.6L1886.6 848.3L1886.9 977.1L1887.3 958.5L1887.6 848.7L1887.9 780.9L1888.2 892.7L1888.6 1082.0L1888.9 962.2L1889.2 957.1L1889.5 1087.1L1889.9 1028.3L1890.2 901.8L1890.5 910.7L1890.8 972.2L1891.1 932.4L1891.5 926.3L1891.8 876.1L1892.1 854.2L1892.4 848.6L1892.7 892.0L1893.1 1035.9L1893.4 1008.5L1893.7 952.7L1894.0 850.3L1894.3 854.4L1894.7 887.1L1895.0 947.1L1895.3 1050.2L1895.6 972.8L1895.9 838.8L1896.2 792.7L1896.5 937.8L1896.9 958.1L1897.2 1033.6L1897.5 949.4L1897.8 861.1L1898.1 861.6L1898.4 899.2L1898.7 870.3L1899.1 878.7L1899.4 812.1L1899.7 896.2L1900.0 1362.9L1900.3 840.3L1900.6 900.6L1900.9 1055.7L1901.2 809.7L1901.6 919.6L1901.9 945.3L1902.2 958.1L1902.5 985.7L1902.8 900.9L1903.1 873.1L1903.4 928.3L1903.7 944.1L1904.0 992.3L1904.3 855.8L1904.6 959.2L1904.9 925.4L1905.3 952.6L1905.6 944.0L1905.9 997.7L1906.2 982.2L1906.5 873.9L1906.8 1261.8L1907.1 837.0L1907.4 928.0L1907.7 860.9L1908.0 885.5L1908.3 834.1L1908.6 876.9L1908.9 866.4L1909.2 988.3L1909.5 864.8L1909.8 995.3L1910.1 934.0L1910.4 869.2L1910.7 846.9L1911.0 852.3L1911.3 846.0L1911.6 818.8L1911.9 913.9L1912.2 892.0L1912.5 1048.4L1912.8 904.9L1913.1 873.5L1913.4 986.0L1913.7 867.7L1914.0 1001.4L1914.3 1002.5L1914.6 886.1L1914.9 937.9L1915.2 801.7L1915.5 826.7L1915.8 906.7L1916.1 863.7L1916.4 868.3L1916.7 912.6L1917.0 1031.5L1917.3 999.8L1917.6 893.8L1917.9 834.4L1918.2 761.8L1918.5 814.0L1918.7 937.3L1919.0 1012.7L1919.3 898.0L1919.6 871.8L1919.9 959.7L1920.2 898.1L1920.5 885.7L1920.8 812.3L1921.1 801.5L1921.4 811.0L1921.7 994.8L1922.0 929.9L1922.2 1026.3L1922.5 1002.1L1922.8 932.1L1923.1 912.0L1923.4 858.3L1923.7 878.0L1924.0 878.3L1924.3 877.9L1924.6 896.5L1924.8 1017.7L1925.1 882.3L1925.4 921.5L1925.7 956.6L1926.0 892.5L1926.3 971.2L1926.6 959.2L1926.9 984.6L1927.1 889.1L1927.4 898.8L1927.7 939.2L1928.0 879.8L1928.3 845.5L1928.6 907.2L1928.8 1142.8L1929.1 973.5L1929.4 877.2L1929.7 911.1L1930.0 1008.9L1930.3 918.4L1930.5 1016.0L1930.8 962.1L1931.1 1027.8L1931.4 927.0L1931.7 892.0L1932.0 1056.5L1932.2 927.1L1932.5 884.9L1932.8 843.1L1933.1 950.9L1933.4 890.0L1933.6 882.2L1933.9 878.8L1934.2 918.9L1934.5 925.6L1934.8 857.9L1935.0 920.5L1935.3 963.9L1935.6 976.7L1935.9 909.7L1936.1 827.3L1936.4 811.2L1936.7 857.1L1937.0 1026.8L1937.3 1073.4L1937.5 870.8L1937.8 875.6L1938.1 910.4L1938.4 970.7L1938.6 856.1L1938.9 872.1L1939.2 856.8L1939.5 906.3L1939.7 825.1L1940.0 880.1L1940.3 869.0L1940.6 893.6L1940.8 1030.2L1941.1 1055.8L1941.4 888.0L1941.6 1051.9L1941.9 854.7L1942.2 969.6L1942.5 1133.6L1942.7 889.5L1943.0 959.0L1943.3 880.4L1943.5 1005.7L1943.8 996.0L1944.1 1015.4L1944.4 905.6L1944.6 882.0L1944.9 896.8L1945.2 932.9L1945.4 977.8L1945.7 991.3L1946.0 920.8L1946.2 1074.5L1946.5 920.4L1946.8 964.3L1947.0 961.2L1947.3 945.4L1947.6 920.5L1947.8 1014.6L1948.1 943.3L1948.4 996.5L1948.6 993.0L1948.9 1044.5L1949.2 859.0L1949.4 816.4L1949.7 919.3L1950.0 915.5L1950.2 843.0L1950.5 950.3L1950.8 938.7L1951.0 964.1L1951.3 962.8L1951.6 948.4L1951.8 807.8L1952.1 823.6L1952.3 927.0L1952.6 850.4L1952.9 913.0L1953.1 933.8L1953.4 869.1L1953.7 864.0L1953.9 854.5L1954.2 833.7L1954.4 902.2L1954.7 929.9L1955.0 873.4L1955.2 1048.6L1955.5 941.1L1955.8 931.5L1956.0 954.6L1956.3 948.6L1956.5 900.7L1956.8 936.4L1957.0 925.4L1957.3 985.1L1957.6 883.7L1957.8 808.3L1958.1 928.9L1958.3 982.9L1958.6 1027.4L1958.9 883.2L1959.1 799.4L1959.4 835.8L1959.6 981.1L1959.9 1016.4L1960.1 891.6L1960.4 1012.5L1960.7 952.1L1960.9 932.4L1961.2 932.3L1961.4 786.2L1961.7 852.3L1961.9 1031.3L1962.2 975.6L1962.4 879.6L1962.7 931.9L1963.0 917.8L1963.2 904.1L1963.5 949.3L1963.7 885.5L1964.0 1063.4L1964.2 816.0L1964.5 817.8L1964.7 844.8L1965.0 947.8L1965.2 937.2L1965.5 912.3L1965.7 836.6L1966.0 1121.3L1966.2 878.7L1966.5 988.4L1966.7 879.5L1967.0 1032.7L1967.2 1053.5L1967.5 859.7L1967.7 827.3L1968.0 836.9L1968.2 882.0L1968.5 895.1L1968.7 826.4L1969.0 832.8L1969.2 930.6L1969.5 859.5L1969.7 857.5L1970.0 860.4L1970.2 948.8L1970.5 929.5L1970.7 943.1L1971.0 916.5L1971.2 828.0L1971.5 884.3L1971.7 995.6L1972.0 888.0L1972.2 866.9L1972.5 962.7L1972.7 894.3L1973.0 850.4L1973.2 906.7L1973.4 853.4L1973.7 775.2L1973.9 823.9L1974.2 873.3L1974.4 880.5L1974.7 861.3L1974.9 857.3L1975.2 873.7L1975.4 979.2L1975.6 980.9L1975.9 897.8L1976.1 882.6L1976.4 930.6L1976.6 964.8L1976.9 1033.2L1977.1 920.5L1977.4 1098.7L1977.6 909.1L1977.8 957.3L1978.1 855.1L1978.3 800.9L1978.6 845.5L1978.8 1127.9L1979.0 944.9L1979.3 878.6L1979.5 851.0L1979.8 963.9L1980.0 913.2L1980.2 990.6L1980.5 875.1L1980.7 882.9L1981.0 1082.2L1981.2 812.8L1981.4 828.7L1981.7 880.5L1981.9 901.8L1982.2 909.6L1982.4 926.1L1982.6 1259.5L1982.9 930.7L1983.1 1007.4L1983.4 896.7L1983.6 819.9L1983.8 832.3L1984.1 985.8L1984.3 959.6L1984.5 915.9L1984.8 937.5L1985.0 816.1L1985.3 847.4L1985.5 873.7L1985.7 889.8L1986.0 815.8L1986.2 805.8L1986.4 934.6L1986.7 977.2L1986.9 901.1L1987.1 896.7L1987.4 1012.6L1987.6 961.6L1987.8 931.4L1988.1 881.4L1988.3 985.5L1988.5 961.6L1988.8 893.9L1989.0 949.7L1989.2 844.3L1989.5 1085.6L1989.7 919.5L1989.9 838.0L1990.2 825.9L1990.4 1079.1L1990.6 929.0L1990.9 911.0L1991.1 853.1L1991.3 802.5L1991.6 1046.0L1991.8 953.8L1992.0 1038.3L1992.3 866.5L1992.5 924.5L1992.7 875.1L1993.0 869.7L1993.2 944.9L1993.4 911.1L1993.7 869.9L1993.9 835.3L1994.1 913.7L1994.3 1018.0L1994.6 930.8L1994.8 844.7L1995.0 838.1L1995.3 835.3L1995.5 893.6L1995.7 859.2L1995.9 1091.5L1996.2 980.5L1996.4 915.6L1996.6 1097.6L1996.9 847.6L1997.1 873.2L1997.3 1053.9L1997.5 1000.8L1997.8 896.6L1998.0 962.1L1998.2 996.0L1998.4 990.4L1998.7 1043.7L1998.9 911.7L1999.1 1003.9L1999.3 1063.0L1999.6 955.7L1999.8 910.9L2000.0 799.1L2000.3 817.1L2000.5 1080.8L2000.7 907.0L2000.9 848.2L2001.2 883.3L2001.4 893.7L2001.6 868.6L2001.8 833.7L2002.0 993.6L2002.3 877.2L2002.5 831.2L2002.7 808.9L2002.9 876.8L2003.2 889.2L2003.4 910.2L2003.6 880.4L2003.8 887.9L2004.1 885.4L2004.3 845.3L2004.5 849.5L2004.7 864.7L2004.9 904.5L2005.2 852.5L2005.4 942.2L2005.6 1028.4L2005.8 854.6L2006.1 972.9L2006.3 859.6L2006.5 823.2L2006.7 894.8L2006.9 837.0L2007.2 881.8L2007.4 947.3L2007.6 934.3L2007.8 879.7L2008.0 889.5L2008.3 863.2L2008.5 904.4L2008.7 926.9L2008.9 985.3L2009.1 1025.5L2009.3 974.6L2009.6 929.8L2009.8 966.5L2010.0 892.7L2010.2 1017.8L2010.4 867.4L2010.7 818.2L2010.9 847.3L2011.1 894.9L2011.3 860.2L2011.5 848.1L2011.7 896.8L2012.0 818.1L2012.2 865.9L2012.4 887.0L2012.6 1148.9L2012.8 831.4L2013.0 841.1L2013.3 859.2L2013.5 984.0L2013.7 895.8L2013.9 983.6L2014.1 876.7L2014.3 855.0L2014.6 874.9L2014.8 832.8L2015.0 858.4L2015.2 832.7L2015.4 915.3L2015.6 892.4L2015.8 919.0L2016.1 1007.8L2016.3 886.9L2016.5 945.5L2016.7 965.2L2016.9 892.6L2017.1 969.1L2017.3 848.0L2017.5 842.5L2017.8 897.5L2018.0 921.6L2018.2 923.9L2018.4 956.9L2018.6 893.9L2018.8 832.2L2019.0 821.4L2019.2 877.3L2019.5 991.8L2019.7 862.0L2019.9 868.2L2020.1 831.7L2020.3 807.1L2020.5 1045.2L2020.7 821.6L2020.9 877.6L2021.1 898.1L2021.4 871.0L2021.6 970.3L2021.8 942.4L2022.0 846.4L2022.2 913.0L2022.4 851.7L2022.6 911.2L2022.8 903.3L2023.0 837.9L2023.2 908.1L2023.5 891.5L2023.7 912.0L2023.9 859.4L2024.1 881.4L2024.3 1035.6L2024.5 850.1L2024.7 951.6L2024.9 877.7L2025.1 811.3L2025.3 965.2L2025.5 965.1L2025.7 830.3L2025.9 820.7L2026.2 908.2L2026.4 903.8L2026.6 968.6L2026.8 957.5L2027.0 842.7L2027.2 973.5L2027.4 872.5L2027.6 947.9L2027.8 1056.3L2028.0 958.3L2028.2 910.9L2028.4 936.6L2028.6 972.4L2028.8 941.5L2029.0 890.3L2029.2 1025.6L2029.5 1013.6L2029.7 1041.7L2029.9 932.5L2030.1 924.4L2030.3 1025.9L2030.5 841.8L2030.7 958.7L2030.9 942.5L2031.1 909.8L2031.3 965.1L2031.5 894.6L2031.7 896.0L2031.9 919.7L2032.1 996.9L2032.3 885.1L2032.5 858.9L2032.7 805.6L2032.9 844.5L2033.1 965.6L2033.3 946.1L2033.5 941.9L2033.7 868.0L2033.9 838.9L2034.1 864.4L2034.3 974.5L2034.5 930.9L2034.7 980.2L2034.9 913.2L2035.1 1065.1L2035.3 952.7L2035.5 1039.2L2035.7 896.4L2035.9 893.3L2036.1 854.4L2036.3 1017.1L2036.5 902.5L2036.7 913.6L2036.9 1046.3L2037.1 977.6L2037.3 1089.6L2037.5 968.1L2037.7 951.1L2037.9 1034.9L2038.1 865.5L2038.3 886.6L2038.5 900.5L2038.7 969.1L2038.9 1005.0L2039.1 937.6L2039.3 914.9L2039.5 929.9L2039.7 889.8L2039.9 848.8L2040.1 932.7L2040.3 922.9L2040.5 955.0L2040.7 912.1L2040.9 917.3L2041.1 943.0L2041.3 860.3L2041.5 874.0L2041.7 1012.9L2041.9 1023.6L2042.1 895.7L2042.3 938.9L2042.5 981.2L2042.7 848.7L2042.9 914.7L2043.1 844.7L2043.3 841.9L2043.5 1021.3L2043.7 1009.8L2043.9 932.0L2044.1 914.0L2044.2 861.8L2044.4 868.8L2044.6 931.0L2044.8 855.0L2045.0 861.0L2045.2 912.3L2045.4 1044.0L2045.6 1005.7L2045.8 911.1L2046.0 847.1L2046.2 850.7L2046.4 844.8L2046.6 849.6L2046.8 899.7L2047.0 920.8L2047.2 1027.9"/>
<path fill="#ff00ff" stroke="none" d="M1270.0 828.2V875.2H1272.5V828.2ZM1272.2 770.2V851.0H1274.6V770.2ZM1274.3 770.2V832.0H1276.8V770.2ZM1276.5 774.0V887.3H1278.9V774.0ZM1278.6 817.8V892.3H1281.1V817.8ZM1280.8 832.3V915.9H1283.2V832.3ZM1282.9 832.3V957.9H1285.4V832.3ZM1285.1 896.4V965.5H1287.5V896.4ZM1287.2 864.3V965.5H1289.7V864.3ZM1289.4 864.3V904.5H1291.8V864.3ZM1291.5 853.0V922.6H1294.0V853.0ZM1293.7 790.5V922.6H1296.2V790.5ZM1295.9 783.2V857.9H1298.3V783.2ZM1298.0 783.2V938.9H1300.5V783.2ZM1300.2 815.1V1029.7H1302.6V815.1ZM1302.3 807.3V1029.7H1304.8V807.3ZM1304.5 807.3V927.9H1306.9V807.3ZM1306.6 811.1V864.5H1309.1V811.1ZM1308.8 819.8V901.2H1311.2V819.8ZM1310.9 787.5V901.2H1313.4V787.5ZM1313.1 787.5V845.0H1315.6V787.5ZM1315.3 795.9V827.1H1317.7V795.9ZM1317.4 815.5V943.1H1319.9V815.5ZM1319.6 816.6V1000.4H1322.0V816.6ZM1321.7 874.5V1000.4H1324.2V874.5ZM1323.9 866.4V935.9H1326.3V866.4ZM1326.0 866.4V913.4H1328.5V866.4ZM1328.2 892.5V982.6H1330.6V892.5ZM1330.3 837.3V982.6H1332.8V837.3ZM1332.5 816.3V979.2H1334.9V816.3ZM1334.7 816.3V912.4H1337.1V816.3ZM1336.8 831.2V961.0H1339.3V831.2ZM1339.0 897.3V961.0H1341.4V897.3ZM1341.1 869.6V945.0H1343.6V869.6ZM1343.3 837.7V900.8H1345.7V837.7ZM1345.4 787.5V872.4H1347.9V787.5ZM1347.6 783.2V840.9H1350.0V783.2ZM1349.7 783.2V805.6H1352.2V783.2ZM1351.9 786.4V829.3H1354.3V786.4ZM1354.0 793.0V859.5H1356.5V793.0ZM1356.2 776.7V859.5H1358.7V776.7ZM1358.4 775.3V817.9H1360.8V775.3ZM1360.5 775.3V888.5H1363.0V775.3ZM1362.7 813.5V891.0H1365.1V813.5ZM1364.8 839.0V935.3H1367.3V839.0ZM1367.0 822.9V969.4H1369.4V822.9ZM1369.1 822.9V971.5H1371.6V822.9ZM1371.3 890.7V971.5H1373.7V890.7ZM1373.4 899.3V977.3H1375.9V899.3ZM1375.6 948.5V991.6H1378.0V948.5ZM1377.8 894.6V991.6H1380.2V894.6ZM1379.9 872.8V991.6H1382.4V872.8ZM1382.1 872.8V922.9H1384.5V872.8ZM1384.2 898.8V947.3H1386.7V898.8ZM1386.4 915.0V947.3H1388.8V915.0ZM1388.5 817.3V947.0H1391.0V817.3ZM1390.7 800.8V919.7H1393.1V800.8ZM1392.8 800.8V1013.3H1395.3V800.8ZM1395.0 838.0V1013.3H1397.4V838.0ZM1397.1 888.2V958.9H1399.6V888.2ZM1399.3 858.2V934.0H1401.8V858.2ZM1401.5 782.3V934.0H1403.9V782.3ZM1403.6 781.2V864.3H1406.1V781.2ZM1405.8 781.2V983.5H1408.2V781.2ZM1407.9 810.7V1045.2H1410.4V810.7ZM1410.1 855.0V1045.2H1412.5V855.0ZM1412.2 802.6V886.2H1414.7V802.6ZM1414.4 801.9V886.2H1416.8V801.9ZM1416.5 801.9V1085.3H1419.0V801.9ZM1418.7 847.7V1111.2H1421.1V847.7ZM1420.8 843.5V1111.2H1423.3V843.5ZM1423.0 789.9V928.6H1425.5V789.9ZM1425.2 751.0V846.8H1427.6V751.0ZM1427.3 751.0V1026.7H1429.8V751.0ZM1429.5 781.8V1026.7H1431.9V781.8ZM1431.6 781.4V978.2H1434.1V781.4ZM1433.8 781.4V1126.9H1436.2V781.4ZM1435.9 822.9V1182.7H1438.4V822.9ZM1438.1 838.1V1182.7H1440.5V838.1ZM1440.2 827.4V1010.5H1442.7V827.4ZM1442.4 813.8V1085.2H1444.9V813.8ZM1444.6 813.8V1085.2H1447.0V813.8ZM1446.7 816.0V957.2H1449.2V816.0ZM1448.9 809.5V957.2H1451.3V809.5ZM1451.0 804.1V920.1H1453.5V804.1ZM1453.2 804.1V936.2H1455.6V804.1ZM1455.3 873.7V936.2H1457.8V873.7ZM1457.5 873.7V996.0H1459.9V873.7ZM1459.6 777.7V996.0H1462.1V777.7ZM1461.8 777.7V945.8H1464.2V777.7ZM1464.0 782.6V947.6H1466.4V782.6ZM1466.1 853.4V947.6H1468.6V853.4ZM1468.3 834.8V913.1H1470.7V834.8ZM1470.4 834.8V935.5H1472.9V834.8ZM1472.6 850.7V973.5H1475.0V850.7ZM1474.7 863.1V973.5H1477.2V863.1ZM1476.9 863.1V920.4H1479.3V863.1ZM1479.0 874.7V975.3H1481.5V874.7ZM1481.2 874.7V1032.7H1483.6V874.7ZM1483.3 833.9V1032.7H1485.8V833.9ZM1485.5 833.9V1020.5H1488.0V833.9ZM1487.7 805.2V981.2H1490.1V805.2ZM1489.8 805.2V981.2H1492.3V805.2ZM1492.0 825.1V920.4H1494.4V825.1ZM1494.1 812.1V919.5H1496.6V812.1ZM1496.3 812.1V1056.6H1498.7V812.1ZM1498.4 811.2V1056.6H1500.9V811.2ZM1500.6 811.2V1010.7H1503.0V811.2ZM1502.7 762.3V916.2H1505.2V762.3ZM1504.9 762.2V911.9H1507.3V762.2ZM1507.0 762.2V878.0H1509.5V762.2ZM1509.2 846.2V991.3H1511.7V846.2ZM1511.4 857.0V991.3H1513.8V857.0ZM1513.5 832.5V947.4H1516.0V832.5ZM1515.7 832.5V978.2H1518.1V832.5ZM1517.8 870.7V978.2H1520.3V870.7ZM1520.0 870.7V976.6H1522.4V870.7ZM1522.1 839.8V1008.5H1524.6V839.8ZM1524.3 788.6V1008.5H1526.7V788.6ZM1526.4 788.6V1041.7H1528.9V788.6ZM1528.6 874.3V1043.0H1531.1V874.3ZM1530.8 784.1V1043.0H1533.2V784.1ZM1532.9 784.1V962.1H1535.4V784.1ZM1535.1 794.3V1030.6H1537.5V794.3ZM1537.2 829.5V1067.9H1539.7V829.5ZM1539.4 819.9V1067.9H1541.8V819.9ZM1541.5 819.9V1106.2H1544.0V819.9ZM1543.7 821.0V1106.2H1546.1V821.0ZM1545.8 821.0V1059.5H1548.3V821.0ZM1548.0 817.9V1059.5H1550.4V817.9ZM1550.2 814.3V965.7H1552.6V814.3ZM1552.3 805.0V874.8H1554.8V805.0ZM1554.5 788.9V874.8H1556.9V788.9ZM1556.6 788.9V895.6H1559.1V788.9ZM1558.8 801.7V993.1H1561.2V801.7ZM1560.9 878.4V993.1H1563.4V878.4ZM1563.1 808.7V931.7H1565.5V808.7ZM1565.2 778.0V917.9H1567.7V778.0ZM1567.4 778.0V915.0H1569.8V778.0ZM1569.5 808.3V915.0H1572.0V808.3ZM1571.7 808.3V957.5H1574.2V808.3ZM1573.9 867.1V957.5H1576.3V867.1ZM1576.0 886.7V947.1H1578.5V886.7ZM1578.2 876.6V937.2H1580.6V876.6ZM1580.3 875.5V982.6H1582.8V875.5ZM1582.5 831.6V982.6H1584.9V831.6ZM1584.6 831.6V955.7H1587.1V831.6ZM1586.8 787.9V955.7H1589.2V787.9ZM1588.9 787.9V933.8H1591.4V787.9ZM1591.1 797.8V965.3H1593.5V797.8ZM1593.2 837.0V965.3H1595.7V837.0ZM1595.4 835.4V1003.9H1597.9V835.4ZM1597.6 835.4V1003.9H1600.0V835.4ZM1599.7 808.8V970.9H1602.2V808.8ZM1601.9 792.9V960.4H1604.3V792.9ZM1604.0 792.9V963.9H1606.5V792.9ZM1606.2 811.5V1177.7H1608.6V811.5ZM1608.3 845.4V1279.2H1610.8V845.4ZM1610.5 816.6V1279.2H1612.9V816.6ZM1612.6 816.6V965.9H1615.1V816.6ZM1614.8 880.7V965.9H1617.3V880.7ZM1617.0 880.7V1011.2H1619.4V880.7ZM1619.1 871.7V1011.2H1621.6V871.7ZM1621.3 871.7V1007.0H1623.7V871.7ZM1623.4 848.3V933.8H1625.9V848.3ZM1625.6 848.3V943.9H1628.0V848.3ZM1627.7 852.8V973.8H1630.2V852.8ZM1629.9 850.3V973.8H1632.3V850.3ZM1632.0 837.0V939.5H1634.5V837.0ZM1634.2 819.7V931.4H1636.6V819.7ZM1636.3 788.2V1024.0H1638.8V788.2ZM1638.5 788.2V1024.0H1641.0V788.2ZM1640.7 850.2V998.3H1643.1V850.2ZM1642.8 819.3V960.7H1645.3V819.3ZM1645.0 811.0V960.7H1647.4V811.0ZM1647.1 787.1V885.6H1649.6V787.1ZM1649.3 787.1V947.5H1651.7V787.1ZM1651.4 822.1V947.5H1653.9V822.1ZM1653.6 822.1V969.9H1656.0V822.1ZM1655.7 827.7V969.9H1658.2V827.7ZM1657.9 824.2V1074.3H1660.4V824.2ZM1660.1 824.2V1074.3H1662.5V824.2ZM1662.2 825.8V1003.2H1664.7V825.8ZM1664.4 825.8V984.1H1666.8V825.8ZM1666.5 855.8V1007.3H1669.0V855.8ZM1668.7 821.4V1157.1H1671.1V821.4ZM1670.8 813.3V1157.1H1673.3V813.3ZM1673.0 813.3V1173.2H1675.4V813.3ZM1675.1 821.5V1173.2H1677.6V821.5ZM1677.3 840.6V960.8H1679.8V840.6ZM1679.5 847.4V1007.9H1681.9V847.4ZM1681.6 826.6V1051.4H1684.1V826.6ZM1683.8 784.1V1051.4H1686.2V784.1ZM1685.9 784.1V996.3H1688.4V784.1ZM1688.1 858.4V1070.6H1690.5V858.4ZM1690.2 912.8V1070.6H1692.7V912.8ZM1692.4 830.1V1084.4H1694.8V830.1ZM1694.5 830.1V1101.1H1697.0V830.1ZM1696.7 848.9V1101.1H1699.1V848.9ZM1698.8 844.9V984.7H1701.3V844.9ZM1701.0 833.9V984.7H1703.5V833.9ZM1703.2 833.9V1017.5H1705.6V833.9ZM1705.3 883.1V1017.5H1707.8V883.1ZM1707.5 858.9V958.2H1709.9V858.9ZM1709.6 858.9V934.8H1712.1V858.9ZM1711.8 843.7V1004.4H1714.2V843.7ZM1713.9 843.7V1004.4H1716.4V843.7ZM1716.1 812.5V991.3H1718.5V812.5ZM1718.2 812.5V896.7H1720.7V812.5ZM1720.4 830.5V933.0H1722.8V830.5ZM1722.5 830.5V1132.9H1725.0V830.5ZM1724.7 836.4V1240.0H1727.2V836.4ZM1726.9 810.0V1240.0H1729.3V810.0ZM1729.0 810.0V1032.8H1731.5V810.0ZM1731.2 820.0V1018.3H1733.6V820.0ZM1733.3 818.3V1045.0H1735.8V818.3ZM1735.5 818.3V1111.7H1737.9V818.3ZM1737.6 830.7V1111.7H1740.1V830.7ZM1739.8 814.4V1010.6H1742.2V814.4ZM1741.9 814.4V1010.6H1744.4V814.4ZM1744.1 802.3V921.3H1746.6V802.3ZM1746.3 802.3V1044.0H1748.7V802.3ZM1748.4 829.6V1079.5H1750.9V829.6ZM1750.6 812.4V1079.5H1753.0V812.4ZM1752.7 812.4V1022.1H1755.2V812.4ZM1754.9 860.2V1003.1H1757.3V860.2ZM1757.0 825.9V1003.1H1759.5V825.9ZM1759.2 825.9V980.5H1761.6V825.9ZM1761.3 854.7V1037.3H1763.8V854.7ZM1763.5 810.3V1037.3H1765.9V810.3ZM1765.7 810.3V1113.8H1768.1V810.3ZM1767.8 810.3V1113.8H1770.3V810.3ZM1770.0 847.1V1040.2H1772.4V847.1ZM1772.1 816.1V1034.4H1774.6V816.1ZM1774.3 816.1V997.6H1776.7V816.1ZM1776.4 861.1V971.3H1778.9V861.1ZM1778.6 836.2V1037.4H1781.0V836.2ZM1780.7 836.2V1037.4H1783.2V836.2ZM1782.9 836.9V1013.8H1785.3V836.9ZM1785.0 800.4V1221.6H1787.5V800.4ZM1787.2 800.4V1221.6H1789.7V800.4ZM1789.4 823.2V1020.5H1791.8V823.2ZM1791.5 823.2V1020.5H1794.0V823.2ZM1793.7 804.5V1244.6H1796.1V804.5ZM1795.8 792.4V1244.6H1798.3V792.4ZM1798.0 792.4V1095.2H1800.4V792.4ZM1800.1 827.8V1095.2H1802.6V827.8ZM1802.3 820.8V984.3H1804.7V820.8ZM1804.4 820.8V1065.4H1806.9V820.8ZM1806.6 832.8V1065.4H1809.0V832.8ZM1808.8 821.1V1032.3H1811.2V821.1ZM1810.9 821.1V1032.3H1813.4V821.1ZM1813.1 830.9V1025.1H1815.5V830.9ZM1815.2 808.2V1005.5H1817.7V808.2ZM1817.4 808.2V1125.7H1819.8V808.2ZM1819.5 814.3V1157.3H1822.0V814.3ZM1821.7 754.2V1157.3H1824.1V754.2ZM1823.8 754.2V975.8H1826.3V754.2ZM1826.0 816.1V977.8H1828.4V816.1ZM1828.1 816.1V977.8H1830.6V816.1ZM1830.3 815.0V976.3H1832.8V815.0ZM1832.5 815.0V976.3H1834.9V815.0ZM1834.6 833.4V1047.5H1837.1V833.4ZM1836.8 833.4V1047.5H1839.2V833.4ZM1838.9 813.5V1175.6H1841.4V813.5ZM1841.1 813.5V1175.6H1843.5V813.5ZM1843.2 786.0V1066.8H1845.7V786.0ZM1845.4 786.0V1129.4H1847.8V786.0ZM1847.5 822.6V1129.4H1850.0V822.6ZM1849.7 822.6V1094.8H1852.1V822.6ZM1851.8 882.4V1094.8H1854.3V882.4ZM1854.0 823.1V980.9H1856.5V823.1ZM1856.2 823.1V980.9H1858.6V823.1ZM1858.3 840.7V962.2H1860.8V840.7ZM1860.5 833.4V1006.5H1862.9V833.4ZM1862.6 758.8V1087.5H1865.1V758.8ZM1864.8 682.3V1087.5H1867.2V682.3ZM1866.9 682.3V988.8H1869.4V682.3ZM1869.1 809.4V988.8H1871.5V809.4ZM1871.2 809.4V1070.4H1873.7V809.4ZM1873.4 821.2V1075.2H1875.9V821.2ZM1875.6 821.2V1099.4H1878.0V821.2ZM1877.7 830.9V1099.4H1880.2V830.9ZM1879.9 828.8V1077.2H1882.3V828.8ZM1882.0 828.8V1027.6H1884.5V828.8ZM1884.2 834.6V1027.6H1886.6V834.6ZM1886.3 779.7V1088.3H1888.8V779.7ZM1888.5 779.7V1088.3H1890.9V779.7ZM1890.6 847.4V1086.9H1893.1V847.4ZM1892.8 818.3V1051.4H1895.2V818.3ZM1894.9 791.5V1051.4H1897.4V791.5ZM1897.1 791.5V1364.1H1899.6V791.5ZM1899.3 808.5V1364.1H1901.7V808.5ZM1901.4 808.5V1056.9H1903.9V808.5ZM1903.6 854.6V1263.0H1906.0V854.6ZM1905.7 832.9V1263.0H1908.2V832.9ZM1907.9 832.9V1263.0H1910.3V832.9ZM1910.0 817.6V1049.6H1912.5V817.6ZM1912.2 800.5V1049.6H1914.6V800.5ZM1914.3 800.5V1032.7H1916.8V800.5ZM1916.5 760.6V1032.7H1919.0V760.6ZM1918.7 760.6V1013.9H1921.1V760.6ZM1920.8 800.3V1027.5H1923.3V800.3ZM1923.0 857.1V1027.5H1925.4V857.1ZM1925.1 844.3V1018.9H1927.6V844.3ZM1927.3 844.3V1144.0H1929.7V844.3ZM1929.4 854.8V1144.0H1931.9V854.8ZM1931.6 841.9V1057.7H1934.0V841.9ZM1933.7 810.0V1031.2H1936.2V810.0ZM1935.9 810.0V1074.6H1938.3V810.0ZM1938.0 823.9V1074.6H1940.5V823.9ZM1940.2 823.9V1134.8H1942.7V823.9ZM1942.4 853.5V1134.8H1944.8V853.5ZM1944.5 880.8V1075.7H1947.0V880.8ZM1946.7 815.2V1075.7H1949.1V815.2ZM1948.8 806.6V1045.7H1951.3V806.6ZM1951.0 806.6V965.3H1953.4V806.6ZM1953.1 819.4V1049.8H1955.6V819.4ZM1955.3 807.1V1049.8H1957.7V807.1ZM1957.4 798.2V1028.6H1959.9V798.2ZM1959.6 785.0V1032.5H1962.1V785.0ZM1961.8 785.0V1064.6H1964.2V785.0ZM1963.9 814.8V1122.5H1966.4V814.8ZM1966.1 825.2V1122.5H1968.5V825.2ZM1968.2 825.2V1054.7H1970.7V825.2ZM1970.4 793.6V996.8H1972.8V793.6ZM1972.5 774.0V996.8H1975.0V774.0ZM1974.7 774.0V1099.9H1977.1V774.0ZM1976.8 799.7V1129.1H1979.3V799.7ZM1979.0 799.7V1129.1H1981.4V799.7ZM1981.2 811.6V1260.7H1983.6V811.6ZM1983.3 804.6V1260.7H1985.8V804.6ZM1985.5 804.6V1013.8H1987.9V804.6ZM1987.6 824.7V1086.8H1990.1V824.7ZM1989.8 801.3V1086.8H1992.2V801.3ZM1991.9 801.3V1047.2H1994.4V801.3ZM1994.1 834.1V1098.8H1996.5V834.1ZM1996.2 834.1V1098.8H1998.7V834.1ZM1998.4 797.9V1082.0H2000.8V797.9ZM2000.5 797.9V1082.0H2003.0V797.9ZM2002.7 807.7V1029.6H2005.2V807.7ZM2004.9 822.0V1029.6H2007.3V822.0ZM2007.0 822.0V1026.7H2009.5V822.0ZM2009.2 816.9V1026.7H2011.6V816.9ZM2011.3 816.9V1150.1H2013.8V816.9ZM2013.5 830.2V1150.1H2015.9V830.2ZM2015.6 827.9V1009.0H2018.1V827.9ZM2017.8 805.9V1046.4H2020.2V805.9ZM2019.9 805.9V1046.4H2022.4V805.9ZM2022.1 810.1V1036.8H2024.5V810.1ZM2024.2 810.1V1036.8H2026.7V810.1ZM2026.4 819.5V1057.5H2028.9V819.5ZM2028.6 840.6V1057.5H2031.0V840.6ZM2030.7 804.4V1042.9H2033.2V804.4ZM2032.9 804.4V1066.3H2035.3V804.4ZM2035.0 837.8V1090.8H2037.5V837.8ZM2037.2 847.6V1090.8H2039.6V847.6ZM2039.3 847.6V1024.8H2041.8V847.6ZM2041.5 840.7V1024.8H2043.9V840.7ZM2043.6 840.7V1045.2H2046.1V840.7ZM2045.8 843.6V1045.2H2047.3V843.6Z"/>
</g>
<g stroke="#000000" stroke-width="5.4" fill="none" stroke-linecap="butt">
<line x1="304.9" y1="64.9" x2="2074.8" y2="64.9"/>
<line x1="304.9" y1="1443.4" x2="2074.8" y2="1443.4"/>
<line x1="333.9" y1="62.2" x2="333.9" y2="1471.2"/>
<line x1="2047.0" y1="62.2" x2="2047.0" y2="1471.2"/>
<line x1="319.3" y1="1360.4" x2="333.9" y2="1360.4"/>
<line x1="2047.0" y1="1360.4" x2="2061.6" y2="1360.4"/>
<line x1="319.3" y1="1311.9" x2="333.9" y2="1311.9"/>
<line x1="2047.0" y1="1311.9" x2="2061.6" y2="1311.9"/>
<line x1="319.3" y1="1277.4" x2="333.9" y2="1277.4"/>
<line x1="2047.0" y1="1277.4" x2="2061.6" y2="1277.4"/>
<line x1="319.3" y1="1250.7" x2="333.9" y2="1250.7"/>
<line x1="2047.0" y1="1250.7" x2="2061.6" y2="1250.7"/>
<line x1="319.3" y1="1228.9" x2="333.9" y2="1228.9"/>
<line x1="2047.0" y1="1228.9" x2="2061.6" y2="1228.9"/>
<line x1="319.3" y1="1210.4" x2="333.9" y2="1210.4"/>
<line x1="2047.0" y1="1210.4" x2="2061.6" y2="1210.4"/>
<line x1="319.3" y1="1194.4" x2="333.9" y2="1194.4"/>
<line x1="2047.0" y1="1194.4" x2="2061.6" y2="1194.4"/>
<line x1="319.3" y1="1180.3" x2="333.9" y2="1180.3"/>
<line x1="2047.0" y1="1180.3" x2="2061.6" y2="1180.3"/>
<line x1="304.9" y1="1167.7" x2="333.9" y2="1167.7"/>
<line x1="2047.0" y1="1167.7" x2="2074.8" y2="1167.7"/>
<line x1="319.3" y1="1084.7" x2="333.9" y2="1084.7"/>
<line x1="2047.0" y1="1084.7" x2="2061.6" y2="1084.7"/>
<line x1="319.3" y1="1036.2" x2="333.9" y2="1036.2"/>
<line x1="2047.0" y1="1036.2" x2="2061.6" y2="1036.2"/>
<line x1="319.3" y1="1001.7" x2="333.9" y2="1001.7"/>
<line x1="2047.0" y1="1001.7" x2="2061.6" y2="1001.7"/>
<line x1="319.3" y1="975.0" x2="333.9" y2="975.0"/>
<line x1="2047.0" y1="975.0" x2="2061.6" y2="975.0"/>
<line x1="319.3" y1="953.2" x2="333.9" y2="953.2"/>
<line x1="2047.0" y1="953.2" x2="2061.6" y2="953.2"/>
<line x1="319.3" y1="934.7" x2="333.9" y2="934.7"/>
<line x1="2047.0" y1="934.7" x2="2061.6" y2="934.7"/>
<line x1="319.3" y1="918.7" x2="333.9" y2="918.7"/>
<line x1="2047.0" y1="918.7" x2="2061.6" y2="918.7"/>
<line x1="319.3" y1="904.6" x2="333.9" y2="904.6"/>
<line x1="2047.0" y1="904.6" x2="2061.6" y2="904.6"/>
<line x1="304.9" y1="892.0" x2="333.9" y2="892.0"/>
<line x1="2047.0" y1="892.0" x2="2074.8" y2="892.0"/>
<line x1="319.3" y1="809.0" x2="333.9" y2="809.0"/>
<line x1="2047.0" y1="809.0" x2="2061.6" y2="809.0"/>
<line x1="319.3" y1="760.5" x2="333.9" y2="760.5"/>
<line x1="2047.0" y1="760.5" x2="2061.6" y2="760.5"/>
<line x1="319.3" y1="726.0" x2="333.9" y2="726.0"/>
<line x1="2047.0" y1="726.0" x2="2061.6" y2="726.0"/>
<line x1="319.3" y1="699.3" x2="333.9" y2="699.3"/>
<line x1="2047.0" y1="699.3" x2="2061.6" y2="699.3"/>
<line x1="319.3" y1="677.5" x2="333.9" y2="677.5"/>
<line x1="2047.0" y1="677.5" x2="2061.6" y2="677.5"/>
<line x1="319.3" y1="659.0" x2="333.9" y2="659.0"/>
<line x1="2047.0" y1="659.0" x2="2061.6" y2="659.0"/>
<line x1="319.3" y1="643.0" x2="333.9" y2="643.0"/>
<line x1="2047.0" y1="643.0" x2="2061.6" y2="643.0"/>
<line x1="319.3" y1="628.9" x2="333.9" y2="628.9"/>
<line x1="2047.0" y1="628.9" x2="2061.6" y2="628.9"/>
<line x1="304.9" y1="616.3" x2="333.9" y2="616.3"/>
<line x1="2047.0" y1="616.3" x2="2074.8" y2="616.3"/>
<line x1="319.3" y1="533.3" x2="333.9" y2="533.3"/>
<line x1="2047.0" y1="533.3" x2="2061.6" y2="533.3"/>
<line x1="319.3" y1="484.8" x2="333.9" y2="484.8"/>
<line x1="2047.0" y1="484.8" x2="2061.6" y2="484.8"/>
<line x1="319.3" y1="450.3" x2="333.9" y2="450.3"/>
<line x1="2047.0" y1="450.3" x2="2061.6" y2="450.3"/>
<line x1="319.3" y1="423.6" x2="333.9" y2="423.6"/>
<line x1="2047.0" y1="423.6" x2="2061.6" y2="423.6"/>
<line x1="319.3" y1="401.8" x2="333.9" y2="401.8"/>
<line x1="2047.0" y1="401.8" x2="2061.6" y2="401.8"/>
<line x1="319.3" y1="383.3" x2="333.9" y2="383.3"/>
<line x1="2047.0" y1="383.3" x2="2061.6" y2="383.3"/>
<line x1="319.3" y1="367.3" x2="333.9" y2="367.3"/>
<line x1="2047.0" y1="367.3" x2="2061.6" y2="367.3"/>
<line x1="319.3" y1="353.2" x2="333.9" y2="353.2"/>
<line x1="2047.0" y1="353.2" x2="2061.6" y2="353.2"/>
<line x1="304.9" y1="340.6" x2="333.9" y2="340.6"/>
<line x1="2047.0" y1="340.6" x2="2074.8" y2="340.6"/>
<line x1="319.3" y1="257.6" x2="333.9" y2="257.6"/>
<line x1="2047.0" y1="257.6" x2="2061.6" y2="257.6"/>
<line x1="319.3" y1="209.1" x2="333.9" y2="209.1"/>
<line x1="2047.0" y1="209.1" x2="2061.6" y2="209.1"/>
<line x1="319.3" y1="174.6" x2="333.9" y2="174.6"/>
<line x1="2047.0" y1="174.6" x2="2061.6" y2="174.6"/>
<line x1="319.3" y1="147.9" x2="333.9" y2="147.9"/>
<line x1="2047.0" y1="147.9" x2="2061.6" y2="147.9"/>
<line x1="319.3" y1="126.1" x2="333.9" y2="126.1"/>
<line x1="2047.0" y1="126.1" x2="2061.6" y2="126.1"/>
<line x1="319.3" y1="107.6" x2="333.9" y2="107.6"/>
<line x1="2047.0" y1="107.6" x2="2061.6" y2="107.6"/>
<line x1="319.3" y1="91.6" x2="333.9" y2="91.6"/>
<line x1="2047.0" y1="91.6" x2="2061.6" y2="91.6"/>
<line x1="319.3" y1="77.5" x2="333.9" y2="77.5"/>
<line x1="2047.0" y1="77.5" x2="2061.6" y2="77.5"/>
<line x1="547.4" y1="1443.4" x2="547.4" y2="1458.0"/>
<line x1="672.4" y1="1443.4" x2="672.4" y2="1458.0"/>
<line x1="761.0" y1="1443.4" x2="761.0" y2="1458.0"/>
<line x1="829.7" y1="1443.4" x2="829.7" y2="1458.0"/>
<line x1="885.9" y1="1443.4" x2="885.9" y2="1458.0"/>
<line x1="933.4" y1="1443.4" x2="933.4" y2="1458.0"/>
<line x1="974.5" y1="1443.4" x2="974.5" y2="1458.0"/>
<line x1="1010.8" y1="1443.4" x2="1010.8" y2="1458.0"/>
<line x1="1256.8" y1="1443.4" x2="1256.8" y2="1458.0"/>
<line x1="1381.7" y1="1443.4" x2="1381.7" y2="1458.0"/>
<line x1="1470.3" y1="1443.4" x2="1470.3" y2="1458.0"/>
<line x1="1595.3" y1="1443.4" x2="1595.3" y2="1458.0"/>
<line x1="1642.7" y1="1443.4" x2="1642.7" y2="1458.0"/>
<line x1="1683.9" y1="1443.4" x2="1683.9" y2="1458.0"/>
<line x1="1720.2" y1="1443.4" x2="1720.2" y2="1458.0"/>
<line x1="1966.2" y1="1443.4" x2="1966.2" y2="1458.0"/>
<line x1="1043.3" y1="1443.4" x2="1043.3" y2="1471.2"/>
<line x1="1752.6" y1="1443.4" x2="1752.6" y2="1471.2"/>
<line x1="1865.7" y1="1443.4" x2="1865.7" y2="1471.2"/>
</g>
<g stroke-width="3" fill="none">
<line x1="368.8" y1="1106.3" x2="458.6" y2="1106.3" stroke="#ff00ff"/>
<line x1="368.8" y1="1196.5" x2="458.6" y2="1196.5" stroke="#00ffff"/>
<line x1="368.8" y1="1284.4" x2="458.6" y2="1284.4" stroke="#ff8000"/>
<line x1="368.8" y1="1372.3" x2="458.6" y2="1372.3" stroke="#008000"/>
</g>
<g font-family="'Liberation Serif', serif" fill="#000000">
<text x="473.5" y="1132" font-size="71">5</text>
<text x="473.5" y="1221" font-size="71">6</text>
<text x="473.5" y="1309" font-size="71">7</text>
<text x="473.5" y="1397" font-size="71">24</text>
<text x="189.0" y="92.4" font-size="71">10<tspan font-size="53" dy="-29.5" dx="2">1</tspan></text>
<text x="189.0" y="368.1" font-size="71">10<tspan font-size="53" dy="-29.5" dx="2">0</tspan></text>
<text x="171.0" y="643.8" font-size="71">10<tspan font-size="53" dy="-29.5" dx="2">-1</tspan></text>
<text x="170.0" y="919.5" font-size="71">10<tspan font-size="53" dy="-29.5" dx="2">-2</tspan></text>
<text x="170.0" y="1195.2" font-size="71">10<tspan font-size="53" dy="-29.5" dx="2">-3</tspan></text>
<text x="170.0" y="1470.9" font-size="71">10<tspan font-size="53" dy="-29.5" dx="2">-4</tspan></text>
<text x="358.8" y="1552" font-size="71" text-anchor="middle">0.001</text>
<text x="1022.6" y="1552" font-size="71" text-anchor="middle">0.01</text>
<text x="1601.2" y="1552" font-size="71" text-anchor="middle">0.07</text>
<text x="1741.3" y="1552" font-size="71" text-anchor="middle">0.1</text>
<text x="1887.6" y="1552" font-size="71" text-anchor="middle">0.14</text>
<text x="2067.5" y="1552" font-size="71" text-anchor="middle">0.26</text>
<text x="1006" y="1650" font-size="77.6">Frequency <tspan dx="4.6">(s</tspan><tspan font-size="40" dy="-28" dx="2">-1</tspan><tspan dy="28" dx="2">)</tspan></text>
<text transform="translate(88.4 936.2) rotate(-90)" font-size="78.2">Amplitude (K)</text>
<text x="1143.5" y="1753.5" font-size="85" textLength="91.5" lengthAdjust="spacingAndGlyphs">(<tspan font-weight="bold">c</tspan>)</text>
</g>
</g>
</svg>
</body>
</html>
